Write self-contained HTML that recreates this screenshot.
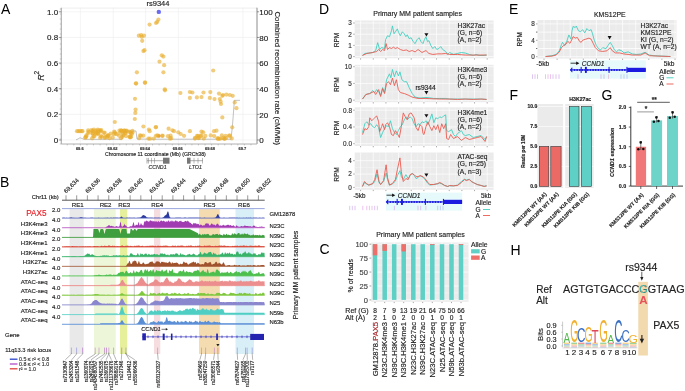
<!DOCTYPE html>
<html><head><meta charset="utf-8"><style>
html,body{margin:0;padding:0;background:#fff;width:685px;height:391px;overflow:hidden}
svg{display:block;filter:blur(0.3px)}
svg text{font-family:"Liberation Sans",sans-serif}
</style></head><body>
<svg width="685" height="391" viewBox="0 0 685 391" font-family="Liberation Sans">
<rect width="685" height="391" fill="#fff"/>
<text x="1.0" y="13.7" font-size="14" text-anchor="start" fill="#000" >A</text>
<line x1="80.40" y1="7.70" x2="80.40" y2="144.00" stroke="#ececec" stroke-width="0.6" />
<line x1="113.20" y1="7.70" x2="113.20" y2="144.00" stroke="#ececec" stroke-width="0.6" />
<line x1="145.60" y1="7.70" x2="145.60" y2="144.00" stroke="#ececec" stroke-width="0.6" />
<line x1="178.40" y1="7.70" x2="178.40" y2="144.00" stroke="#ececec" stroke-width="0.6" />
<line x1="210.60" y1="7.70" x2="210.60" y2="144.00" stroke="#ececec" stroke-width="0.6" />
<line x1="243.00" y1="7.70" x2="243.00" y2="144.00" stroke="#ececec" stroke-width="0.6" />
<line x1="61.30" y1="140.00" x2="257.00" y2="140.00" stroke="#ececec" stroke-width="0.6" />
<line x1="61.30" y1="114.36" x2="257.00" y2="114.36" stroke="#ececec" stroke-width="0.6" />
<line x1="61.30" y1="88.72" x2="257.00" y2="88.72" stroke="#ececec" stroke-width="0.6" />
<line x1="61.30" y1="63.08" x2="257.00" y2="63.08" stroke="#ececec" stroke-width="0.6" />
<line x1="61.30" y1="37.44" x2="257.00" y2="37.44" stroke="#ececec" stroke-width="0.6" />
<line x1="61.30" y1="11.80" x2="257.00" y2="11.80" stroke="#ececec" stroke-width="0.6" />
<line x1="61.30" y1="8.10" x2="257.00" y2="8.10" stroke="#e6e6e6" stroke-width="0.7" />
<line x1="61.30" y1="7.70" x2="61.30" y2="144.00" stroke="#b0b0b0" stroke-width="1.2" />
<line x1="257.00" y1="7.70" x2="257.00" y2="144.00" stroke="#808080" stroke-width="0.9" />
<line x1="61.30" y1="144.00" x2="257.00" y2="144.00" stroke="#b0b0b0" stroke-width="1.0" />
<line x1="59.80" y1="144.00" x2="61.30" y2="144.00" stroke="#999" stroke-width="0.5" />
<line x1="59.80" y1="139.00" x2="61.30" y2="139.00" stroke="#999" stroke-width="0.5" />
<line x1="59.80" y1="134.00" x2="61.30" y2="134.00" stroke="#999" stroke-width="0.5" />
<line x1="59.80" y1="129.00" x2="61.30" y2="129.00" stroke="#999" stroke-width="0.5" />
<line x1="59.80" y1="124.00" x2="61.30" y2="124.00" stroke="#999" stroke-width="0.5" />
<line x1="59.80" y1="119.00" x2="61.30" y2="119.00" stroke="#999" stroke-width="0.5" />
<line x1="59.80" y1="114.00" x2="61.30" y2="114.00" stroke="#999" stroke-width="0.5" />
<line x1="59.80" y1="109.00" x2="61.30" y2="109.00" stroke="#999" stroke-width="0.5" />
<line x1="59.80" y1="104.00" x2="61.30" y2="104.00" stroke="#999" stroke-width="0.5" />
<line x1="59.80" y1="99.00" x2="61.30" y2="99.00" stroke="#999" stroke-width="0.5" />
<line x1="59.80" y1="94.00" x2="61.30" y2="94.00" stroke="#999" stroke-width="0.5" />
<line x1="59.80" y1="89.00" x2="61.30" y2="89.00" stroke="#999" stroke-width="0.5" />
<line x1="59.80" y1="84.00" x2="61.30" y2="84.00" stroke="#999" stroke-width="0.5" />
<line x1="59.80" y1="79.00" x2="61.30" y2="79.00" stroke="#999" stroke-width="0.5" />
<line x1="59.80" y1="74.00" x2="61.30" y2="74.00" stroke="#999" stroke-width="0.5" />
<line x1="59.80" y1="69.00" x2="61.30" y2="69.00" stroke="#999" stroke-width="0.5" />
<line x1="59.80" y1="64.00" x2="61.30" y2="64.00" stroke="#999" stroke-width="0.5" />
<line x1="59.80" y1="59.00" x2="61.30" y2="59.00" stroke="#999" stroke-width="0.5" />
<line x1="59.80" y1="54.00" x2="61.30" y2="54.00" stroke="#999" stroke-width="0.5" />
<line x1="59.80" y1="49.00" x2="61.30" y2="49.00" stroke="#999" stroke-width="0.5" />
<line x1="59.80" y1="44.00" x2="61.30" y2="44.00" stroke="#999" stroke-width="0.5" />
<line x1="59.80" y1="39.00" x2="61.30" y2="39.00" stroke="#999" stroke-width="0.5" />
<line x1="59.80" y1="34.00" x2="61.30" y2="34.00" stroke="#999" stroke-width="0.5" />
<line x1="59.80" y1="29.00" x2="61.30" y2="29.00" stroke="#999" stroke-width="0.5" />
<line x1="59.80" y1="24.00" x2="61.30" y2="24.00" stroke="#999" stroke-width="0.5" />
<line x1="59.80" y1="19.00" x2="61.30" y2="19.00" stroke="#999" stroke-width="0.5" />
<line x1="59.80" y1="14.00" x2="61.30" y2="14.00" stroke="#999" stroke-width="0.5" />
<line x1="59.80" y1="9.00" x2="61.30" y2="9.00" stroke="#999" stroke-width="0.5" />
<line x1="257.00" y1="140.00" x2="259.00" y2="140.00" stroke="#555" stroke-width="0.6" />
<line x1="58.80" y1="140.00" x2="61.30" y2="140.00" stroke="#555" stroke-width="0.6" />
<line x1="257.00" y1="114.36" x2="259.00" y2="114.36" stroke="#555" stroke-width="0.6" />
<line x1="58.80" y1="114.36" x2="61.30" y2="114.36" stroke="#555" stroke-width="0.6" />
<line x1="257.00" y1="88.72" x2="259.00" y2="88.72" stroke="#555" stroke-width="0.6" />
<line x1="58.80" y1="88.72" x2="61.30" y2="88.72" stroke="#555" stroke-width="0.6" />
<line x1="257.00" y1="63.08" x2="259.00" y2="63.08" stroke="#555" stroke-width="0.6" />
<line x1="58.80" y1="63.08" x2="61.30" y2="63.08" stroke="#555" stroke-width="0.6" />
<line x1="257.00" y1="37.44" x2="259.00" y2="37.44" stroke="#555" stroke-width="0.6" />
<line x1="58.80" y1="37.44" x2="61.30" y2="37.44" stroke="#555" stroke-width="0.6" />
<line x1="257.00" y1="11.80" x2="259.00" y2="11.80" stroke="#555" stroke-width="0.6" />
<line x1="58.80" y1="11.80" x2="61.30" y2="11.80" stroke="#555" stroke-width="0.6" />
<line x1="67.28" y1="144.00" x2="67.28" y2="145.50" stroke="#888" stroke-width="0.4" />
<line x1="73.84" y1="144.00" x2="73.84" y2="145.50" stroke="#888" stroke-width="0.4" />
<line x1="80.40" y1="144.00" x2="80.40" y2="145.50" stroke="#888" stroke-width="0.4" />
<line x1="86.96" y1="144.00" x2="86.96" y2="145.50" stroke="#888" stroke-width="0.4" />
<line x1="93.52" y1="144.00" x2="93.52" y2="145.50" stroke="#888" stroke-width="0.4" />
<line x1="100.08" y1="144.00" x2="100.08" y2="145.50" stroke="#888" stroke-width="0.4" />
<line x1="106.64" y1="144.00" x2="106.64" y2="145.50" stroke="#888" stroke-width="0.4" />
<line x1="113.20" y1="144.00" x2="113.20" y2="145.50" stroke="#888" stroke-width="0.4" />
<line x1="119.76" y1="144.00" x2="119.76" y2="145.50" stroke="#888" stroke-width="0.4" />
<line x1="126.32" y1="144.00" x2="126.32" y2="145.50" stroke="#888" stroke-width="0.4" />
<line x1="132.88" y1="144.00" x2="132.88" y2="145.50" stroke="#888" stroke-width="0.4" />
<line x1="139.44" y1="144.00" x2="139.44" y2="145.50" stroke="#888" stroke-width="0.4" />
<line x1="146.00" y1="144.00" x2="146.00" y2="145.50" stroke="#888" stroke-width="0.4" />
<line x1="152.56" y1="144.00" x2="152.56" y2="145.50" stroke="#888" stroke-width="0.4" />
<line x1="159.12" y1="144.00" x2="159.12" y2="145.50" stroke="#888" stroke-width="0.4" />
<line x1="165.68" y1="144.00" x2="165.68" y2="145.50" stroke="#888" stroke-width="0.4" />
<line x1="172.24" y1="144.00" x2="172.24" y2="145.50" stroke="#888" stroke-width="0.4" />
<line x1="178.80" y1="144.00" x2="178.80" y2="145.50" stroke="#888" stroke-width="0.4" />
<line x1="185.36" y1="144.00" x2="185.36" y2="145.50" stroke="#888" stroke-width="0.4" />
<line x1="191.92" y1="144.00" x2="191.92" y2="145.50" stroke="#888" stroke-width="0.4" />
<line x1="198.48" y1="144.00" x2="198.48" y2="145.50" stroke="#888" stroke-width="0.4" />
<line x1="205.04" y1="144.00" x2="205.04" y2="145.50" stroke="#888" stroke-width="0.4" />
<line x1="211.60" y1="144.00" x2="211.60" y2="145.50" stroke="#888" stroke-width="0.4" />
<line x1="218.16" y1="144.00" x2="218.16" y2="145.50" stroke="#888" stroke-width="0.4" />
<line x1="224.72" y1="144.00" x2="224.72" y2="145.50" stroke="#888" stroke-width="0.4" />
<line x1="231.28" y1="144.00" x2="231.28" y2="145.50" stroke="#888" stroke-width="0.4" />
<line x1="237.84" y1="144.00" x2="237.84" y2="145.50" stroke="#888" stroke-width="0.4" />
<line x1="244.40" y1="144.00" x2="244.40" y2="145.50" stroke="#888" stroke-width="0.4" />
<line x1="250.96" y1="144.00" x2="250.96" y2="145.50" stroke="#888" stroke-width="0.4" />
<text x="58.2" y="142.9" font-size="8.0" text-anchor="end" fill="#222" stroke="#222" stroke-width="0.15" >0</text>
<text x="58.2" y="117.3" font-size="8.0" text-anchor="end" fill="#222" stroke="#222" stroke-width="0.15" >0.2</text>
<text x="58.2" y="91.6" font-size="8.0" text-anchor="end" fill="#222" stroke="#222" stroke-width="0.15" >0.4</text>
<text x="58.2" y="66.0" font-size="8.0" text-anchor="end" fill="#222" stroke="#222" stroke-width="0.15" >0.6</text>
<text x="58.2" y="40.3" font-size="8.0" text-anchor="end" fill="#222" stroke="#222" stroke-width="0.15" >0.8</text>
<text x="58.2" y="14.7" font-size="8.0" text-anchor="end" fill="#222" stroke="#222" stroke-width="0.15" >1.0</text>
<text x="259.3" y="143.2" font-size="8.0" text-anchor="start" fill="#222" stroke="#222" stroke-width="0.15" >0</text>
<text x="259.3" y="117.6" font-size="8.0" text-anchor="start" fill="#222" stroke="#222" stroke-width="0.15" >20</text>
<text x="259.3" y="91.9" font-size="8.0" text-anchor="start" fill="#222" stroke="#222" stroke-width="0.15" >40</text>
<text x="259.3" y="66.3" font-size="8.0" text-anchor="start" fill="#222" stroke="#222" stroke-width="0.15" >60</text>
<text x="259.3" y="40.6" font-size="8.0" text-anchor="start" fill="#222" stroke="#222" stroke-width="0.15" >80</text>
<text x="259.3" y="15.0" font-size="8.0" text-anchor="start" fill="#222" stroke="#222" stroke-width="0.15" >100</text>
<text transform="translate(43.6,80.8) rotate(-90)" font-size="8.8" text-anchor="start" fill="#222" stroke="#222" stroke-width="0.15" ><tspan font-style="italic">R</tspan><tspan dy="-4.3" font-size="6.5">2</tspan></text>
<text transform="translate(275.3,78.3) rotate(90)" font-size="7.85" text-anchor="middle" fill="#222" stroke="#222" stroke-width="0.15" >Combined recombination rate (cM/Mb)</text>
<text x="79.8" y="150.2" font-size="4.0" text-anchor="middle" fill="#333" stroke="#333" stroke-width="0.15" font-weight="bold">69.6</text>
<text x="112.6" y="150.2" font-size="4.0" text-anchor="middle" fill="#333" stroke="#333" stroke-width="0.15" font-weight="bold">69.62</text>
<text x="145.0" y="150.2" font-size="4.0" text-anchor="middle" fill="#333" stroke="#333" stroke-width="0.15" font-weight="bold">69.64</text>
<text x="177.8" y="150.2" font-size="4.0" text-anchor="middle" fill="#333" stroke="#333" stroke-width="0.15" font-weight="bold">69.66</text>
<text x="210.0" y="150.2" font-size="4.0" text-anchor="middle" fill="#333" stroke="#333" stroke-width="0.15" font-weight="bold">69.68</text>
<text x="242.4" y="150.2" font-size="4.0" text-anchor="middle" fill="#333" stroke="#333" stroke-width="0.15" font-weight="bold">69.7</text>
<text x="155.4" y="155.6" font-size="5.2" text-anchor="middle" fill="#222" stroke="#222" stroke-width="0.15" >Chromosome 11 coordinate (Mb) (GRCh38)</text>
<polyline points="76.00,139.80 78.00,139.00 80.00,137.70 82.00,138.50 84.00,139.30 100.00,139.30 122.00,139.20 123.50,131.00 136.00,131.00 137.00,139.00 150.00,139.20 231.00,139.20 232.50,125.00 234.40,100.30 240.00,100.30" stroke="#999" stroke-width="0.6" fill="none" stroke-linejoin="round" />
<circle cx="159.00" cy="135.80" r="1.6" fill="#ea5a3a" fill-opacity="0.75"/>
<circle cx="136.00" cy="83.30" r="2.1" fill="#e9ac2c" fill-opacity="0.62"/>
<circle cx="145.00" cy="82.80" r="2.1" fill="#e9ac2c" fill-opacity="0.62"/>
<circle cx="135.00" cy="98.80" r="2.1" fill="#e9ac2c" fill-opacity="0.62"/>
<circle cx="135.60" cy="109.60" r="2.1" fill="#e9ac2c" fill-opacity="0.62"/>
<circle cx="135.30" cy="112.90" r="2.1" fill="#e9ac2c" fill-opacity="0.62"/>
<circle cx="134.80" cy="119.00" r="2.1" fill="#e9ac2c" fill-opacity="0.62"/>
<circle cx="114.80" cy="122.00" r="2.1" fill="#e9ac2c" fill-opacity="0.62"/>
<circle cx="143.40" cy="126.50" r="2.1" fill="#e9ac2c" fill-opacity="0.62"/>
<circle cx="156.00" cy="127.00" r="2.1" fill="#e9ac2c" fill-opacity="0.62"/>
<circle cx="148.90" cy="129.50" r="2.1" fill="#e9ac2c" fill-opacity="0.62"/>
<circle cx="149.70" cy="131.20" r="2.1" fill="#e9ac2c" fill-opacity="0.62"/>
<circle cx="158.40" cy="19.60" r="2.1" fill="#e9ac2c" fill-opacity="0.62"/>
<circle cx="157.20" cy="21.90" r="2.1" fill="#e9ac2c" fill-opacity="0.62"/>
<circle cx="156.00" cy="23.00" r="2.1" fill="#e9ac2c" fill-opacity="0.62"/>
<circle cx="149.60" cy="24.60" r="2.1" fill="#e9ac2c" fill-opacity="0.62"/>
<circle cx="138.80" cy="35.70" r="2.1" fill="#e9ac2c" fill-opacity="0.62"/>
<circle cx="141.10" cy="35.00" r="2.1" fill="#e9ac2c" fill-opacity="0.62"/>
<circle cx="144.00" cy="35.70" r="2.1" fill="#e9ac2c" fill-opacity="0.62"/>
<circle cx="141.80" cy="36.80" r="2.1" fill="#e9ac2c" fill-opacity="0.62"/>
<circle cx="142.20" cy="40.80" r="2.1" fill="#e9ac2c" fill-opacity="0.62"/>
<circle cx="143.40" cy="51.10" r="2.1" fill="#e9ac2c" fill-opacity="0.62"/>
<circle cx="144.50" cy="50.20" r="2.1" fill="#e9ac2c" fill-opacity="0.62"/>
<circle cx="161.80" cy="55.30" r="2.1" fill="#e9ac2c" fill-opacity="0.62"/>
<circle cx="163.40" cy="56.60" r="2.1" fill="#e9ac2c" fill-opacity="0.62"/>
<circle cx="159.50" cy="61.70" r="2.1" fill="#e9ac2c" fill-opacity="0.62"/>
<circle cx="164.10" cy="65.20" r="2.1" fill="#e9ac2c" fill-opacity="0.62"/>
<circle cx="136.90" cy="72.30" r="2.1" fill="#e9ac2c" fill-opacity="0.62"/>
<circle cx="163.40" cy="72.30" r="2.1" fill="#e9ac2c" fill-opacity="0.62"/>
<circle cx="213.20" cy="70.50" r="2.1" fill="#e9ac2c" fill-opacity="0.62"/>
<circle cx="136.00" cy="83.60" r="2.1" fill="#e9ac2c" fill-opacity="0.62"/>
<circle cx="145.00" cy="82.40" r="2.1" fill="#e9ac2c" fill-opacity="0.62"/>
<circle cx="164.80" cy="89.30" r="2.1" fill="#e9ac2c" fill-opacity="0.62"/>
<circle cx="165.00" cy="90.30" r="2.1" fill="#e9ac2c" fill-opacity="0.62"/>
<circle cx="180.40" cy="93.00" r="2.1" fill="#e9ac2c" fill-opacity="0.62"/>
<circle cx="189.90" cy="92.00" r="2.1" fill="#e9ac2c" fill-opacity="0.62"/>
<circle cx="192.40" cy="92.50" r="2.1" fill="#e9ac2c" fill-opacity="0.62"/>
<circle cx="203.50" cy="92.50" r="2.1" fill="#e9ac2c" fill-opacity="0.62"/>
<circle cx="210.30" cy="92.10" r="2.1" fill="#e9ac2c" fill-opacity="0.62"/>
<circle cx="219.00" cy="93.60" r="2.1" fill="#e9ac2c" fill-opacity="0.62"/>
<circle cx="222.30" cy="95.80" r="2.1" fill="#e9ac2c" fill-opacity="0.62"/>
<circle cx="223.00" cy="95.00" r="2.1" fill="#e9ac2c" fill-opacity="0.62"/>
<circle cx="226.40" cy="94.60" r="2.1" fill="#e9ac2c" fill-opacity="0.62"/>
<circle cx="229.80" cy="95.00" r="2.1" fill="#e9ac2c" fill-opacity="0.62"/>
<circle cx="232.70" cy="95.80" r="2.1" fill="#e9ac2c" fill-opacity="0.62"/>
<circle cx="189.90" cy="97.90" r="2.1" fill="#e9ac2c" fill-opacity="0.62"/>
<circle cx="196.90" cy="97.40" r="2.1" fill="#e9ac2c" fill-opacity="0.62"/>
<circle cx="201.50" cy="97.10" r="2.1" fill="#e9ac2c" fill-opacity="0.62"/>
<circle cx="209.80" cy="97.90" r="2.1" fill="#e9ac2c" fill-opacity="0.62"/>
<circle cx="214.50" cy="99.10" r="2.1" fill="#e9ac2c" fill-opacity="0.62"/>
<circle cx="219.80" cy="99.10" r="2.1" fill="#e9ac2c" fill-opacity="0.62"/>
<circle cx="220.60" cy="101.60" r="2.1" fill="#e9ac2c" fill-opacity="0.62"/>
<circle cx="221.00" cy="104.00" r="2.1" fill="#e9ac2c" fill-opacity="0.62"/>
<circle cx="234.70" cy="102.40" r="2.1" fill="#e9ac2c" fill-opacity="0.62"/>
<circle cx="236.40" cy="108.20" r="2.1" fill="#e9ac2c" fill-opacity="0.62"/>
<circle cx="222.30" cy="117.40" r="2.1" fill="#e9ac2c" fill-opacity="0.62"/>
<circle cx="232.20" cy="127.30" r="2.1" fill="#e9ac2c" fill-opacity="0.62"/>
<circle cx="155.80" cy="127.30" r="2.1" fill="#e9ac2c" fill-opacity="0.62"/>
<circle cx="168.60" cy="128.70" r="2.1" fill="#e9ac2c" fill-opacity="0.62"/>
<circle cx="172.40" cy="130.30" r="2.1" fill="#e9ac2c" fill-opacity="0.62"/>
<circle cx="174.00" cy="131.20" r="2.1" fill="#e9ac2c" fill-opacity="0.62"/>
<circle cx="178.30" cy="132.30" r="2.1" fill="#e9ac2c" fill-opacity="0.62"/>
<circle cx="189.90" cy="131.20" r="2.1" fill="#e9ac2c" fill-opacity="0.62"/>
<circle cx="201.50" cy="131.50" r="2.1" fill="#e9ac2c" fill-opacity="0.62"/>
<circle cx="203.20" cy="132.30" r="2.1" fill="#e9ac2c" fill-opacity="0.62"/>
<circle cx="214.00" cy="131.20" r="2.1" fill="#e9ac2c" fill-opacity="0.62"/>
<circle cx="216.50" cy="130.70" r="2.1" fill="#e9ac2c" fill-opacity="0.62"/>
<circle cx="180.70" cy="134.00" r="2.1" fill="#e9ac2c" fill-opacity="0.62"/>
<circle cx="77.00" cy="131.20" r="2.1" fill="#e9ac2c" fill-opacity="0.62"/>
<circle cx="78.50" cy="131.20" r="2.1" fill="#e9ac2c" fill-opacity="0.62"/>
<circle cx="80.00" cy="131.20" r="2.1" fill="#e9ac2c" fill-opacity="0.62"/>
<circle cx="81.50" cy="131.20" r="2.1" fill="#e9ac2c" fill-opacity="0.62"/>
<circle cx="82.50" cy="131.20" r="2.1" fill="#e9ac2c" fill-opacity="0.62"/>
<circle cx="98.00" cy="133.54" r="2.1" fill="#e9ac2c" fill-opacity="0.62"/>
<circle cx="100.41" cy="130.51" r="2.1" fill="#e9ac2c" fill-opacity="0.62"/>
<circle cx="92.80" cy="133.43" r="2.1" fill="#e9ac2c" fill-opacity="0.62"/>
<circle cx="88.08" cy="133.20" r="2.1" fill="#e9ac2c" fill-opacity="0.62"/>
<circle cx="100.75" cy="131.61" r="2.1" fill="#e9ac2c" fill-opacity="0.62"/>
<circle cx="92.85" cy="130.75" r="2.1" fill="#e9ac2c" fill-opacity="0.62"/>
<circle cx="92.08" cy="131.50" r="2.1" fill="#e9ac2c" fill-opacity="0.62"/>
<circle cx="96.07" cy="131.99" r="2.1" fill="#e9ac2c" fill-opacity="0.62"/>
<circle cx="103.93" cy="133.07" r="2.1" fill="#e9ac2c" fill-opacity="0.62"/>
<circle cx="97.95" cy="133.95" r="2.1" fill="#e9ac2c" fill-opacity="0.62"/>
<circle cx="91.44" cy="130.22" r="2.1" fill="#e9ac2c" fill-opacity="0.62"/>
<circle cx="97.80" cy="129.70" r="2.1" fill="#e9ac2c" fill-opacity="0.62"/>
<circle cx="88.57" cy="131.82" r="2.1" fill="#e9ac2c" fill-opacity="0.62"/>
<circle cx="95.46" cy="133.63" r="2.1" fill="#e9ac2c" fill-opacity="0.62"/>
<circle cx="98.07" cy="131.81" r="2.1" fill="#e9ac2c" fill-opacity="0.62"/>
<circle cx="95.95" cy="130.61" r="2.1" fill="#e9ac2c" fill-opacity="0.62"/>
<circle cx="88.19" cy="130.37" r="2.1" fill="#e9ac2c" fill-opacity="0.62"/>
<circle cx="99.07" cy="130.40" r="2.1" fill="#e9ac2c" fill-opacity="0.62"/>
<circle cx="93.91" cy="129.52" r="2.1" fill="#e9ac2c" fill-opacity="0.62"/>
<circle cx="101.28" cy="130.20" r="2.1" fill="#e9ac2c" fill-opacity="0.62"/>
<circle cx="92.28" cy="133.46" r="2.1" fill="#e9ac2c" fill-opacity="0.62"/>
<circle cx="96.16" cy="133.31" r="2.1" fill="#e9ac2c" fill-opacity="0.62"/>
<circle cx="125.79" cy="133.29" r="2.1" fill="#e9ac2c" fill-opacity="0.62"/>
<circle cx="114.83" cy="132.34" r="2.1" fill="#e9ac2c" fill-opacity="0.62"/>
<circle cx="123.16" cy="133.90" r="2.1" fill="#e9ac2c" fill-opacity="0.62"/>
<circle cx="120.23" cy="132.61" r="2.1" fill="#e9ac2c" fill-opacity="0.62"/>
<circle cx="114.19" cy="131.62" r="2.1" fill="#e9ac2c" fill-opacity="0.62"/>
<circle cx="119.46" cy="130.51" r="2.1" fill="#e9ac2c" fill-opacity="0.62"/>
<circle cx="129.33" cy="131.58" r="2.1" fill="#e9ac2c" fill-opacity="0.62"/>
<circle cx="132.57" cy="132.57" r="2.1" fill="#e9ac2c" fill-opacity="0.62"/>
<circle cx="125.10" cy="132.80" r="2.1" fill="#e9ac2c" fill-opacity="0.62"/>
<circle cx="126.53" cy="130.51" r="2.1" fill="#e9ac2c" fill-opacity="0.62"/>
<circle cx="121.81" cy="130.93" r="2.1" fill="#e9ac2c" fill-opacity="0.62"/>
<circle cx="121.05" cy="130.25" r="2.1" fill="#e9ac2c" fill-opacity="0.62"/>
<circle cx="132.36" cy="130.81" r="2.1" fill="#e9ac2c" fill-opacity="0.62"/>
<circle cx="126.44" cy="131.21" r="2.1" fill="#e9ac2c" fill-opacity="0.62"/>
<circle cx="130.48" cy="132.91" r="2.1" fill="#e9ac2c" fill-opacity="0.62"/>
<circle cx="115.63" cy="133.77" r="2.1" fill="#e9ac2c" fill-opacity="0.62"/>
<circle cx="131.90" cy="134.05" r="2.1" fill="#e9ac2c" fill-opacity="0.62"/>
<circle cx="124.39" cy="130.48" r="2.1" fill="#e9ac2c" fill-opacity="0.62"/>
<circle cx="116.85" cy="134.16" r="2.1" fill="#e9ac2c" fill-opacity="0.62"/>
<circle cx="124.05" cy="130.65" r="2.1" fill="#e9ac2c" fill-opacity="0.62"/>
<circle cx="130.68" cy="132.82" r="2.1" fill="#e9ac2c" fill-opacity="0.62"/>
<circle cx="124.39" cy="131.57" r="2.1" fill="#e9ac2c" fill-opacity="0.62"/>
<circle cx="121.22" cy="130.93" r="2.1" fill="#e9ac2c" fill-opacity="0.62"/>
<circle cx="113.76" cy="133.92" r="2.1" fill="#e9ac2c" fill-opacity="0.62"/>
<circle cx="106.98" cy="136.97" r="2.1" fill="#e9ac2c" fill-opacity="0.62"/>
<circle cx="100.14" cy="137.70" r="2.1" fill="#e9ac2c" fill-opacity="0.62"/>
<circle cx="86.18" cy="136.34" r="2.1" fill="#e9ac2c" fill-opacity="0.62"/>
<circle cx="86.43" cy="135.44" r="2.1" fill="#e9ac2c" fill-opacity="0.62"/>
<circle cx="130.46" cy="137.37" r="2.1" fill="#e9ac2c" fill-opacity="0.62"/>
<circle cx="105.13" cy="136.89" r="2.1" fill="#e9ac2c" fill-opacity="0.62"/>
<circle cx="126.02" cy="136.24" r="2.1" fill="#e9ac2c" fill-opacity="0.62"/>
<circle cx="112.74" cy="137.46" r="2.1" fill="#e9ac2c" fill-opacity="0.62"/>
<circle cx="101.70" cy="136.87" r="2.1" fill="#e9ac2c" fill-opacity="0.62"/>
<circle cx="120.97" cy="138.27" r="2.1" fill="#e9ac2c" fill-opacity="0.62"/>
<circle cx="92.10" cy="138.36" r="2.1" fill="#e9ac2c" fill-opacity="0.62"/>
<circle cx="85.24" cy="137.71" r="2.1" fill="#e9ac2c" fill-opacity="0.62"/>
<circle cx="123.09" cy="135.49" r="2.1" fill="#e9ac2c" fill-opacity="0.62"/>
<circle cx="104.69" cy="137.93" r="2.1" fill="#e9ac2c" fill-opacity="0.62"/>
<circle cx="85.67" cy="137.26" r="2.1" fill="#e9ac2c" fill-opacity="0.62"/>
<circle cx="122.27" cy="136.85" r="2.1" fill="#e9ac2c" fill-opacity="0.62"/>
<circle cx="119.11" cy="135.82" r="2.1" fill="#e9ac2c" fill-opacity="0.62"/>
<circle cx="94.33" cy="136.31" r="2.1" fill="#e9ac2c" fill-opacity="0.62"/>
<circle cx="93.43" cy="136.25" r="2.1" fill="#e9ac2c" fill-opacity="0.62"/>
<circle cx="129.56" cy="137.06" r="2.1" fill="#e9ac2c" fill-opacity="0.62"/>
<circle cx="100.98" cy="135.98" r="2.1" fill="#e9ac2c" fill-opacity="0.62"/>
<circle cx="129.75" cy="136.60" r="2.1" fill="#e9ac2c" fill-opacity="0.62"/>
<circle cx="131.08" cy="136.86" r="2.1" fill="#e9ac2c" fill-opacity="0.62"/>
<circle cx="109.49" cy="138.23" r="2.1" fill="#e9ac2c" fill-opacity="0.62"/>
<circle cx="110.68" cy="133.48" r="2.1" fill="#e9ac2c" fill-opacity="0.62"/>
<circle cx="107.84" cy="135.27" r="2.1" fill="#e9ac2c" fill-opacity="0.62"/>
<circle cx="107.70" cy="135.54" r="2.1" fill="#e9ac2c" fill-opacity="0.62"/>
<circle cx="104.62" cy="132.58" r="2.1" fill="#e9ac2c" fill-opacity="0.62"/>
<circle cx="108.68" cy="135.71" r="2.1" fill="#e9ac2c" fill-opacity="0.62"/>
<circle cx="162.35" cy="136.03" r="2.1" fill="#e9ac2c" fill-opacity="0.62"/>
<circle cx="205.32" cy="135.95" r="2.1" fill="#e9ac2c" fill-opacity="0.62"/>
<circle cx="200.59" cy="136.17" r="2.1" fill="#e9ac2c" fill-opacity="0.62"/>
<circle cx="170.60" cy="135.66" r="2.1" fill="#e9ac2c" fill-opacity="0.62"/>
<circle cx="157.49" cy="135.35" r="2.1" fill="#e9ac2c" fill-opacity="0.62"/>
<circle cx="158.50" cy="136.12" r="2.1" fill="#e9ac2c" fill-opacity="0.62"/>
<circle cx="221.86" cy="135.40" r="2.1" fill="#e9ac2c" fill-opacity="0.62"/>
<circle cx="197.98" cy="135.73" r="2.1" fill="#e9ac2c" fill-opacity="0.62"/>
<circle cx="197.06" cy="135.89" r="2.1" fill="#e9ac2c" fill-opacity="0.62"/>
<circle cx="167.97" cy="136.17" r="2.1" fill="#e9ac2c" fill-opacity="0.62"/>
<circle cx="184.05" cy="135.87" r="2.1" fill="#e9ac2c" fill-opacity="0.62"/>
<circle cx="201.16" cy="135.47" r="2.1" fill="#e9ac2c" fill-opacity="0.62"/>
<circle cx="143.25" cy="135.67" r="2.1" fill="#e9ac2c" fill-opacity="0.62"/>
<circle cx="214.17" cy="136.03" r="2.1" fill="#e9ac2c" fill-opacity="0.62"/>
<circle cx="210.73" cy="135.40" r="2.1" fill="#e9ac2c" fill-opacity="0.62"/>
<circle cx="229.25" cy="136.02" r="2.1" fill="#e9ac2c" fill-opacity="0.62"/>
<circle cx="225.65" cy="135.77" r="2.1" fill="#e9ac2c" fill-opacity="0.62"/>
<circle cx="229.48" cy="135.34" r="2.1" fill="#e9ac2c" fill-opacity="0.62"/>
<circle cx="140.06" cy="135.32" r="2.1" fill="#e9ac2c" fill-opacity="0.62"/>
<circle cx="162.53" cy="135.52" r="2.1" fill="#e9ac2c" fill-opacity="0.62"/>
<circle cx="155.94" cy="135.81" r="2.1" fill="#e9ac2c" fill-opacity="0.62"/>
<circle cx="140.94" cy="135.83" r="2.1" fill="#e9ac2c" fill-opacity="0.62"/>
<circle cx="153.77" cy="138.61" r="2.1" fill="#e9ac2c" fill-opacity="0.62"/>
<circle cx="139.13" cy="138.17" r="2.1" fill="#e9ac2c" fill-opacity="0.62"/>
<circle cx="231.77" cy="138.45" r="2.1" fill="#e9ac2c" fill-opacity="0.62"/>
<circle cx="218.97" cy="138.59" r="2.1" fill="#e9ac2c" fill-opacity="0.62"/>
<circle cx="198.69" cy="138.03" r="2.1" fill="#e9ac2c" fill-opacity="0.62"/>
<circle cx="195.01" cy="137.85" r="2.1" fill="#e9ac2c" fill-opacity="0.62"/>
<circle cx="217.97" cy="138.95" r="2.1" fill="#e9ac2c" fill-opacity="0.62"/>
<circle cx="223.25" cy="137.86" r="2.1" fill="#e9ac2c" fill-opacity="0.62"/>
<circle cx="171.20" cy="138.18" r="2.1" fill="#e9ac2c" fill-opacity="0.62"/>
<circle cx="148.38" cy="138.55" r="2.1" fill="#e9ac2c" fill-opacity="0.62"/>
<circle cx="217.54" cy="138.18" r="2.1" fill="#e9ac2c" fill-opacity="0.62"/>
<circle cx="224.14" cy="138.76" r="2.1" fill="#e9ac2c" fill-opacity="0.62"/>
<circle cx="150.04" cy="138.72" r="2.1" fill="#e9ac2c" fill-opacity="0.62"/>
<circle cx="226.14" cy="138.04" r="2.1" fill="#e9ac2c" fill-opacity="0.62"/>
<circle cx="194.94" cy="138.57" r="2.1" fill="#e9ac2c" fill-opacity="0.62"/>
<circle cx="198.54" cy="137.92" r="2.1" fill="#e9ac2c" fill-opacity="0.62"/>
<circle cx="203.78" cy="138.56" r="2.1" fill="#e9ac2c" fill-opacity="0.62"/>
<circle cx="220.21" cy="138.76" r="2.1" fill="#e9ac2c" fill-opacity="0.62"/>
<circle cx="170.04" cy="138.67" r="2.1" fill="#e9ac2c" fill-opacity="0.62"/>
<circle cx="224.59" cy="138.87" r="2.1" fill="#e9ac2c" fill-opacity="0.62"/>
<circle cx="158.80" cy="11.90" r="2.2" fill="#6b6bf0" />
<text x="158.0" y="5.6" font-size="7.5" text-anchor="middle" fill="#222" stroke="#222" stroke-width="0.15" >rs9344</text>
<line x1="147.00" y1="160.70" x2="163.00" y2="160.70" stroke="#777" stroke-width="0.6" />
<line x1="148.50" y1="157.90" x2="148.50" y2="163.50" stroke="#777" stroke-width="0.5" />
<line x1="151.50" y1="157.90" x2="151.50" y2="163.50" stroke="#777" stroke-width="0.5" />
<line x1="154.50" y1="157.90" x2="154.50" y2="163.50" stroke="#777" stroke-width="0.5" />
<rect x="163.00" y="157.70" width="6.50" height="6.00" fill="#777" />
<line x1="147.00" y1="157.90" x2="147.00" y2="163.50" stroke="#777" stroke-width="0.6" />
<line x1="189.00" y1="160.70" x2="203.00" y2="160.70" stroke="#777" stroke-width="0.6" />
<rect x="187.00" y="157.70" width="3.50" height="6.00" fill="#777" />
<line x1="194.00" y1="157.90" x2="194.00" y2="163.50" stroke="#777" stroke-width="0.5" />
<line x1="198.00" y1="157.90" x2="198.00" y2="163.50" stroke="#777" stroke-width="0.5" />
<line x1="202.50" y1="157.90" x2="202.50" y2="163.50" stroke="#777" stroke-width="0.5" />
<text x="157.5" y="169.3" font-size="5.3" text-anchor="middle" fill="#333" stroke="#333" stroke-width="0.15" font-style="italic">CCND1</text>
<text x="195.5" y="169.3" font-size="5.3" text-anchor="middle" fill="#333" stroke="#333" stroke-width="0.15" font-style="italic">LTO1</text>
<text x="0.0" y="186.7" font-size="14" text-anchor="start" fill="#000" >B</text>
<text x="58.7" y="199.2" font-size="5.8" text-anchor="end" fill="#222" stroke="#222" stroke-width="0.15" >Chr11 (kb)</text>
<line x1="62.00" y1="200.20" x2="264.70" y2="200.20" stroke="#555" stroke-width="1.0" />
<line x1="66.00" y1="195.30" x2="66.00" y2="200.20" stroke="#555" stroke-width="0.6" />
<line x1="76.69" y1="195.30" x2="76.69" y2="200.20" stroke="#555" stroke-width="0.6" />
<line x1="87.38" y1="195.30" x2="87.38" y2="200.20" stroke="#555" stroke-width="0.6" />
<line x1="98.07" y1="195.30" x2="98.07" y2="200.20" stroke="#555" stroke-width="0.6" />
<line x1="108.76" y1="195.30" x2="108.76" y2="200.20" stroke="#555" stroke-width="0.6" />
<line x1="119.45" y1="195.30" x2="119.45" y2="200.20" stroke="#555" stroke-width="0.6" />
<line x1="130.14" y1="195.30" x2="130.14" y2="200.20" stroke="#555" stroke-width="0.6" />
<line x1="140.83" y1="195.30" x2="140.83" y2="200.20" stroke="#555" stroke-width="0.6" />
<line x1="151.52" y1="195.30" x2="151.52" y2="200.20" stroke="#555" stroke-width="0.6" />
<line x1="162.21" y1="195.30" x2="162.21" y2="200.20" stroke="#555" stroke-width="0.6" />
<line x1="172.90" y1="195.30" x2="172.90" y2="200.20" stroke="#555" stroke-width="0.6" />
<line x1="183.59" y1="195.30" x2="183.59" y2="200.20" stroke="#555" stroke-width="0.6" />
<line x1="194.28" y1="195.30" x2="194.28" y2="200.20" stroke="#555" stroke-width="0.6" />
<line x1="204.97" y1="195.30" x2="204.97" y2="200.20" stroke="#555" stroke-width="0.6" />
<line x1="215.66" y1="195.30" x2="215.66" y2="200.20" stroke="#555" stroke-width="0.6" />
<line x1="226.35" y1="195.30" x2="226.35" y2="200.20" stroke="#555" stroke-width="0.6" />
<line x1="237.04" y1="195.30" x2="237.04" y2="200.20" stroke="#555" stroke-width="0.6" />
<line x1="247.73" y1="195.30" x2="247.73" y2="200.20" stroke="#555" stroke-width="0.6" />
<line x1="258.42" y1="195.30" x2="258.42" y2="200.20" stroke="#555" stroke-width="0.6" />
<text transform="translate(66.3,193.6) rotate(-45)" font-size="6.0" text-anchor="start" fill="#222" stroke="#222" stroke-width="0.15" >69,634</text>
<text transform="translate(87.7,193.6) rotate(-45)" font-size="6.0" text-anchor="start" fill="#222" stroke="#222" stroke-width="0.15" >69,636</text>
<text transform="translate(109.1,193.6) rotate(-45)" font-size="6.0" text-anchor="start" fill="#222" stroke="#222" stroke-width="0.15" >69,638</text>
<text transform="translate(130.4,193.6) rotate(-45)" font-size="6.0" text-anchor="start" fill="#222" stroke="#222" stroke-width="0.15" >69,640</text>
<text transform="translate(151.8,193.6) rotate(-45)" font-size="6.0" text-anchor="start" fill="#222" stroke="#222" stroke-width="0.15" >69,642</text>
<text transform="translate(173.2,193.6) rotate(-45)" font-size="6.0" text-anchor="start" fill="#222" stroke="#222" stroke-width="0.15" >69,644</text>
<text transform="translate(194.6,193.6) rotate(-45)" font-size="6.0" text-anchor="start" fill="#222" stroke="#222" stroke-width="0.15" >69,646</text>
<text transform="translate(216.0,193.6) rotate(-45)" font-size="6.0" text-anchor="start" fill="#222" stroke="#222" stroke-width="0.15" >69,648</text>
<text transform="translate(237.3,193.6) rotate(-45)" font-size="6.0" text-anchor="start" fill="#222" stroke="#222" stroke-width="0.15" >69,650</text>
<text transform="translate(258.7,193.6) rotate(-45)" font-size="6.0" text-anchor="start" fill="#222" stroke="#222" stroke-width="0.15" >69,652</text>
<rect x="69.60" y="209.20" width="14.10" height="144.80" fill="#e9e9e9" />
<rect x="94.00" y="209.20" width="21.70" height="144.80" fill="#eef6d9" />
<rect x="120.00" y="209.20" width="7.20" height="144.80" fill="#e6ef9c" />
<rect x="154.00" y="209.20" width="6.30" height="144.80" fill="#f6dde0" />
<rect x="199.00" y="209.20" width="20.80" height="144.80" fill="#f4dcb0" />
<rect x="235.50" y="209.20" width="18.50" height="144.80" fill="#d9eff8" />
<text x="77.7" y="206.9" font-size="6.1" text-anchor="middle" fill="#222" stroke="#222" stroke-width="0.15" >RE1</text>
<text x="105.6" y="206.9" font-size="6.1" text-anchor="middle" fill="#222" stroke="#222" stroke-width="0.15" >RE2</text>
<text x="124.3" y="206.9" font-size="6.1" text-anchor="middle" fill="#222" stroke="#222" stroke-width="0.15" >RE3</text>
<text x="157.2" y="206.9" font-size="6.1" text-anchor="middle" fill="#222" stroke="#222" stroke-width="0.15" >RE4</text>
<text x="209.4" y="206.9" font-size="6.1" text-anchor="middle" fill="#222" stroke="#222" stroke-width="0.15" >RE5</text>
<text x="244.0" y="206.9" font-size="6.1" text-anchor="middle" fill="#222" stroke="#222" stroke-width="0.15" >RE6</text>
<line x1="62.00" y1="208.60" x2="264.70" y2="208.60" stroke="#6f7fd0" stroke-width="0.7" />
<polygon points="62.00,218.10 62.00,217.99 62.50,217.95 63.00,217.83 63.50,217.72 64.00,217.67 64.50,217.86 65.00,218.00 65.50,217.94 66.00,217.91 66.50,217.83 67.00,217.97 67.50,218.01 68.00,218.05 68.50,217.95 69.00,217.95 69.50,217.76 70.00,217.81 70.50,217.61 71.00,217.51 71.50,217.52 72.00,217.59 72.50,217.91 73.00,217.84 73.50,217.88 74.00,217.78 74.50,217.88 75.00,217.97 75.50,218.07 76.00,218.09 76.50,218.01 77.00,217.96 77.50,217.94 78.00,217.92 78.50,217.92 79.00,217.84 79.50,217.73 80.00,217.43 80.50,217.19 81.00,217.16 81.50,217.29 82.00,217.43 82.50,217.51 83.00,217.70 83.50,217.82 84.00,217.94 84.50,217.72 85.00,217.78 85.50,217.81 86.00,218.06 86.50,217.98 87.00,217.96 87.50,217.95 88.00,217.94 88.50,217.93 89.00,217.95 89.50,217.91 90.00,217.89 90.50,217.85 91.00,217.82 91.50,217.72 92.00,217.66 92.50,217.75 93.00,217.84 93.50,217.93 94.00,218.00 94.50,218.04 95.00,218.03 95.50,218.05 96.00,217.92 96.50,217.89 97.00,217.89 97.50,217.98 98.00,217.97 98.50,217.82 99.00,217.83 99.50,217.88 100.00,218.01 100.50,217.95 101.00,217.95 101.50,217.90 102.00,217.97 102.50,217.95 103.00,218.02 103.50,218.04 104.00,217.91 104.50,217.91 105.00,217.83 105.50,217.90 106.00,217.85 106.50,217.88 107.00,217.81 107.50,217.86 108.00,217.86 108.50,217.99 109.00,218.02 109.50,217.98 110.00,217.95 110.50,217.75 111.00,217.83 111.50,217.85 112.00,217.95 112.50,217.94 113.00,217.84 113.50,217.83 114.00,217.74 114.50,217.77 115.00,217.77 115.50,217.75 116.00,217.81 116.50,217.87 117.00,217.82 117.50,217.83 118.00,217.83 118.50,217.88 119.00,217.89 119.50,217.76 120.00,217.63 120.50,217.17 121.00,216.75 121.50,216.57 122.00,216.87 122.50,217.40 123.00,217.80 123.50,217.97 124.00,218.01 124.50,218.04 125.00,218.05 125.50,218.07 126.00,218.02 126.50,217.85 127.00,217.80 127.50,217.85 128.00,217.87 128.50,217.89 129.00,217.70 129.50,217.73 130.00,217.68 130.50,217.80 131.00,217.93 131.50,217.84 132.00,217.88 132.50,217.82 133.00,217.93 133.50,217.74 134.00,217.79 134.50,217.77 135.00,217.88 135.50,217.90 136.00,217.96 136.50,217.96 137.00,217.95 137.50,217.85 138.00,217.84 138.50,217.72 139.00,217.68 139.50,217.65 140.00,217.55 140.50,217.41 141.00,217.09 141.50,216.69 142.00,216.10 142.50,215.55 143.00,215.15 143.50,215.07 144.00,215.22 144.50,215.42 145.00,215.65 145.50,216.05 146.00,216.59 146.50,217.13 147.00,217.48 147.50,217.62 148.00,217.78 148.50,217.77 149.00,217.83 149.50,217.79 150.00,217.87 150.50,217.78 151.00,217.73 151.50,217.72 152.00,217.77 152.50,217.87 153.00,217.90 153.50,217.92 154.00,217.70 154.50,217.72 155.00,217.67 155.50,217.86 156.00,217.86 156.50,217.85 157.00,217.88 157.50,217.80 158.00,217.84 158.50,217.77 159.00,217.83 159.50,217.85 160.00,217.91 160.50,217.90 161.00,218.00 161.50,217.99 162.00,217.92 162.50,217.82 163.00,217.60 163.50,217.21 164.00,216.72 164.50,216.11 165.00,215.54 165.50,215.23 166.00,215.06 166.50,214.60 167.00,213.31 167.50,211.84 168.00,211.23 168.50,212.31 169.00,214.40 169.50,216.38 170.00,217.43 170.50,217.81 171.00,217.93 171.50,217.96 172.00,218.02 172.50,217.93 173.00,217.98 173.50,217.98 174.00,217.99 174.50,217.91 175.00,217.91 175.50,217.83 176.00,217.86 176.50,217.75 177.00,217.75 177.50,217.81 178.00,217.80 178.50,217.83 179.00,217.73 179.50,217.76 180.00,217.80 180.50,217.87 181.00,217.87 181.50,217.91 182.00,217.89 182.50,217.89 183.00,217.92 183.50,217.88 184.00,217.84 184.50,217.70 185.00,217.61 185.50,217.70 186.00,217.86 186.50,218.04 187.00,218.06 187.50,218.08 188.00,217.89 188.50,217.80 189.00,217.65 189.50,217.74 190.00,217.71 190.50,217.79 191.00,217.81 191.50,217.85 192.00,217.78 192.50,217.83 193.00,217.79 193.50,217.64 194.00,217.63 194.50,217.66 195.00,217.84 195.50,217.78 196.00,217.86 196.50,217.81 197.00,217.82 197.50,217.71 198.00,217.78 198.50,217.84 199.00,217.89 199.50,217.78 200.00,217.78 200.50,217.87 201.00,218.05 201.50,218.08 202.00,217.97 202.50,217.97 203.00,217.98 203.50,217.96 204.00,217.78 204.50,217.77 205.00,217.82 205.50,218.00 206.00,217.96 206.50,217.96 207.00,217.96 207.50,217.92 208.00,217.93 208.50,217.92 209.00,218.00 209.50,218.05 210.00,217.98 210.50,217.91 211.00,217.91 211.50,217.93 212.00,218.00 212.50,218.02 213.00,217.94 213.50,217.96 214.00,217.82 214.50,217.88 215.00,217.80 215.50,217.52 216.00,217.06 216.50,216.15 217.00,215.16 217.50,214.20 218.00,214.08 218.50,214.79 219.00,215.99 219.50,216.98 220.00,217.65 220.50,217.81 221.00,217.92 221.50,217.94 222.00,218.05 222.50,218.03 223.00,217.99 223.50,217.83 224.00,217.83 224.50,217.86 225.00,218.00 225.50,218.01 226.00,217.97 226.50,217.97 227.00,217.94 227.50,217.97 228.00,217.97 228.50,217.88 229.00,217.87 229.50,217.78 230.00,217.83 230.50,217.86 231.00,217.82 231.50,217.83 232.00,217.84 232.50,217.74 233.00,217.79 233.50,217.66 234.00,217.78 234.50,217.76 235.00,217.78 235.50,217.87 236.00,217.91 236.50,217.86 237.00,217.74 237.50,217.76 238.00,217.91 238.50,217.94 239.00,217.88 239.50,217.86 240.00,217.95 240.50,218.01 241.00,217.95 241.50,217.91 242.00,217.92 242.50,217.94 243.00,217.96 243.50,217.86 244.00,217.89 244.50,217.92 245.00,217.99 245.50,217.93 246.00,217.80 246.50,217.78 247.00,217.87 247.50,218.01 248.00,217.89 248.50,217.86 249.00,217.83 249.50,217.92 250.00,217.73 250.50,217.75 251.00,217.75 251.50,217.94 252.00,217.91 252.50,218.00 253.00,217.96 253.50,217.75 254.00,217.74 254.50,217.76 255.00,217.97 255.50,217.81 256.00,217.75 256.50,217.79 257.00,217.93 257.50,217.96 258.00,217.94 258.50,217.96 259.00,217.95 259.50,217.81 260.00,217.80 260.50,217.88 261.00,218.06 261.50,217.94 262.00,217.94 262.50,217.82 263.00,217.85 263.50,217.84 264.00,217.96 264.50,218.06 264.70,218.10" fill="#2b3a9c" />
<line x1="62.00" y1="218.10" x2="264.70" y2="218.10" stroke="#5060c0" stroke-width="0.8" />
<polygon points="62.00,227.75 62.00,227.63 62.50,227.63 63.00,227.59 63.50,227.53 64.00,227.56 64.50,227.54 65.00,227.55 65.50,227.59 66.00,227.55 66.50,227.54 67.00,227.53 67.50,227.51 68.00,227.52 68.50,227.56 69.00,227.60 69.50,227.62 70.00,227.60 70.50,227.57 71.00,227.52 71.50,227.48 72.00,227.47 72.50,227.49 73.00,227.53 73.50,227.54 74.00,227.49 74.50,227.46 75.00,227.47 75.50,227.50 76.00,227.56 76.50,227.58 77.00,227.59 77.50,227.57 78.00,227.58 78.50,227.52 79.00,227.50 79.50,227.53 80.00,227.57 80.50,227.56 81.00,227.60 81.50,227.56 82.00,227.58 82.50,227.63 83.00,227.63 83.50,227.61 84.00,227.56 84.50,227.54 85.00,227.54 85.50,227.58 86.00,227.52 86.50,227.49 87.00,227.53 87.50,227.62 88.00,227.60 88.50,227.60 89.00,227.59 89.50,227.60 90.00,227.61 90.50,227.57 91.00,227.58 91.50,227.56 92.00,227.52 92.50,227.56 93.00,227.62 93.50,227.62 94.00,227.54 94.50,227.50 95.00,227.52 95.50,227.60 96.00,227.59 96.50,227.52 97.00,227.55 97.50,227.57 98.00,227.57 98.50,227.61 99.00,227.61 99.50,227.57 100.00,227.53 100.50,227.53 101.00,227.57 101.50,227.63 102.00,227.62 102.50,227.62 103.00,227.63 103.50,227.63 104.00,227.63 104.50,227.63 105.00,227.61 105.50,227.51 106.00,226.71 106.50,226.71 107.00,226.60 107.50,226.27 108.00,225.74 108.50,225.34 109.00,225.17 109.50,225.29 110.00,225.67 110.50,226.18 111.00,226.07 111.50,225.84 112.00,225.89 112.50,226.21 113.00,226.32 113.50,226.33 114.00,226.67 114.50,226.71 115.00,226.71 115.50,226.64 116.00,226.02 116.50,226.00 117.00,226.60 117.50,226.42 118.00,226.47 118.50,226.63 119.00,226.63 119.50,225.95 120.00,223.30 120.50,221.45 121.00,223.30 121.50,226.17 122.00,226.45 122.50,226.63 123.00,226.28 123.50,225.71 124.00,225.20 124.50,223.55 125.00,225.14 125.50,225.54 126.00,225.62 126.50,226.09 127.00,226.90 127.50,227.13 128.00,227.12 128.50,227.27 129.00,227.13 129.50,226.75 130.00,226.31 130.50,226.20 131.00,226.26 131.50,226.31 132.00,226.27 132.50,225.33 133.00,223.51 133.50,221.75 134.00,223.51 134.50,225.99 135.00,225.72 135.50,225.47 136.00,224.86 136.50,224.63 137.00,224.88 137.50,225.28 138.00,224.11 138.50,221.83 139.00,222.93 139.50,225.58 140.00,225.34 140.50,224.18 141.00,222.75 141.50,224.22 142.00,224.64 142.50,225.12 143.00,225.81 143.50,225.28 144.00,222.43 144.50,221.58 145.00,221.01 145.50,222.00 146.00,220.42 146.50,220.68 147.00,220.85 147.50,221.27 148.00,221.22 148.50,221.62 149.00,222.19 149.50,220.63 150.00,220.63 150.50,220.28 151.00,220.40 151.50,221.13 152.00,220.46 152.50,221.04 153.00,222.11 153.50,221.02 154.00,221.03 154.50,221.48 155.00,221.60 155.50,221.25 156.00,221.65 156.50,221.53 157.00,220.81 157.50,222.24 158.00,221.72 158.50,220.78 159.00,221.56 159.50,222.28 160.00,221.61 160.50,220.92 161.00,220.52 161.50,220.55 162.00,220.89 162.50,221.46 163.00,220.67 163.50,220.84 164.00,220.98 164.50,221.07 165.00,222.16 165.50,221.88 166.00,221.12 166.50,221.68 167.00,221.27 167.50,221.96 168.00,220.80 168.50,220.18 169.00,221.30 169.50,222.02 170.00,221.12 170.50,220.79 171.00,222.31 171.50,220.56 172.00,220.86 172.50,220.68 173.00,221.98 173.50,221.30 174.00,221.28 174.50,221.65 175.00,221.12 175.50,220.55 176.00,220.25 176.50,221.27 177.00,221.29 177.50,220.99 178.00,222.00 178.50,221.87 179.00,221.54 179.50,221.03 180.00,221.16 180.50,220.93 181.00,220.49 181.50,221.34 182.00,222.24 182.50,221.72 183.00,221.93 183.50,221.90 184.00,221.87 184.50,221.70 185.00,220.71 185.50,220.96 186.00,221.06 186.50,221.82 187.00,221.01 187.50,220.61 188.00,221.82 188.50,221.12 189.00,222.04 189.50,222.43 190.00,222.68 190.50,222.64 191.00,223.16 191.50,224.08 192.00,224.08 192.50,224.63 193.00,224.34 193.50,223.03 194.00,222.85 194.50,223.74 195.00,222.96 195.50,223.47 196.00,223.25 196.50,223.86 197.00,224.48 197.50,223.87 198.00,223.67 198.50,223.95 199.00,224.61 199.50,225.44 200.00,225.29 200.50,224.52 201.00,224.45 201.50,225.01 202.00,225.32 202.50,225.83 203.00,225.68 203.50,225.31 204.00,225.33 204.50,225.41 205.00,224.47 205.50,223.63 206.00,223.13 206.50,223.13 207.00,223.63 207.50,223.44 208.00,223.33 208.50,223.80 209.00,224.67 209.50,225.58 210.00,225.49 210.50,225.10 211.00,224.05 211.50,223.40 212.00,223.46 212.50,224.19 213.00,224.59 213.50,224.57 214.00,224.89 214.50,224.45 215.00,224.89 215.50,225.83 216.00,225.18 216.50,224.34 217.00,223.74 217.50,223.58 218.00,223.90 218.50,224.60 219.00,225.47 219.50,225.83 220.00,225.62 220.50,225.25 221.00,225.75 221.50,225.74 222.00,225.49 222.50,225.44 223.00,224.84 223.50,224.84 224.00,225.43 224.50,225.43 225.00,225.62 225.50,225.64 226.00,225.19 226.50,225.31 227.00,225.21 227.50,224.76 228.00,224.63 228.50,224.87 229.00,225.30 229.50,225.52 230.00,225.26 230.50,225.10 231.00,225.27 231.50,225.69 232.00,226.20 232.50,225.86 233.00,225.45 233.50,225.37 234.00,225.66 234.50,226.19 235.00,226.70 235.50,226.71 236.00,225.96 236.50,225.20 237.00,225.50 237.50,226.33 238.00,226.39 238.50,226.59 239.00,226.71 239.50,226.71 240.00,226.62 240.50,226.50 241.00,226.33 241.50,226.07 242.00,226.09 242.50,226.39 243.00,226.46 243.50,226.32 244.00,225.96 244.50,225.59 245.00,225.47 245.50,225.66 246.00,226.08 246.50,225.92 247.00,226.04 247.50,225.93 248.00,226.12 248.50,226.37 249.00,226.16 249.50,226.13 250.00,226.30 250.50,226.18 251.00,226.30 251.50,226.66 252.00,226.68 252.50,226.43 253.00,225.94 253.50,225.61 254.00,225.57 254.50,225.84 255.00,226.32 255.50,226.72 256.00,226.60 256.50,226.74 257.00,227.04 257.50,226.95 258.00,226.88 258.50,226.93 259.00,227.08 259.50,226.84 260.00,226.63 260.50,226.64 261.00,226.82 261.50,226.54 262.00,226.48 262.50,226.67 263.00,227.01 263.50,226.88 264.00,226.86 264.50,227.07 264.70,227.75" fill="#a03bb2" />
<line x1="62.00" y1="227.75" x2="264.70" y2="227.75" stroke="#c060c8" stroke-width="0.8" />
<polygon points="62.00,237.40 62.00,237.20 62.50,237.20 63.00,237.20 63.50,237.20 64.00,237.20 64.50,237.20 65.00,237.20 65.50,237.20 66.00,237.20 66.50,237.20 67.00,237.20 67.50,237.20 68.00,237.20 68.50,237.20 69.00,237.20 69.50,237.20 70.00,237.20 70.50,237.20 71.00,237.20 71.50,237.20 72.00,237.20 72.50,237.20 73.00,237.20 73.50,237.20 74.00,237.20 74.50,237.20 75.00,237.20 75.50,237.20 76.00,237.20 76.50,237.20 77.00,237.20 77.50,237.20 78.00,237.20 78.50,237.20 79.00,237.20 79.50,237.20 80.00,237.20 80.50,237.20 81.00,237.20 81.50,237.20 82.00,237.20 82.50,237.20 83.00,237.20 83.50,237.20 84.00,237.20 84.50,237.20 85.00,237.20 85.50,237.20 86.00,237.20 86.50,237.20 87.00,237.20 87.50,237.20 88.00,237.20 88.50,237.20 89.00,237.20 89.50,237.20 90.00,237.20 90.50,237.20 91.00,237.20 91.50,237.20 92.00,237.20 92.50,237.20 93.00,237.20 93.50,229.10 94.00,229.10 94.50,229.10 95.00,229.10 95.50,229.10 96.00,229.10 96.50,229.10 97.00,229.10 97.50,229.10 98.00,229.13 98.50,229.64 99.00,231.79 99.50,233.00 100.00,230.74 100.50,229.30 101.00,229.11 101.50,229.10 102.00,229.10 102.50,229.10 103.00,229.16 103.50,229.78 104.00,232.13 104.50,234.10 105.00,232.13 105.50,229.78 106.00,229.16 106.50,229.10 107.00,229.10 107.50,229.10 108.00,229.10 108.50,229.10 109.00,229.10 109.50,229.10 110.00,229.10 110.50,229.10 111.00,229.10 111.50,229.10 112.00,229.10 112.50,229.10 113.00,229.10 113.50,229.10 114.00,229.10 114.50,229.10 115.00,229.10 115.50,229.10 116.00,229.10 116.50,229.10 117.00,229.10 117.50,229.10 118.00,229.10 118.50,229.10 119.00,229.12 119.50,229.52 120.00,231.80 120.50,234.10 121.00,231.80 121.50,229.52 122.00,229.12 122.50,229.10 123.00,229.10 123.50,229.10 124.00,229.10 124.50,229.10 125.00,229.10 125.50,229.10 126.00,229.10 126.50,229.10 127.00,233.60 127.50,233.60 128.00,233.60 128.50,233.60 129.00,233.60 129.50,233.60 130.00,233.60 130.50,229.10 131.00,229.10 131.50,229.10 132.00,229.19 132.50,230.02 133.00,231.10 133.50,230.02 134.00,229.19 134.50,229.10 135.00,229.10 135.50,229.19 136.00,230.02 136.50,231.10 137.00,230.02 137.50,229.19 138.00,229.10 138.50,229.10 139.00,229.10 139.50,229.10 140.00,229.10 140.50,229.10 141.00,229.10 141.50,229.10 142.00,229.10 142.50,229.10 143.00,229.10 143.50,229.10 144.00,229.10 144.50,229.10 145.00,229.10 145.50,229.10 146.00,229.10 146.50,229.10 147.00,229.10 147.50,229.10 148.00,229.10 148.50,229.10 149.00,229.10 149.50,229.10 150.00,229.10 150.50,229.10 151.00,229.10 151.50,229.10 152.00,229.10 152.50,229.10 153.00,229.10 153.50,229.10 154.00,229.10 154.50,229.10 155.00,229.10 155.50,229.10 156.00,229.10 156.50,229.10 157.00,229.10 157.50,229.10 158.00,229.10 158.50,229.10 159.00,229.10 159.50,229.10 160.00,229.10 160.50,229.10 161.00,229.10 161.50,229.10 162.00,229.10 162.50,229.10 163.00,229.10 163.50,229.10 164.00,229.10 164.50,229.10 165.00,229.10 165.50,229.10 166.00,229.10 166.50,229.10 167.00,229.10 167.50,229.10 168.00,229.10 168.50,229.10 169.00,229.10 169.50,229.10 170.00,229.10 170.50,229.10 171.00,229.10 171.50,229.10 172.00,229.10 172.50,229.10 173.00,229.10 173.50,229.10 174.00,229.10 174.50,229.10 175.00,229.10 175.50,229.10 176.00,229.10 176.50,229.10 177.00,229.10 177.50,229.10 178.00,229.10 178.50,229.10 179.00,229.10 179.50,229.10 180.00,229.10 180.50,229.10 181.00,229.10 181.50,229.10 182.00,229.10 182.50,229.10 183.00,229.10 183.50,229.10 184.00,229.10 184.50,229.10 185.00,229.10 185.50,229.10 186.00,229.10 186.50,229.10 187.00,229.10 187.50,229.10 188.00,229.10 188.50,229.10 189.00,229.10 189.50,229.10 190.00,229.25 190.50,229.51 191.00,229.76 191.50,230.02 192.00,230.28 192.50,230.53 193.00,230.79 193.50,231.04 194.00,231.30 194.50,231.55 195.00,231.81 195.50,232.07 196.00,232.32 196.50,232.58 197.00,232.83 197.50,233.09 198.00,233.34 198.50,234.75 199.00,234.49 199.50,233.72 200.00,233.84 200.50,234.68 201.00,234.82 201.50,235.40 202.00,234.45 202.50,233.83 203.00,235.12 203.50,234.38 204.00,234.37 204.50,233.73 205.00,234.66 205.50,234.49 206.00,234.00 206.50,234.37 207.00,234.40 207.50,233.74 208.00,233.93 208.50,233.94 209.00,234.71 209.50,235.40 210.00,235.40 210.50,235.40 211.00,235.40 211.50,235.40 212.00,235.12 212.50,234.60 213.00,233.97 213.50,233.91 214.00,234.83 214.50,234.99 215.00,234.09 215.50,234.38 216.00,233.96 216.50,234.04 217.00,234.16 217.50,233.79 218.00,234.24 218.50,235.22 219.00,234.84 219.50,234.13 220.00,233.91 220.50,234.73 221.00,234.93 221.50,235.10 222.00,234.89 222.50,235.40 223.00,235.40 223.50,234.04 224.00,233.82 224.50,234.69 225.00,234.73 225.50,235.31 226.00,234.42 226.50,233.76 227.00,234.02 227.50,235.01 228.00,235.21 228.50,234.50 229.00,234.64 229.50,234.98 230.00,235.19 230.50,235.22 231.00,235.18 231.50,235.07 232.00,233.38 232.50,233.29 233.00,234.39 233.50,234.46 234.00,233.39 234.50,233.02 235.00,234.59 235.50,233.86 236.00,233.90 236.50,234.68 237.00,234.38 237.50,233.40 238.00,233.37 238.50,233.09 239.00,232.99 239.50,233.25 240.00,235.20 240.50,233.95 241.00,234.56 241.50,234.34 242.00,233.51 242.50,233.70 243.00,234.77 243.50,234.26 244.00,233.33 244.50,233.31 245.00,234.21 245.50,233.41 246.00,234.30 246.50,234.04 247.00,234.14 247.50,233.30 248.00,234.09 248.50,234.71 249.00,234.75 249.50,234.78 250.00,235.19 250.50,235.40 251.00,235.27 251.50,235.01 252.00,235.40 252.50,235.01 253.00,234.61 253.50,234.54 254.00,234.75 254.50,235.40 255.00,235.34 255.50,234.98 256.00,234.68 256.50,235.35 257.00,235.34 257.50,234.89 258.00,235.01 258.50,235.40 259.00,235.40 259.50,234.74 260.00,234.80 260.50,235.40 261.00,235.40 261.50,235.40 262.00,235.40 262.50,234.83 263.00,234.99 263.50,235.05 264.00,235.40 264.50,235.37 264.70,237.40" fill="#3f9f3f" />
<line x1="62.00" y1="237.40" x2="264.70" y2="237.40" stroke="#40a040" stroke-width="0.8" />
<polygon points="62.00,247.05 62.00,246.41 62.50,246.49 63.00,246.51 63.50,246.54 64.00,246.54 64.50,246.49 65.00,246.09 65.50,246.40 66.00,246.17 66.50,246.13 67.00,246.36 67.50,246.37 68.00,246.15 68.50,246.35 69.00,246.27 69.50,246.20 70.00,246.26 70.50,246.54 71.00,246.50 71.50,246.19 72.00,246.04 72.50,246.12 73.00,246.09 73.50,246.37 74.00,246.25 74.50,246.27 75.00,246.18 75.50,246.18 76.00,246.27 76.50,246.37 77.00,246.29 77.50,246.20 78.00,246.54 78.50,246.54 79.00,246.47 79.50,246.36 80.00,246.15 80.50,246.18 81.00,246.42 81.50,246.33 82.00,246.29 82.50,246.34 83.00,246.26 83.50,246.35 84.00,246.35 84.50,246.39 85.00,246.19 85.50,246.32 86.00,246.36 86.50,246.51 87.00,246.25 87.50,246.17 88.00,246.29 88.50,246.27 89.00,246.14 89.50,246.20 90.00,246.32 90.50,246.14 91.00,246.20 91.50,246.45 92.00,246.38 92.50,246.39 93.00,246.34 93.50,246.32 94.00,246.05 94.50,246.08 95.00,246.08 95.50,246.36 96.00,246.12 96.50,246.28 97.00,246.00 97.50,246.00 98.00,246.27 98.50,246.27 99.00,246.23 99.50,246.41 100.00,246.33 100.50,246.29 101.00,246.08 101.50,245.75 102.00,245.66 102.50,246.13 103.00,246.14 103.50,246.12 104.00,246.07 104.50,245.68 105.00,245.61 105.50,245.91 106.00,246.02 106.50,246.12 107.00,246.10 107.50,246.16 108.00,245.68 108.50,245.54 109.00,245.60 109.50,245.54 110.00,245.70 110.50,246.02 111.00,245.88 111.50,245.94 112.00,246.02 112.50,245.85 113.00,245.48 113.50,246.16 114.00,245.69 114.50,245.74 115.00,246.32 115.50,246.13 116.00,245.80 116.50,246.17 117.00,246.30 117.50,246.08 118.00,246.11 118.50,246.33 119.00,246.33 119.50,246.33 120.00,245.88 120.50,245.97 121.00,246.10 121.50,245.67 122.00,245.36 122.50,245.55 123.00,246.06 123.50,246.01 124.00,246.06 124.50,246.16 125.00,245.92 125.50,245.95 126.00,245.55 126.50,245.64 127.00,246.14 127.50,245.52 128.00,245.43 128.50,245.99 129.00,246.20 129.50,246.21 130.00,245.81 130.50,245.71 131.00,246.14 131.50,246.09 132.00,246.09 132.50,246.20 133.00,246.14 133.50,246.28 134.00,246.23 134.50,245.67 135.00,245.68 135.50,246.16 136.00,245.78 136.50,245.78 137.00,245.74 137.50,245.70 138.00,245.73 138.50,245.54 139.00,245.39 139.50,245.71 140.00,245.91 140.50,246.21 141.00,246.11 141.50,246.01 142.00,245.74 142.50,245.81 143.00,246.10 143.50,246.16 144.00,246.33 144.50,246.30 145.00,246.33 145.50,246.32 146.00,245.63 146.50,245.99 147.00,246.15 147.50,246.03 148.00,245.51 148.50,246.18 149.00,246.08 149.50,245.78 150.00,245.71 150.50,246.06 151.00,245.36 151.50,246.04 152.00,245.83 152.50,245.71 153.00,245.62 153.50,245.79 154.00,246.25 154.50,246.10 155.00,245.65 155.50,245.68 156.00,246.15 156.50,246.33 157.00,245.99 157.50,245.64 158.00,245.86 158.50,245.78 159.00,245.68 159.50,246.00 160.00,246.02 160.50,245.70 161.00,245.63 161.50,246.09 162.00,246.19 162.50,245.71 163.00,245.91 163.50,245.70 164.00,245.55 164.50,245.97 165.00,245.42 165.50,245.79 166.00,245.46 166.50,245.73 167.00,245.72 167.50,245.77 168.00,245.96 168.50,246.21 169.00,246.33 169.50,246.33 170.00,246.33 170.50,246.20 171.00,246.24 171.50,246.09 172.00,246.14 172.50,245.54 173.00,245.49 173.50,245.93 174.00,245.72 174.50,245.94 175.00,245.79 175.50,245.58 176.00,246.20 176.50,246.33 177.00,246.23 177.50,245.76 178.00,245.43 178.50,245.72 179.00,246.01 179.50,246.01 180.00,245.61 180.50,245.80 181.00,245.78 181.50,245.43 182.00,245.50 182.50,245.63 183.00,245.61 183.50,246.13 184.00,246.12 184.50,246.14 185.00,246.25 185.50,246.33 186.00,246.18 186.50,245.68 187.00,245.86 187.50,246.16 188.00,245.76 188.50,245.70 189.00,245.53 189.50,245.91 190.00,245.65 190.50,245.54 191.00,245.43 191.50,245.59 192.00,246.06 192.50,246.33 193.00,246.08 193.50,246.08 194.00,246.22 194.50,246.28 195.00,246.33 195.50,245.71 196.00,245.76 196.50,246.27 197.00,246.13 197.50,245.81 198.00,245.62 198.50,246.07 199.00,245.85 199.50,245.42 200.00,245.47 200.50,245.95 201.00,246.33 201.50,246.07 202.00,246.03 202.50,246.29 203.00,246.16 203.50,246.21 204.00,245.81 204.50,245.51 205.00,245.63 205.50,246.07 206.00,245.83 206.50,245.69 207.00,245.98 207.50,245.66 208.00,245.46 208.50,245.65 209.00,245.86 209.50,245.48 210.00,245.47 210.50,245.82 211.00,246.09 211.50,246.29 212.00,246.04 212.50,245.94 213.00,246.10 213.50,246.33 214.00,246.33 214.50,246.19 215.00,245.80 215.50,245.68 216.00,245.95 216.50,245.88 217.00,245.78 217.50,246.01 218.00,245.98 218.50,245.82 219.00,245.82 219.50,245.60 220.00,245.51 220.50,245.82 221.00,245.82 221.50,245.50 222.00,245.64 222.50,246.12 223.00,245.60 223.50,245.63 224.00,245.79 224.50,245.50 225.00,245.62 225.50,246.03 226.00,246.08 226.50,246.33 227.00,246.04 227.50,246.10 228.00,245.84 228.50,246.02 229.00,246.15 229.50,246.33 230.00,246.19 230.50,246.16 231.00,246.32 231.50,246.33 232.00,246.22 232.50,245.81 233.00,245.93 233.50,246.26 234.00,245.98 234.50,245.84 235.00,245.90 235.50,245.73 236.00,245.75 236.50,246.08 237.00,245.59 237.50,245.64 238.00,245.69 238.50,246.15 239.00,245.92 239.50,245.95 240.00,245.60 240.50,245.66 241.00,246.08 241.50,245.86 242.00,245.86 242.50,246.09 243.00,245.55 243.50,245.47 244.00,245.53 244.50,245.72 245.00,245.61 245.50,246.17 246.00,245.85 246.50,245.63 247.00,245.68 247.50,246.06 248.00,246.28 248.50,246.33 249.00,245.72 249.50,246.04 250.00,245.50 250.50,245.59 251.00,246.14 251.50,245.86 252.00,245.59 252.50,245.99 253.00,245.96 253.50,246.09 254.00,245.76 254.50,245.88 255.00,245.56 255.50,245.76 256.00,245.87 256.50,245.69 257.00,246.27 257.50,246.10 258.00,245.55 258.50,245.46 259.00,245.61 259.50,245.45 260.00,245.78 260.50,246.19 261.00,246.06 261.50,246.12 262.00,246.22 262.50,246.22 263.00,245.90 263.50,246.13 264.00,246.03 264.50,246.33 264.70,247.05" fill="#d6402e" />
<line x1="62.00" y1="247.05" x2="264.70" y2="247.05" stroke="#e06050" stroke-width="0.8" />
<polygon points="62.00,256.70 62.00,256.06 62.50,256.13 63.00,256.36 63.50,256.40 64.00,256.38 64.50,256.23 65.00,256.18 65.50,256.26 66.00,256.14 66.50,256.09 67.00,256.18 67.50,256.13 68.00,256.10 68.50,256.24 69.00,256.21 69.50,256.25 70.00,256.35 70.50,256.38 71.00,256.36 71.50,256.20 72.00,256.08 72.50,256.08 73.00,256.18 73.50,256.19 74.00,256.11 74.50,256.04 75.00,256.07 75.50,256.18 76.00,256.18 76.50,256.34 77.00,256.40 77.50,256.40 78.00,256.37 78.50,256.39 79.00,256.27 79.50,256.18 80.00,256.08 80.50,255.99 81.00,256.01 81.50,256.13 82.00,256.02 82.50,256.02 83.00,256.22 83.50,256.12 84.00,255.65 84.50,255.65 85.00,255.62 85.50,255.12 86.00,254.54 86.50,254.50 87.00,253.86 87.50,253.51 88.00,253.58 88.50,254.04 89.00,253.83 89.50,253.76 90.00,254.64 90.50,255.20 91.00,255.09 91.50,254.55 92.00,254.24 92.50,254.30 93.00,254.70 93.50,254.98 94.00,255.22 94.50,255.61 95.00,255.73 95.50,255.82 96.00,256.07 96.50,256.00 97.00,256.08 97.50,256.09 98.00,256.14 98.50,256.16 99.00,256.13 99.50,256.01 100.00,255.92 100.50,255.78 101.00,255.81 101.50,255.98 102.00,255.82 102.50,255.49 103.00,255.33 103.50,255.44 104.00,255.42 104.50,255.27 105.00,255.37 105.50,255.68 106.00,255.45 106.50,255.33 107.00,255.51 107.50,255.65 108.00,255.23 108.50,255.49 109.00,255.91 109.50,255.91 110.00,256.05 110.50,255.98 111.00,255.92 111.50,255.84 112.00,255.89 112.50,255.85 113.00,255.43 113.50,255.15 114.00,255.15 114.50,255.44 115.00,255.62 115.50,255.58 116.00,255.24 116.50,255.15 117.00,255.37 117.50,255.61 118.00,255.65 118.50,255.52 119.00,255.32 119.50,255.30 120.00,255.38 120.50,255.33 121.00,255.48 121.50,255.64 122.00,255.47 122.50,255.53 123.00,255.57 123.50,255.11 124.00,255.36 124.50,255.64 125.00,255.57 125.50,255.73 126.00,255.83 126.50,255.51 127.00,255.30 127.50,255.27 128.00,255.44 128.50,255.75 129.00,255.70 129.50,255.44 130.00,254.33 130.50,253.36 131.00,253.19 131.50,253.48 132.00,253.44 132.50,254.23 133.00,254.67 133.50,254.90 134.00,255.36 134.50,255.01 135.00,255.10 135.50,255.43 136.00,255.18 136.50,255.15 137.00,254.70 137.50,253.26 138.00,253.14 138.50,254.49 139.00,255.56 139.50,255.42 140.00,255.05 140.50,253.54 141.00,253.16 141.50,254.38 142.00,254.02 142.50,253.78 143.00,254.45 143.50,255.10 144.00,255.12 144.50,254.07 145.00,253.84 145.50,253.63 146.00,253.26 146.50,253.64 147.00,254.54 147.50,255.36 148.00,254.70 148.50,254.03 149.00,253.83 149.50,254.20 150.00,254.94 150.50,254.75 151.00,254.76 151.50,254.40 152.00,254.35 152.50,254.64 153.00,254.49 153.50,254.16 154.00,254.21 154.50,253.87 155.00,254.04 155.50,254.72 156.00,254.31 156.50,254.33 157.00,254.46 157.50,254.25 158.00,254.48 158.50,255.03 159.00,255.27 159.50,255.08 160.00,254.05 160.50,253.29 161.00,253.46 161.50,253.66 162.00,253.33 162.50,253.47 163.00,254.03 163.50,254.15 164.00,253.97 164.50,253.56 165.00,253.75 165.50,254.43 166.00,254.98 166.50,254.79 167.00,254.90 167.50,254.72 168.00,254.29 168.50,255.02 169.00,255.49 169.50,255.37 170.00,254.69 170.50,254.14 171.00,253.94 171.50,254.19 172.00,254.77 172.50,254.55 173.00,253.95 173.50,254.08 174.00,254.83 174.50,254.53 175.00,254.18 175.50,253.48 176.00,253.13 176.50,253.26 177.00,253.83 177.50,253.68 178.00,253.78 178.50,255.19 179.00,255.17 179.50,255.26 180.00,254.25 180.50,253.08 181.00,253.53 181.50,255.05 182.00,254.35 182.50,254.23 183.00,254.77 183.50,254.53 184.00,254.64 184.50,254.96 185.00,254.90 185.50,255.44 186.00,255.47 186.50,255.29 187.00,255.12 187.50,254.59 188.00,254.37 188.50,254.41 189.00,253.96 189.50,253.87 190.00,254.17 190.50,254.66 191.00,254.75 191.50,255.06 192.00,254.62 192.50,254.57 193.00,253.75 193.50,253.43 194.00,254.01 194.50,254.37 195.00,254.57 195.50,255.13 196.00,255.27 196.50,255.37 197.00,255.56 197.50,255.28 198.00,254.65 198.50,254.13 199.00,253.90 199.50,254.06 200.00,252.58 200.50,251.70 201.00,252.52 201.50,254.30 202.00,254.69 202.50,254.41 203.00,253.72 203.50,253.84 204.00,252.94 204.50,252.51 205.00,252.85 205.50,253.49 206.00,253.24 206.50,253.69 207.00,254.06 207.50,253.33 208.00,253.15 208.50,252.29 209.00,251.95 209.50,252.28 210.00,252.21 210.50,251.77 211.00,252.10 211.50,253.04 212.00,254.22 212.50,254.70 213.00,253.23 213.50,252.47 214.00,253.08 214.50,254.29 215.00,253.12 215.50,253.65 216.00,254.79 216.50,254.49 217.00,254.80 217.50,255.20 218.00,254.82 218.50,254.46 219.00,254.42 219.50,254.73 220.00,254.43 220.50,254.08 221.00,254.48 221.50,253.65 222.00,252.65 222.50,252.43 223.00,253.15 223.50,254.36 224.00,254.84 224.50,253.76 225.00,252.36 225.50,252.48 226.00,253.76 226.50,254.02 227.00,253.06 227.50,252.75 228.00,253.73 228.50,253.80 229.00,252.78 229.50,252.42 230.00,252.91 230.50,253.99 231.00,254.37 231.50,253.75 232.00,253.50 232.50,253.74 233.00,254.36 233.50,254.72 234.00,254.39 234.50,254.01 235.00,254.13 235.50,254.69 236.00,253.38 236.50,251.47 237.00,251.90 237.50,251.13 238.00,251.38 238.50,252.52 239.00,253.90 239.50,254.15 240.00,253.71 240.50,253.59 241.00,253.99 241.50,254.71 242.00,254.48 242.50,253.54 243.00,252.84 243.50,252.66 244.00,253.07 244.50,252.26 245.00,251.28 245.50,251.49 246.00,252.76 246.50,253.84 247.00,253.33 247.50,253.23 248.00,253.60 248.50,252.25 249.00,251.94 249.50,252.90 250.00,253.75 250.50,253.29 251.00,253.40 251.50,254.03 252.00,254.46 252.50,254.48 253.00,253.55 253.50,253.25 254.00,253.85 254.50,253.52 255.00,253.12 255.50,253.71 256.00,254.84 256.50,254.91 257.00,255.24 257.50,255.23 258.00,254.66 258.50,254.14 259.00,253.97 259.50,254.24 260.00,254.82 260.50,254.31 261.00,253.24 261.50,252.46 262.00,252.29 262.50,252.82 263.00,253.43 263.50,252.64 264.00,252.59 264.50,253.28 264.70,256.70" fill="#3ab36a" />
<line x1="62.00" y1="256.70" x2="264.70" y2="256.70" stroke="#40b870" stroke-width="0.8" />
<polygon points="62.00,266.35 62.00,266.30 62.50,266.29 63.00,266.28 63.50,266.27 64.00,266.28 64.50,266.29 65.00,266.30 65.50,266.29 66.00,266.27 66.50,266.27 67.00,266.29 67.50,266.29 68.00,266.29 68.50,266.30 69.00,266.30 69.50,266.29 70.00,266.26 70.50,266.27 71.00,266.29 71.50,266.29 72.00,266.29 72.50,266.29 73.00,266.27 73.50,266.26 74.00,266.26 74.50,266.28 75.00,266.29 75.50,266.30 76.00,266.30 76.50,266.30 77.00,266.31 77.50,266.30 78.00,266.28 78.50,266.27 79.00,266.27 79.50,266.28 80.00,266.29 80.50,266.29 81.00,266.29 81.50,266.28 82.00,266.28 82.50,266.28 83.00,266.29 83.50,266.30 84.00,266.31 84.50,266.31 85.00,266.31 85.50,266.31 86.00,266.31 86.50,266.31 87.00,266.31 87.50,266.31 88.00,266.30 88.50,266.29 89.00,266.29 89.50,266.30 90.00,266.28 90.50,266.27 91.00,266.28 91.50,266.27 92.00,266.27 92.50,266.28 93.00,266.29 93.50,266.28 94.00,266.30 94.50,266.31 95.00,266.31 95.50,266.31 96.00,266.30 96.50,266.31 97.00,266.30 97.50,266.27 98.00,266.26 98.50,266.27 99.00,266.29 99.50,266.31 100.00,266.29 100.50,266.29 101.00,266.31 101.50,266.30 102.00,266.30 102.50,266.30 103.00,266.30 103.50,266.30 104.00,266.29 104.50,266.27 105.00,266.26 105.50,266.27 106.00,266.27 106.50,266.26 107.00,266.28 107.50,266.31 108.00,266.30 108.50,266.29 109.00,266.29 109.50,266.30 110.00,266.30 110.50,266.28 111.00,266.28 111.50,266.29 112.00,266.28 112.50,266.29 113.00,266.31 113.50,266.31 114.00,266.31 114.50,266.31 115.00,266.31 115.50,266.29 116.00,266.28 116.50,266.28 117.00,266.29 117.50,266.31 118.00,266.31 118.50,266.30 119.00,266.29 119.50,266.29 120.00,266.28 120.50,266.28 121.00,266.29 121.50,266.30 122.00,266.29 122.50,266.29 123.00,266.30 123.50,266.30 124.00,266.31 124.50,266.28 125.00,266.26 125.50,266.22 126.00,265.94 126.50,265.34 127.00,264.44 127.50,263.55 128.00,263.16 128.50,263.30 129.00,261.46 129.50,260.74 130.00,261.74 130.50,263.61 131.00,263.98 131.50,263.74 132.00,263.39 132.50,261.91 133.00,260.89 133.50,261.25 134.00,261.50 134.50,260.59 135.00,260.39 135.50,260.95 136.00,261.00 136.50,261.92 137.00,263.69 137.50,263.85 138.00,263.19 138.50,261.57 139.00,261.12 139.50,262.21 140.00,263.97 140.50,263.75 141.00,263.82 141.50,264.25 142.00,263.99 142.50,263.19 143.00,262.55 143.50,262.50 144.00,263.07 144.50,264.00 145.00,264.25 145.50,264.25 146.00,264.25 146.50,264.08 147.00,263.84 147.50,263.78 148.00,264.02 148.50,263.45 149.00,262.99 149.50,262.58 150.00,261.94 150.50,261.76 151.00,262.08 151.50,261.74 152.00,261.22 152.50,261.53 153.00,262.52 153.50,263.01 154.00,263.52 154.50,263.28 155.00,263.45 155.50,262.51 156.00,261.42 156.50,261.23 157.00,262.04 157.50,261.20 158.00,260.95 158.50,261.56 159.00,261.93 159.50,261.77 160.00,262.84 160.50,263.51 161.00,262.50 161.50,261.81 162.00,261.69 162.50,262.05 163.00,261.70 163.50,261.97 164.00,262.74 164.50,262.31 165.00,262.06 165.50,262.72 166.00,262.60 166.50,262.21 167.00,263.16 167.50,262.65 168.00,262.93 168.50,262.58 169.00,261.78 169.50,261.47 170.00,261.76 170.50,262.54 171.00,263.57 171.50,263.76 172.00,262.22 172.50,262.21 173.00,263.41 173.50,262.89 174.00,263.11 174.50,263.08 175.00,262.71 175.50,262.78 176.00,263.24 176.50,262.36 177.00,262.68 177.50,262.91 178.00,263.21 178.50,263.99 179.00,264.60 179.50,264.60 180.00,264.03 180.50,263.59 181.00,264.05 181.50,264.31 182.00,264.04 182.50,264.01 183.00,262.65 183.50,261.66 184.00,261.58 184.50,262.45 185.00,262.59 185.50,262.93 186.00,262.65 186.50,262.52 187.00,263.00 187.50,263.86 188.00,264.60 188.50,264.60 189.00,264.35 189.50,263.85 190.00,263.22 190.50,263.09 191.00,263.52 191.50,262.59 192.00,262.22 192.50,262.56 193.00,261.72 193.50,261.59 194.00,262.23 194.50,262.82 195.00,262.00 195.50,262.03 196.00,262.88 196.50,264.10 197.00,263.76 197.50,262.87 198.00,262.63 198.50,263.19 199.00,263.33 199.50,263.88 200.00,264.38 200.50,264.23 201.00,264.52 201.50,264.31 202.00,264.01 202.50,263.98 203.00,264.23 203.50,264.29 204.00,264.18 204.50,262.86 205.00,261.95 205.50,262.01 206.00,262.22 206.50,262.26 207.00,262.98 207.50,263.23 208.00,263.34 208.50,263.05 209.00,262.01 209.50,262.28 210.00,262.76 210.50,261.68 211.00,262.58 211.50,264.45 212.00,264.60 212.50,264.55 213.00,263.95 213.50,263.82 214.00,264.23 214.50,263.52 215.00,262.88 215.50,262.07 216.00,261.69 216.50,261.85 217.00,262.50 217.50,263.43 218.00,264.08 218.50,263.36 219.00,262.58 219.50,262.97 220.00,263.50 220.50,263.51 221.00,263.92 221.50,264.57 222.00,264.60 222.50,263.67 223.00,262.62 223.50,262.29 224.00,262.89 224.50,264.04 225.00,265.15 225.50,265.63 226.00,265.59 226.50,265.64 227.00,265.49 227.50,265.29 228.00,265.36 228.50,265.36 229.00,265.11 229.50,265.06 230.00,265.22 230.50,265.53 231.00,265.69 231.50,265.51 232.00,265.40 232.50,265.40 233.00,265.50 233.50,265.41 234.00,265.03 234.50,264.87 235.00,265.04 235.50,265.43 236.00,265.07 236.50,265.13 237.00,265.58 237.50,265.59 238.00,265.49 238.50,265.19 239.00,264.99 239.50,265.03 240.00,265.30 240.50,265.65 241.00,265.72 241.50,265.83 242.00,265.56 242.50,265.47 243.00,265.48 243.50,265.39 244.00,265.44 244.50,265.61 245.00,265.58 245.50,265.75 246.00,265.69 246.50,265.52 247.00,265.42 247.50,265.04 248.00,265.14 248.50,265.16 249.00,265.16 249.50,265.38 250.00,265.19 250.50,265.14 251.00,265.26 251.50,265.50 252.00,265.76 252.50,265.58 253.00,265.21 253.50,264.95 254.00,264.93 254.50,265.16 255.00,265.22 255.50,265.40 256.00,265.72 256.50,265.74 257.00,265.77 257.50,265.33 258.00,265.05 258.50,265.17 259.00,265.58 259.50,265.59 260.00,265.31 260.50,265.25 261.00,265.27 261.50,265.00 262.00,264.89 262.50,264.97 263.00,264.98 263.50,264.96 264.00,265.16 264.50,265.51 264.70,266.35" fill="#a0522d" />
<line x1="62.00" y1="266.35" x2="264.70" y2="266.35" stroke="#a0522d" stroke-width="0.8" />
<polygon points="62.00,276.00 62.00,275.62 62.50,275.63 63.00,275.77 63.50,275.79 64.00,275.79 64.50,275.77 65.00,275.82 65.50,275.77 66.00,275.66 66.50,275.64 67.00,275.72 67.50,275.76 68.00,275.75 68.50,275.68 69.00,275.62 69.50,275.61 70.00,275.64 70.50,275.71 71.00,275.79 71.50,275.74 72.00,275.65 72.50,275.66 73.00,275.64 73.50,275.62 74.00,275.74 74.50,275.74 75.00,275.70 75.50,275.74 76.00,275.84 76.50,275.82 77.00,275.83 77.50,275.69 78.00,275.62 78.50,275.67 79.00,275.67 79.50,275.63 80.00,275.70 80.50,275.79 81.00,275.82 81.50,275.72 82.00,275.61 82.50,275.64 83.00,275.65 83.50,275.66 84.00,275.64 84.50,275.61 85.00,275.64 85.50,275.71 86.00,275.79 86.50,275.81 87.00,275.83 87.50,275.84 88.00,275.84 88.50,275.84 89.00,275.84 89.50,275.84 90.00,275.77 90.50,275.72 91.00,275.74 91.50,275.83 92.00,275.84 92.50,275.84 93.00,275.84 93.50,275.79 94.00,275.28 94.50,275.28 95.00,275.28 95.50,275.13 96.00,274.97 96.50,275.00 97.00,275.20 97.50,275.19 98.00,275.05 98.50,274.71 99.00,274.47 99.50,274.65 100.00,275.11 100.50,275.10 101.00,275.05 101.50,275.18 102.00,275.13 102.50,275.13 103.00,275.26 103.50,275.28 104.00,275.28 104.50,275.16 105.00,274.94 105.50,275.02 106.00,274.74 106.50,274.43 107.00,274.49 107.50,274.88 108.00,274.94 108.50,274.79 109.00,274.44 109.50,274.54 110.00,274.50 110.50,274.42 111.00,274.52 111.50,274.76 112.00,275.08 112.50,275.18 113.00,274.93 113.50,274.54 114.00,274.50 114.50,274.83 115.00,274.92 115.50,274.74 116.00,274.69 116.50,274.73 117.00,274.42 117.50,274.16 118.00,273.48 118.50,272.94 119.00,272.67 119.50,272.77 120.00,272.39 120.50,271.90 121.00,271.85 121.50,272.26 122.00,271.83 122.50,271.75 123.00,272.00 123.50,271.75 124.00,272.94 124.50,273.45 125.00,272.40 125.50,271.45 126.00,270.86 126.50,270.81 127.00,271.31 127.50,272.06 128.00,272.97 128.50,273.20 129.00,273.20 129.50,273.20 130.00,272.83 130.50,272.01 131.00,272.42 131.50,273.20 132.00,273.20 132.50,273.20 133.00,272.22 133.50,270.27 134.00,270.42 134.50,272.40 135.00,272.69 135.50,272.83 136.00,271.76 136.50,271.25 137.00,271.55 137.50,271.89 138.00,272.11 138.50,272.77 139.00,272.05 139.50,272.10 140.00,270.93 140.50,270.23 141.00,270.25 141.50,269.81 142.00,269.96 142.50,271.88 143.00,273.20 143.50,273.04 144.00,271.94 144.50,270.30 145.00,269.28 145.50,269.34 146.00,270.46 146.50,270.92 147.00,269.52 147.50,269.21 148.00,270.98 148.50,271.98 149.00,271.26 149.50,271.25 150.00,270.71 150.50,270.00 151.00,270.07 151.50,270.89 152.00,271.99 152.50,270.25 153.00,269.19 153.50,269.35 154.00,270.63 154.50,272.43 155.00,272.75 155.50,271.44 156.00,270.40 156.50,269.97 157.00,270.30 157.50,271.11 158.00,271.38 158.50,270.77 159.00,270.72 159.50,271.24 160.00,271.15 160.50,271.16 161.00,271.54 161.50,270.25 162.00,269.60 162.50,269.85 163.00,270.89 163.50,271.52 164.00,271.91 164.50,270.92 165.00,270.49 165.50,270.77 166.00,270.47 166.50,269.19 167.00,270.20 167.50,272.60 168.00,273.20 168.50,273.20 169.00,271.00 169.50,269.85 170.00,271.09 170.50,271.30 171.00,270.94 171.50,271.15 172.00,269.42 172.50,269.09 173.00,270.38 173.50,272.46 174.00,273.20 174.50,272.54 175.00,272.52 175.50,273.20 176.00,273.20 176.50,273.20 177.00,273.20 177.50,273.20 178.00,273.20 178.50,271.92 179.00,271.08 179.50,271.54 180.00,271.03 180.50,270.63 181.00,270.88 181.50,271.68 182.00,271.19 182.50,271.59 183.00,270.58 183.50,269.23 184.00,269.97 184.50,272.17 185.00,272.20 185.50,272.55 186.00,271.25 186.50,270.90 187.00,271.80 187.50,271.81 188.00,271.85 188.50,272.55 189.00,271.97 189.50,271.71 190.00,272.34 190.50,271.89 191.00,272.39 191.50,272.59 192.00,272.51 192.50,273.02 193.00,272.48 193.50,271.53 194.00,271.52 194.50,271.01 195.00,270.45 195.50,270.63 196.00,271.28 196.50,270.73 197.00,270.32 197.50,269.32 198.00,270.78 198.50,270.17 199.00,270.09 199.50,271.25 200.00,272.75 200.50,272.13 201.00,271.96 201.50,271.51 202.00,270.84 202.50,270.71 203.00,269.90 203.50,269.92 204.00,271.92 204.50,271.71 205.00,271.44 205.50,271.80 206.00,272.66 206.50,272.88 207.00,270.57 207.50,269.11 208.00,269.61 208.50,271.68 209.00,273.20 209.50,273.20 210.00,272.65 210.50,272.22 211.00,272.80 211.50,272.37 212.00,271.85 212.50,271.86 213.00,272.24 213.50,271.48 214.00,271.46 214.50,272.21 215.00,273.20 215.50,271.73 216.00,269.88 216.50,269.25 217.00,270.28 217.50,269.31 218.00,269.77 218.50,271.01 219.00,270.79 219.50,271.39 220.00,272.54 220.50,273.20 221.00,273.20 221.50,272.45 222.00,271.74 222.50,272.53 223.00,273.20 223.50,272.59 224.00,272.60 224.50,272.85 225.00,272.37 225.50,272.65 226.00,272.40 226.50,272.47 227.00,271.70 227.50,271.55 228.00,272.07 228.50,273.05 229.00,273.20 229.50,272.88 230.00,272.16 230.50,271.80 231.00,271.94 231.50,272.51 232.00,273.20 232.50,273.20 233.00,273.20 233.50,273.20 234.00,273.04 234.50,272.28 235.00,271.90 235.50,272.03 236.00,270.98 236.50,270.63 237.00,272.22 237.50,272.30 238.00,272.22 238.50,271.92 239.00,271.68 239.50,272.06 240.00,272.89 240.50,273.20 241.00,272.72 241.50,271.73 242.00,271.68 242.50,271.66 243.00,270.54 243.50,270.89 244.00,272.29 244.50,270.88 245.00,270.42 245.50,271.19 246.00,272.40 246.50,271.57 247.00,272.13 247.50,272.91 248.00,272.86 248.50,271.58 249.00,271.08 249.50,270.94 250.00,270.22 250.50,270.17 251.00,270.79 251.50,271.88 252.00,273.11 252.50,273.20 253.00,273.61 253.50,274.16 254.00,274.20 254.50,273.82 255.00,274.07 255.50,273.70 256.00,273.19 256.50,273.13 257.00,273.54 257.50,273.32 258.00,273.33 258.50,271.98 259.00,271.75 259.50,272.86 260.00,274.15 260.50,273.91 261.00,274.02 261.50,273.50 262.00,273.41 262.50,273.47 263.00,273.09 263.50,273.15 264.00,273.61 264.50,274.20 264.70,276.00" fill="#4cbf4c" />
<line x1="62.00" y1="276.00" x2="264.70" y2="276.00" stroke="#60c860" stroke-width="0.8" />
<polygon points="62.00,285.65 62.00,285.23 62.50,285.25 63.00,285.28 63.50,285.24 64.00,285.27 64.50,285.23 65.00,285.27 65.50,285.26 66.00,285.27 66.50,285.26 67.00,285.24 67.50,285.26 68.00,285.28 68.50,285.24 69.00,285.23 69.50,285.28 70.00,285.25 70.50,285.28 71.00,285.28 71.50,285.26 72.00,285.26 72.50,285.23 73.00,285.28 73.50,285.24 74.00,285.24 74.50,285.26 75.00,285.25 75.50,285.27 76.00,285.27 76.50,285.28 77.00,285.22 77.50,285.28 78.00,285.27 78.50,285.24 79.00,285.25 79.50,285.25 80.00,285.26 80.50,285.27 81.00,285.23 81.50,285.27 82.00,285.26 82.50,285.23 83.00,285.26 83.50,285.22 84.00,285.27 84.50,285.25 85.00,285.25 85.50,285.25 86.00,285.23 86.50,285.28 87.00,285.25 87.50,285.23 88.00,285.28 88.50,285.25 89.00,285.25 89.50,285.26 90.00,285.25 90.50,285.24 91.00,285.24 91.50,285.22 92.00,285.24 92.50,285.22 93.00,285.24 93.50,285.26 94.00,285.27 94.50,285.28 95.00,285.26 95.50,285.27 96.00,285.24 96.50,285.24 97.00,285.24 97.50,285.26 98.00,285.25 98.50,285.27 99.00,285.22 99.50,285.28 100.00,285.26 100.50,285.25 101.00,285.27 101.50,285.23 102.00,285.25 102.50,285.26 103.00,285.28 103.50,285.26 104.00,285.24 104.50,285.26 105.00,285.28 105.50,285.24 106.00,285.26 106.50,285.23 107.00,285.24 107.50,285.24 108.00,285.23 108.50,285.23 109.00,285.26 109.50,285.25 110.00,285.27 110.50,284.79 111.00,284.79 111.50,284.81 112.00,284.79 112.50,284.79 113.00,284.73 113.50,284.79 114.00,284.82 114.50,284.76 115.00,284.79 115.50,284.72 116.00,284.79 116.50,284.74 117.00,284.78 117.50,284.70 118.00,284.56 118.50,284.50 119.00,284.17 119.50,283.73 120.00,283.22 120.50,282.47 121.00,281.06 121.50,280.65 122.00,279.87 122.50,280.07 123.00,280.10 123.50,281.35 124.00,282.03 124.50,282.86 125.00,283.50 125.50,284.22 126.00,284.45 126.50,284.60 127.00,284.67 127.50,284.78 128.00,284.74 128.50,284.72 129.00,284.72 129.50,284.79 130.00,284.76 130.50,284.78 131.00,284.76 131.50,284.77 132.00,284.68 132.50,284.81 133.00,284.65 133.50,284.76 134.00,284.72 134.50,284.63 135.00,284.50 135.50,284.21 136.00,283.94 136.50,283.55 137.00,283.27 137.50,282.88 138.00,281.88 138.50,280.88 139.00,280.66 139.50,279.16 140.00,279.26 140.50,277.79 141.00,277.65 141.50,277.05 142.00,277.05 142.50,278.44 143.00,278.44 143.50,279.43 144.00,280.04 144.50,281.17 145.00,281.73 145.50,282.43 146.00,283.22 146.50,283.52 147.00,283.80 147.50,284.30 148.00,284.31 148.50,284.53 149.00,284.41 149.50,283.61 150.00,283.23 150.50,282.88 151.00,282.84 151.50,282.48 152.00,282.22 152.50,282.15 153.00,281.65 153.50,281.65 154.00,280.56 154.50,280.32 155.00,279.77 155.50,279.18 156.00,279.46 156.50,279.78 157.00,279.83 157.50,280.31 158.00,280.98 158.50,281.53 159.00,281.90 159.50,282.06 160.00,282.64 160.50,282.39 161.00,282.25 161.50,281.94 162.00,282.02 162.50,282.13 163.00,282.49 163.50,281.91 164.00,281.12 164.50,280.77 165.00,279.32 165.50,278.88 166.00,278.01 166.50,277.97 167.00,277.05 167.50,278.18 168.00,278.63 168.50,280.25 169.00,280.59 169.50,281.71 170.00,281.82 170.50,281.26 171.00,281.77 171.50,282.23 172.00,282.53 172.50,282.73 173.00,282.78 173.50,283.01 174.00,282.96 174.50,281.81 175.00,281.30 175.50,281.85 176.00,281.47 176.50,280.99 177.00,280.63 177.50,279.83 178.00,279.01 178.50,278.34 179.00,278.26 179.50,278.50 180.00,279.20 180.50,278.93 181.00,280.15 181.50,280.70 182.00,280.99 182.50,281.97 183.00,281.69 183.50,281.83 184.00,282.09 184.50,282.41 185.00,282.52 185.50,282.58 186.00,282.12 186.50,282.03 187.00,281.33 187.50,281.32 188.00,280.69 188.50,280.37 189.00,279.43 189.50,279.50 190.00,279.34 190.50,279.97 191.00,279.91 191.50,280.22 192.00,281.45 192.50,281.75 193.00,281.84 193.50,282.19 194.00,282.20 194.50,282.22 195.00,281.20 195.50,281.59 196.00,281.37 196.50,281.29 197.00,281.51 197.50,281.40 198.00,281.44 198.50,281.64 199.00,281.65 199.50,281.16 200.00,281.69 200.50,281.02 201.00,281.08 201.50,280.44 202.00,280.14 202.50,280.78 203.00,281.04 203.50,281.47 204.00,281.57 204.50,281.21 205.00,281.06 205.50,281.07 206.00,281.17 206.50,281.52 207.00,281.11 207.50,281.13 208.00,281.47 208.50,281.61 209.00,280.92 209.50,280.75 210.00,281.03 210.50,281.59 211.00,281.40 211.50,281.45 212.00,281.08 212.50,281.59 213.00,281.24 213.50,281.47 214.00,281.25 214.50,281.13 215.00,280.60 215.50,280.75 216.00,280.91 216.50,281.50 217.00,281.61 217.50,281.52 218.00,281.61 218.50,281.15 219.00,281.66 219.50,281.56 220.00,281.15 220.50,281.17 221.00,281.02 221.50,281.06 222.00,280.79 222.50,280.48 223.00,281.50 223.50,281.16 224.00,281.68 224.50,281.06 225.00,280.79 225.50,281.22 226.00,281.13 226.50,281.28 227.00,281.06 227.50,281.33 228.00,281.65 228.50,281.40 229.00,280.24 229.50,280.43 230.00,280.70 230.50,280.51 231.00,281.20 231.50,281.51 232.00,281.06 232.50,281.05 233.00,281.66 233.50,281.36 234.00,281.53 234.50,281.20 235.00,281.02 235.50,281.16 236.00,281.67 236.50,281.61 237.00,281.25 237.50,281.42 238.00,280.93 238.50,281.14 239.00,281.51 239.50,281.22 240.00,280.77 240.50,280.72 241.00,280.25 241.50,280.89 242.00,281.48 242.50,281.50 243.00,281.63 243.50,281.08 244.00,281.56 244.50,281.40 245.00,281.06 245.50,281.45 246.00,281.48 246.50,281.05 247.00,281.29 247.50,281.30 248.00,281.54 248.50,281.25 249.00,281.23 249.50,281.18 250.00,281.07 250.50,280.66 251.00,280.47 251.50,281.22 252.00,281.03 252.50,281.48 253.00,281.48 253.50,281.60 254.00,281.48 254.50,281.47 255.00,281.57 255.50,281.51 256.00,281.49 256.50,281.10 257.00,281.39 257.50,281.13 258.00,281.15 258.50,280.62 259.00,279.94 259.50,281.08 260.00,281.46 260.50,281.18 261.00,281.49 261.50,281.56 262.00,281.28 262.50,281.27 263.00,281.56 263.50,281.32 264.00,281.38 264.50,281.11 264.70,285.65" fill="#ec8e8e" />
<line x1="62.00" y1="285.65" x2="264.70" y2="285.65" stroke="#ee9090" stroke-width="0.8" />
<polygon points="62.00,295.30 62.00,294.82 62.50,294.76 63.00,294.80 63.50,294.87 64.00,294.86 64.50,294.76 65.00,294.80 65.50,294.77 66.00,294.88 66.50,294.83 67.00,294.83 67.50,294.79 68.00,294.78 68.50,294.88 69.00,294.82 69.50,294.89 70.00,294.85 70.50,294.94 71.00,294.78 71.50,294.78 72.00,294.76 72.50,294.91 73.00,294.85 73.50,294.78 74.00,294.76 74.50,294.79 75.00,294.89 75.50,294.90 76.00,294.91 76.50,294.87 77.00,294.88 77.50,294.83 78.00,294.77 78.50,294.73 79.00,294.83 79.50,294.81 80.00,294.78 80.50,294.78 81.00,294.80 81.50,294.79 82.00,294.73 82.50,294.70 83.00,294.77 83.50,294.80 84.00,294.92 84.50,294.91 85.00,294.92 85.50,294.80 86.00,294.72 86.50,294.73 87.00,294.78 87.50,294.73 88.00,294.70 88.50,294.69 89.00,294.70 89.50,294.66 90.00,294.73 90.50,294.85 91.00,294.87 91.50,294.84 92.00,294.67 92.50,294.60 93.00,294.53 93.50,294.49 94.00,294.39 94.50,294.24 95.00,294.05 95.50,293.93 96.00,293.90 96.50,294.10 97.00,294.15 97.50,294.12 98.00,294.16 98.50,294.30 99.00,294.54 99.50,294.67 100.00,294.72 100.50,294.72 101.00,294.78 101.50,294.68 102.00,294.73 102.50,294.69 103.00,294.75 103.50,294.80 104.00,294.76 104.50,294.83 105.00,294.81 105.50,294.91 106.00,294.96 106.50,294.93 107.00,294.80 107.50,294.77 108.00,294.70 108.50,294.73 109.00,294.75 109.50,294.80 110.00,294.89 110.50,294.84 111.00,294.89 111.50,294.89 112.00,294.97 112.50,294.92 113.00,294.77 113.50,294.75 114.00,294.73 114.50,294.78 115.00,294.81 115.50,294.85 116.00,294.91 116.50,294.83 117.00,294.67 117.50,294.70 118.00,294.63 118.50,294.74 119.00,294.59 119.50,294.63 120.00,294.36 120.50,294.04 121.00,293.59 121.50,293.30 122.00,293.20 122.50,293.36 123.00,293.76 123.50,294.07 124.00,294.40 124.50,294.50 125.00,294.59 125.50,294.66 126.00,294.65 126.50,294.79 127.00,294.73 127.50,294.69 128.00,294.66 128.50,294.70 129.00,294.70 129.50,294.75 130.00,294.78 130.50,294.81 131.00,294.71 131.50,294.69 132.00,294.83 132.50,294.76 133.00,294.72 133.50,294.66 134.00,294.79 134.50,294.86 135.00,294.91 135.50,294.89 136.00,294.89 136.50,294.77 137.00,294.80 137.50,294.71 138.00,294.71 138.50,294.34 139.00,294.01 139.50,293.51 140.00,293.09 140.50,292.38 141.00,291.76 141.50,291.11 142.00,290.97 142.50,291.14 143.00,291.75 143.50,292.39 144.00,293.07 144.50,293.59 145.00,294.08 145.50,294.40 146.00,294.60 146.50,294.57 147.00,294.62 147.50,294.77 148.00,294.94 148.50,294.93 149.00,294.91 149.50,294.48 150.00,293.52 150.50,292.69 151.00,292.71 151.50,293.56 152.00,293.73 152.50,293.51 153.00,293.18 153.50,293.12 154.00,293.35 154.50,293.36 155.00,293.26 155.50,293.48 156.00,293.92 156.50,294.39 157.00,294.18 157.50,293.61 158.00,293.30 158.50,293.54 159.00,292.94 159.50,292.82 160.00,293.27 160.50,294.00 161.00,293.54 161.50,293.52 162.00,292.86 162.50,292.70 163.00,292.77 163.50,293.36 164.00,293.66 164.50,293.17 165.00,293.26 165.50,293.50 166.00,293.39 166.50,292.97 167.00,292.85 167.50,293.08 168.00,293.57 168.50,294.13 169.00,294.23 169.50,294.25 170.00,294.13 170.50,293.87 171.00,293.82 171.50,293.20 172.00,292.95 172.50,293.22 173.00,293.79 173.50,293.69 174.00,293.00 174.50,292.64 175.00,292.80 175.50,293.23 176.00,293.21 176.50,293.50 177.00,293.90 177.50,293.92 178.00,294.12 178.50,293.58 179.00,292.89 179.50,293.12 180.00,293.90 180.50,293.81 181.00,294.07 181.50,294.44 182.00,294.25 182.50,294.34 183.00,293.83 183.50,293.91 184.00,293.84 184.50,293.36 185.00,293.34 185.50,293.79 186.00,294.15 186.50,293.73 187.00,293.83 187.50,293.30 188.00,292.77 188.50,292.91 189.00,293.61 189.50,294.28 190.00,294.49 190.50,294.08 191.00,294.03 191.50,294.49 192.00,293.95 192.50,293.85 193.00,294.10 193.50,294.06 194.00,294.25 194.50,294.18 195.00,294.60 195.50,294.23 196.00,294.12 196.50,294.20 197.00,293.83 197.50,293.22 198.00,292.81 198.50,292.77 199.00,293.13 199.50,293.60 200.00,293.48 200.50,293.00 201.00,292.95 201.50,293.21 202.00,292.89 202.50,293.25 203.00,293.14 203.50,293.01 204.00,293.26 204.50,293.01 205.00,293.18 205.50,293.66 206.00,294.25 206.50,294.32 207.00,293.83 207.50,293.44 208.00,293.30 208.50,293.49 209.00,293.91 209.50,294.36 210.00,294.38 210.50,293.98 211.00,293.82 211.50,294.05 212.00,293.82 212.50,293.88 213.00,294.20 213.50,294.33 214.00,294.40 214.50,294.45 215.00,294.60 215.50,294.20 216.00,293.61 216.50,293.05 217.00,292.70 217.50,292.69 218.00,293.03 218.50,292.72 219.00,292.97 219.50,292.83 220.00,293.25 220.50,294.06 221.00,293.90 221.50,294.00 222.00,294.31 222.50,293.51 223.00,292.77 223.50,292.71 224.00,293.37 224.50,293.04 225.00,292.95 225.50,293.46 226.00,294.22 226.50,294.17 227.00,294.24 227.50,294.52 228.00,294.42 228.50,294.53 229.00,294.10 229.50,293.71 230.00,293.07 230.50,292.64 231.00,292.62 231.50,293.01 232.00,293.10 232.50,293.31 233.00,293.07 233.50,293.03 234.00,293.39 234.50,293.55 235.00,293.48 235.50,294.02 236.00,294.05 236.50,293.93 237.00,293.96 237.50,293.80 238.00,293.56 238.50,293.64 239.00,293.34 239.50,292.81 240.00,292.74 240.50,293.18 241.00,293.57 241.50,292.69 242.00,293.07 242.50,294.22 243.00,293.75 243.50,293.17 244.00,292.82 244.50,292.86 245.00,293.27 245.50,293.08 246.00,293.08 246.50,293.47 247.00,293.98 247.50,293.56 248.00,293.23 248.50,293.86 249.00,293.91 249.50,293.04 250.00,293.02 250.50,293.88 251.00,294.43 251.50,294.48 252.00,294.21 252.50,294.14 253.00,294.32 253.50,294.34 254.00,294.40 254.50,294.47 255.00,293.83 255.50,293.03 256.00,292.84 256.50,293.42 257.00,294.29 257.50,294.45 258.00,294.34 258.50,294.06 259.00,293.66 259.50,293.44 260.00,293.49 260.50,293.22 261.00,293.40 261.50,293.91 262.00,293.38 262.50,292.83 263.00,292.55 263.50,292.66 264.00,293.10 264.50,293.62 264.70,295.30" fill="#80c83c" />
<line x1="62.00" y1="295.30" x2="264.70" y2="295.30" stroke="#80c840" stroke-width="0.8" />
<polygon points="62.00,304.95 62.00,304.75 62.50,304.65 63.00,304.65 63.50,304.64 64.00,304.63 64.50,304.64 65.00,304.65 65.50,304.66 66.00,304.66 66.50,304.65 67.00,304.65 67.50,304.64 68.00,304.65 68.50,304.64 69.00,304.65 69.50,304.64 70.00,304.64 70.50,304.64 71.00,304.65 71.50,304.66 72.00,304.66 72.50,304.65 73.00,304.64 73.50,304.64 74.00,304.64 74.50,304.65 75.00,304.65 75.50,304.65 76.00,304.64 76.50,304.64 77.00,304.65 77.50,304.65 78.00,304.65 78.50,304.64 79.00,304.65 79.50,304.65 80.00,304.65 80.50,304.64 81.00,304.65 81.50,304.65 82.00,304.65 82.50,304.65 83.00,304.65 83.50,304.65 84.00,304.65 84.50,304.65 85.00,304.65 85.50,304.65 86.00,304.65 86.50,304.65 87.00,304.63 87.50,304.62 88.00,304.60 88.50,304.57 89.00,304.51 89.50,304.44 90.00,304.32 90.50,304.11 91.00,303.84 91.50,303.56 92.00,302.83 92.50,302.07 93.00,301.31 93.50,300.96 94.00,300.66 94.50,300.32 95.00,300.10 95.50,300.01 96.00,299.97 96.50,300.09 97.00,300.37 97.50,300.77 98.00,301.24 98.50,301.63 99.00,302.09 99.50,302.47 100.00,302.81 100.50,303.06 101.00,303.24 101.50,303.36 102.00,303.48 102.50,303.56 103.00,303.64 103.50,303.62 104.00,303.60 104.50,303.60 105.00,303.63 105.50,303.68 106.00,303.65 106.50,303.63 107.00,303.58 107.50,303.60 108.00,303.61 108.50,303.63 109.00,303.61 109.50,303.59 110.00,303.61 110.50,303.64 111.00,303.63 111.50,303.62 112.00,303.60 112.50,303.63 113.00,303.61 113.50,303.65 114.00,303.69 114.50,303.73 115.00,303.71 115.50,303.68 116.00,303.63 116.50,303.93 117.00,304.22 117.50,304.49 118.00,304.31 118.50,303.95 119.00,303.43 119.50,302.59 120.00,301.70 120.50,300.55 121.00,299.57 121.50,298.78 122.00,298.55 122.50,298.80 123.00,299.49 123.50,300.50 124.00,301.60 124.50,302.60 125.00,303.37 125.50,303.94 126.00,304.30 126.50,304.50 127.00,304.59 127.50,304.63 128.00,304.65 128.50,304.66 129.00,304.65 129.50,304.66 130.00,304.65 130.50,304.66 131.00,304.66 131.50,304.66 132.00,304.64 132.50,304.63 133.00,304.61 133.50,304.59 134.00,304.54 134.50,304.46 135.00,304.34 135.50,304.17 136.00,303.89 136.50,303.50 137.00,303.04 137.50,302.50 138.00,301.89 138.50,301.04 139.00,300.26 139.50,299.34 140.00,298.49 140.50,297.65 141.00,297.17 141.50,297.27 142.00,297.46 142.50,297.94 143.00,298.32 143.50,299.10 144.00,299.91 144.50,300.70 145.00,301.38 145.50,302.10 146.00,302.78 146.50,303.38 147.00,303.75 147.50,304.06 148.00,304.24 148.50,304.38 149.00,304.49 149.50,304.56 150.00,303.92 150.50,303.30 151.00,302.63 151.50,302.59 152.00,302.39 152.50,302.15 153.00,301.81 153.50,301.62 154.00,301.28 154.50,300.97 155.00,300.60 155.50,300.54 156.00,300.58 156.50,300.69 157.00,300.69 157.50,300.67 158.00,300.79 158.50,300.91 159.00,301.16 159.50,301.15 160.00,301.26 160.50,301.13 161.00,301.12 161.50,301.06 162.00,301.00 162.50,300.94 163.00,300.69 163.50,300.40 164.00,299.93 164.50,299.21 165.00,298.15 165.50,296.87 166.00,296.35 166.50,296.35 167.00,296.35 167.50,296.35 168.00,296.74 168.50,297.94 169.00,298.48 169.50,299.12 170.00,298.83 170.50,298.49 171.00,297.99 171.50,298.10 172.00,298.16 172.50,298.46 173.00,298.31 173.50,298.49 174.00,298.28 174.50,298.48 175.00,298.38 175.50,298.31 176.00,298.23 176.50,298.05 177.00,298.17 177.50,298.21 178.00,298.22 178.50,298.32 179.00,298.19 179.50,298.19 180.00,297.94 180.50,297.96 181.00,298.18 181.50,298.32 182.00,298.40 182.50,298.37 183.00,298.43 183.50,298.46 184.00,298.54 184.50,298.41 185.00,298.47 185.50,298.30 186.00,298.42 186.50,298.22 187.00,298.22 187.50,298.18 188.00,298.14 188.50,298.15 189.00,298.02 189.50,298.08 190.00,297.98 190.50,297.99 191.00,297.95 191.50,298.12 192.00,298.24 192.50,298.44 193.00,298.32 193.50,298.27 194.00,298.03 194.50,298.23 195.00,298.40 195.50,298.45 196.00,298.25 196.50,298.27 197.00,298.46 197.50,298.58 198.00,298.50 198.50,298.50 199.00,298.57 199.50,298.61 200.00,298.62 200.50,298.60 201.00,298.66 201.50,298.55 202.00,298.36 202.50,298.16 203.00,298.09 203.50,298.18 204.00,298.33 204.50,298.50 205.00,298.59 205.50,298.35 206.00,298.11 206.50,297.99 207.00,298.09 207.50,298.12 208.00,298.04 208.50,298.15 209.00,298.14 209.50,298.19 210.00,298.18 210.50,298.34 211.00,298.49 211.50,298.40 212.00,298.19 212.50,298.00 213.00,298.12 213.50,298.38 214.00,298.54 214.50,298.54 215.00,298.53 215.50,298.39 216.00,298.35 216.50,298.21 217.00,298.35 217.50,298.14 218.00,298.13 218.50,298.18 219.00,299.56 219.50,300.89 220.00,302.05 220.50,302.11 221.00,302.09 221.50,302.11 222.00,302.10 222.50,302.15 223.00,302.06 223.50,302.07 224.00,302.06 224.50,302.13 225.00,302.14 225.50,302.15 226.00,302.15 226.50,302.09 227.00,302.05 227.50,302.05 228.00,302.04 228.50,302.01 229.00,302.02 229.50,302.08 230.00,302.10 230.50,302.08 231.00,302.00 231.50,302.08 232.00,302.07 232.50,302.13 233.00,302.10 233.50,302.06 234.00,302.08 234.50,302.00 235.00,302.00 235.50,301.90 236.00,301.99 236.50,302.09 237.00,302.20 237.50,302.18 238.00,302.08 238.50,302.00 239.00,302.02 239.50,302.13 240.00,302.12 240.50,302.05 241.00,302.07 241.50,302.09 242.00,302.15 242.50,302.11 243.00,302.17 243.50,302.07 244.00,302.04 244.50,301.97 245.00,302.08 245.50,302.09 246.00,302.09 246.50,302.01 247.00,301.94 247.50,302.00 248.00,302.06 248.50,302.13 249.00,302.12 249.50,302.05 250.00,302.05 250.50,302.04 251.00,302.08 251.50,302.06 252.00,302.06 252.50,302.13 253.00,302.10 253.50,302.14 254.00,302.02 254.50,302.09 255.00,302.07 255.50,302.11 256.00,302.02 256.50,302.01 257.00,302.01 257.50,302.08 258.00,302.12 258.50,302.14 259.00,302.07 259.50,301.96 260.00,301.97 260.50,301.97 261.00,302.09 261.50,302.03 262.00,302.15 262.50,302.09 263.00,302.14 263.50,302.08 264.00,302.01 264.50,302.97 264.70,304.95" fill="#8a87cf" />
<line x1="62.00" y1="304.95" x2="264.70" y2="304.95" stroke="#9090d0" stroke-width="0.8" />
<polygon points="62.00,314.60 62.00,314.30 62.50,314.30 63.00,314.30 63.50,314.30 64.00,314.30 64.50,314.30 65.00,314.30 65.50,314.30 66.00,314.30 66.50,314.30 67.00,314.30 67.50,314.30 68.00,314.30 68.50,314.30 69.00,314.30 69.50,314.30 70.00,314.30 70.50,314.30 71.00,314.30 71.50,314.30 72.00,314.30 72.50,314.30 73.00,314.30 73.50,314.30 74.00,314.30 74.50,314.30 75.00,314.30 75.50,314.30 76.00,314.30 76.50,314.30 77.00,314.30 77.50,314.30 78.00,314.30 78.50,314.30 79.00,314.30 79.50,314.30 80.00,314.30 80.50,314.30 81.00,314.30 81.50,314.30 82.00,314.30 82.50,314.30 83.00,314.30 83.50,314.30 84.00,314.30 84.50,314.30 85.00,314.30 85.50,314.30 86.00,314.30 86.50,314.30 87.00,314.30 87.50,314.30 88.00,314.30 88.50,314.30 89.00,314.30 89.50,314.30 90.00,314.30 90.50,314.30 91.00,314.30 91.50,314.30 92.00,314.30 92.50,314.30 93.00,314.30 93.50,314.30 94.00,314.30 94.50,314.30 95.00,314.30 95.50,313.60 96.00,313.60 96.50,313.60 97.00,313.60 97.50,313.60 98.00,313.60 98.50,313.60 99.00,313.60 99.50,313.60 100.00,313.60 100.50,313.60 101.00,313.60 101.50,313.60 102.00,313.60 102.50,313.60 103.00,313.60 103.50,313.60 104.00,313.60 104.50,313.60 105.00,313.60 105.50,313.60 106.00,313.60 106.50,313.60 107.00,313.60 107.50,313.60 108.00,313.60 108.50,313.60 109.00,313.60 109.50,313.60 110.00,313.60 110.50,313.60 111.00,313.60 111.50,313.60 112.00,313.60 112.50,313.60 113.00,313.60 113.50,313.60 114.00,313.60 114.50,313.60 115.00,313.60 115.50,313.60 116.00,313.60 116.50,313.60 117.00,313.60 117.50,313.58 118.00,314.23 118.50,314.09 119.00,313.76 119.50,313.07 120.00,311.91 120.50,310.29 121.00,308.50 121.50,307.06 122.00,306.50 122.50,307.06 123.00,308.50 123.50,310.29 124.00,311.91 124.50,313.07 125.00,313.76 125.50,314.09 126.00,314.23 126.50,314.28 127.00,314.30 127.50,314.30 128.00,314.30 128.50,314.30 129.00,314.30 129.50,314.30 130.00,314.30 130.50,314.30 131.00,314.30 131.50,314.30 132.00,314.30 132.50,314.30 133.00,314.30 133.50,314.29 134.00,314.28 134.50,314.27 135.00,314.23 135.50,314.17 136.00,314.06 136.50,313.88 137.00,313.60 137.50,313.21 138.00,312.67 138.50,312.00 139.00,311.22 139.50,310.37 140.00,309.54 140.50,308.83 141.00,308.33 141.50,308.11 142.00,308.20 142.50,308.60 143.00,309.24 143.50,310.03 144.00,310.88 144.50,311.70 145.00,312.42 145.50,313.01 146.00,313.46 146.50,313.78 147.00,314.00 147.50,314.13 148.00,313.71 148.50,313.10 149.00,312.35 149.50,311.57 150.00,310.97 150.50,310.70 151.00,310.87 151.50,310.35 152.00,310.42 152.50,311.37 153.00,311.40 153.50,311.83 154.00,310.98 154.50,310.36 155.00,310.16 155.50,310.45 156.00,311.13 156.50,311.47 157.00,310.50 157.50,309.98 158.00,310.12 158.50,310.86 159.00,310.66 159.50,310.37 160.00,310.40 160.50,310.74 161.00,311.32 161.50,311.78 162.00,310.98 162.50,310.86 163.00,311.21 163.50,310.74 164.00,311.06 164.50,310.48 165.00,310.29 165.50,310.56 166.00,311.20 166.50,311.30 167.00,310.73 167.50,310.15 168.00,310.28 168.50,311.07 169.00,310.92 169.50,310.63 170.00,310.86 170.50,311.52 171.00,310.61 171.50,310.67 172.00,310.77 172.50,310.43 173.00,310.43 173.50,310.79 174.00,311.16 174.50,311.31 175.00,311.72 175.50,311.32 176.00,311.67 176.50,311.76 177.00,312.02 177.50,311.52 178.00,311.06 178.50,310.93 179.00,310.69 179.50,310.16 180.00,310.19 180.50,310.44 181.00,310.47 181.50,311.07 182.00,311.24 182.50,310.96 183.00,310.55 183.50,310.43 184.00,310.04 184.50,310.45 185.00,309.63 185.50,308.74 186.00,309.37 186.50,308.86 187.00,308.85 187.50,308.59 188.00,309.59 188.50,309.54 189.00,309.43 189.50,308.78 190.00,308.72 190.50,308.50 191.00,308.65 191.50,309.57 192.00,308.57 192.50,307.95 193.00,307.85 193.50,308.29 194.00,309.16 194.50,309.02 195.00,308.49 195.50,309.25 196.00,310.83 196.50,310.75 197.00,308.92 197.50,308.67 198.00,310.21 198.50,309.73 199.00,309.54 199.50,309.82 200.00,310.51 200.50,309.84 201.00,309.39 201.50,309.28 202.00,309.27 202.50,308.34 203.00,308.04 203.50,308.46 204.00,309.47 204.50,309.53 205.00,309.69 205.50,309.55 206.00,309.80 206.50,308.50 207.00,308.86 207.50,309.99 208.00,310.25 208.50,309.85 209.00,310.62 209.50,310.42 210.00,309.48 210.50,308.96 211.00,309.02 211.50,309.13 212.00,309.15 212.50,309.74 213.00,310.74 213.50,310.33 214.00,310.06 214.50,310.70 215.00,310.33 215.50,309.89 216.00,310.20 216.50,309.34 217.00,308.70 217.50,308.50 218.00,308.77 218.50,309.29 219.00,309.45 219.50,309.77 220.00,309.61 220.50,309.27 221.00,309.35 221.50,309.00 222.00,309.08 222.50,309.56 223.00,309.11 223.50,309.85 224.00,311.49 224.50,312.80 225.00,312.80 225.50,312.80 226.00,312.80 226.50,312.80 227.00,312.80 227.50,312.80 228.00,312.80 228.50,312.80 229.00,312.80 229.50,312.80 230.00,312.80 230.50,312.80 231.00,312.80 231.50,312.80 232.00,312.80 232.50,312.80 233.00,312.80 233.50,312.80 234.00,312.80 234.50,312.80 235.00,312.80 235.50,312.80 236.00,312.80 236.50,312.80 237.00,312.80 237.50,312.80 238.00,312.80 238.50,312.80 239.00,312.80 239.50,312.80 240.00,312.80 240.50,312.80 241.00,312.80 241.50,312.80 242.00,312.80 242.50,312.80 243.00,312.80 243.50,312.80 244.00,312.80 244.50,312.80 245.00,312.80 245.50,312.80 246.00,312.80 246.50,312.80 247.00,312.80 247.50,312.80 248.00,312.80 248.50,312.80 249.00,312.80 249.50,312.80 250.00,312.80 250.50,312.80 251.00,312.80 251.50,312.80 252.00,312.80 252.50,312.80 253.00,312.80 253.50,312.80 254.00,312.80 254.50,312.80 255.00,312.80 255.50,312.80 256.00,312.80 256.50,312.80 257.00,312.80 257.50,312.80 258.00,312.80 258.50,312.80 259.00,312.80 259.50,312.80 260.00,312.80 260.50,312.80 261.00,312.80 261.50,312.80 262.00,312.80 262.50,312.80 263.00,312.80 263.50,312.80 264.00,312.80 264.50,312.80 264.70,314.60" fill="#4fcfc4" />
<line x1="62.00" y1="314.60" x2="264.70" y2="314.60" stroke="#60d0c8" stroke-width="0.8" />
<polygon points="62.00,324.25 62.00,324.05 62.50,324.05 63.00,324.05 63.50,324.05 64.00,324.05 64.50,324.05 65.00,324.05 65.50,324.05 66.00,324.05 66.50,324.05 67.00,324.05 67.50,324.05 68.00,324.05 68.50,324.05 69.00,324.05 69.50,324.05 70.00,324.05 70.50,324.05 71.00,324.05 71.50,324.05 72.00,324.05 72.50,324.05 73.00,324.05 73.50,324.05 74.00,324.05 74.50,324.05 75.00,324.05 75.50,324.05 76.00,324.05 76.50,324.05 77.00,324.05 77.50,324.05 78.00,324.05 78.50,324.05 79.00,324.05 79.50,324.05 80.00,324.05 80.50,324.05 81.00,324.05 81.50,324.05 82.00,324.05 82.50,324.05 83.00,324.05 83.50,324.05 84.00,324.05 84.50,324.05 85.00,324.05 85.50,324.05 86.00,324.05 86.50,324.05 87.00,324.05 87.50,324.05 88.00,324.05 88.50,324.05 89.00,324.05 89.50,324.05 90.00,324.05 90.50,324.05 91.00,324.05 91.50,324.05 92.00,324.05 92.50,324.05 93.00,324.05 93.50,324.05 94.00,324.05 94.50,324.05 95.00,324.05 95.50,324.05 96.00,324.05 96.50,324.05 97.00,324.05 97.50,324.05 98.00,324.05 98.50,324.05 99.00,324.05 99.50,324.05 100.00,324.05 100.50,323.15 101.00,323.15 101.50,323.15 102.00,323.15 102.50,323.15 103.00,323.15 103.50,323.15 104.00,323.15 104.50,323.15 105.00,323.15 105.50,323.15 106.00,323.15 106.50,323.15 107.00,323.15 107.50,323.15 108.00,323.15 108.50,323.15 109.00,323.15 109.50,323.15 110.00,323.15 110.50,323.15 111.00,323.15 111.50,323.15 112.00,323.15 112.50,323.15 113.00,323.15 113.50,323.15 114.00,323.15 114.50,323.15 115.00,323.15 115.50,323.15 116.00,323.15 116.50,323.15 117.00,323.15 117.50,323.15 118.00,323.14 118.50,323.10 119.00,322.98 119.50,322.72 120.00,323.10 120.50,322.31 121.00,321.36 121.50,320.57 122.00,320.25 122.50,320.57 123.00,321.36 123.50,322.31 124.00,323.10 124.50,323.62 125.00,323.88 125.50,324.00 126.00,324.04 126.50,324.05 127.00,324.05 127.50,324.05 128.00,324.05 128.50,324.05 129.00,324.05 129.50,324.05 130.00,324.05 130.50,324.05 131.00,324.05 131.50,324.05 132.00,324.05 132.50,324.05 133.00,324.05 133.50,324.05 134.00,324.04 134.50,324.04 135.00,324.02 135.50,323.98 136.00,323.91 136.50,323.78 137.00,323.55 137.50,323.19 138.00,322.66 138.50,321.94 139.00,321.04 139.50,320.02 140.00,318.97 140.50,318.03 141.00,317.36 141.50,317.06 142.00,317.19 142.50,317.72 143.00,318.57 143.50,319.59 144.00,320.64 144.50,321.60 145.00,322.40 145.50,323.00 146.00,323.43 146.50,323.70 147.00,323.87 147.50,323.96 148.00,324.01 148.50,324.03 149.00,323.97 149.50,323.59 150.00,322.99 150.50,322.36 151.00,321.95 151.50,321.99 152.00,322.47 152.50,322.00 153.00,320.96 153.50,321.05 154.00,321.95 154.50,321.62 155.00,321.97 155.50,322.35 156.00,322.66 156.50,322.71 157.00,322.52 157.50,322.13 158.00,321.43 158.50,321.06 159.00,321.25 159.50,321.91 160.00,321.85 160.50,321.45 161.00,321.47 161.50,321.64 162.00,321.12 162.50,321.69 163.00,322.77 163.50,322.71 164.00,322.21 164.50,321.52 165.00,321.84 165.50,320.64 166.00,318.57 166.50,317.19 167.00,317.36 167.50,318.97 168.00,321.04 168.50,321.02 169.00,320.85 169.50,320.82 170.00,320.70 170.50,321.08 171.00,321.79 171.50,321.49 172.00,321.61 172.50,322.08 173.00,321.57 173.50,321.44 174.00,321.17 174.50,320.97 175.00,321.31 175.50,322.02 176.00,322.54 176.50,322.45 177.00,321.41 177.50,320.73 178.00,320.85 178.50,321.68 179.00,321.97 179.50,322.22 180.00,322.67 180.50,321.77 181.00,321.20 181.50,321.55 182.00,321.53 182.50,321.85 183.00,321.64 183.50,321.88 184.00,322.41 184.50,321.56 185.00,320.92 185.50,320.76 186.00,321.16 186.50,321.37 187.00,321.85 187.50,322.15 188.00,322.49 188.50,322.55 189.00,321.49 189.50,321.06 190.00,321.61 190.50,321.73 191.00,321.42 191.50,321.53 192.00,322.01 192.50,322.57 193.00,322.33 193.50,322.30 194.00,322.07 194.50,321.82 195.00,321.14 195.50,320.78 196.00,320.87 196.50,321.38 197.00,321.56 197.50,321.53 198.00,321.96 198.50,322.64 199.00,321.94 199.50,321.14 200.00,320.82 200.50,321.15 201.00,321.95 201.50,321.96 202.00,321.83 202.50,321.99 203.00,321.89 203.50,321.91 204.00,322.47 204.50,321.62 205.00,320.86 205.50,320.87 206.00,321.64 206.50,322.06 207.00,322.07 207.50,321.37 208.00,320.89 208.50,320.77 209.00,321.07 209.50,321.68 210.00,322.41 210.50,322.27 211.00,322.37 211.50,322.72 212.00,322.48 212.50,322.30 213.00,322.44 213.50,321.97 214.00,321.32 214.50,321.44 215.00,322.24 215.50,321.97 216.00,322.00 216.50,322.19 217.00,322.28 217.50,322.05 218.00,322.15 218.50,322.44 219.00,322.55 219.50,322.09 220.00,322.31 220.50,322.99 221.00,323.25 221.50,323.25 222.00,323.25 222.50,323.25 223.00,323.25 223.50,323.25 224.00,323.25 224.50,323.25 225.00,323.25 225.50,323.25 226.00,323.25 226.50,323.25 227.00,323.25 227.50,323.25 228.00,323.25 228.50,323.25 229.00,323.25 229.50,323.25 230.00,323.25 230.50,323.25 231.00,323.25 231.50,323.25 232.00,323.25 232.50,323.25 233.00,323.25 233.50,323.25 234.00,323.25 234.50,323.25 235.00,323.25 235.50,323.25 236.00,323.25 236.50,323.25 237.00,323.25 237.50,323.25 238.00,323.25 238.50,323.25 239.00,323.25 239.50,323.25 240.00,323.25 240.50,323.25 241.00,323.25 241.50,323.25 242.00,323.25 242.50,323.25 243.00,323.25 243.50,323.25 244.00,323.25 244.50,323.25 245.00,323.25 245.50,323.25 246.00,323.25 246.50,323.25 247.00,323.25 247.50,323.25 248.00,323.25 248.50,323.25 249.00,323.25 249.50,323.25 250.00,323.25 250.50,323.25 251.00,323.25 251.50,323.25 252.00,323.25 252.50,323.25 253.00,323.25 253.50,323.25 254.00,323.25 254.50,323.25 255.00,323.25 255.50,323.25 256.00,323.25 256.50,323.25 257.00,323.25 257.50,323.25 258.00,323.25 258.50,323.25 259.00,323.25 259.50,323.25 260.00,323.25 260.50,323.25 261.00,323.25 261.50,323.25 262.00,323.25 262.50,323.25 263.00,323.25 263.50,323.25 264.00,323.25 264.50,323.25 264.70,324.25" fill="#5a8fd6" />
<line x1="62.00" y1="324.25" x2="264.70" y2="324.25" stroke="#6090d8" stroke-width="0.8" />
<text x="46.5" y="216.0" font-size="8.2" text-anchor="end" fill="#e8232a" stroke="#e8232a" stroke-width="0.15" >PAX5</text>
<text x="47.5" y="225.7" font-size="6.0" text-anchor="end" fill="#222" stroke="#222" stroke-width="0.15" >H3K4me3</text>
<text x="47.5" y="235.3" font-size="6.0" text-anchor="end" fill="#222" stroke="#222" stroke-width="0.15" >H3K4me3</text>
<text x="47.5" y="245.0" font-size="6.0" text-anchor="end" fill="#222" stroke="#222" stroke-width="0.15" >H3K4me1</text>
<text x="47.5" y="254.6" font-size="6.0" text-anchor="end" fill="#222" stroke="#222" stroke-width="0.15" >H3K4me1</text>
<text x="47.5" y="264.3" font-size="6.0" text-anchor="end" fill="#222" stroke="#222" stroke-width="0.15" >H3K27ac</text>
<text x="47.5" y="273.9" font-size="6.0" text-anchor="end" fill="#222" stroke="#222" stroke-width="0.15" >H3K27ac</text>
<text x="47.5" y="283.6" font-size="6.0" text-anchor="end" fill="#222" stroke="#222" stroke-width="0.15" >ATAC-seq</text>
<text x="47.5" y="293.2" font-size="6.0" text-anchor="end" fill="#222" stroke="#222" stroke-width="0.15" >ATAC-seq</text>
<text x="47.5" y="302.9" font-size="6.0" text-anchor="end" fill="#222" stroke="#222" stroke-width="0.15" >ATAC-seq</text>
<text x="47.5" y="312.6" font-size="6.0" text-anchor="end" fill="#222" stroke="#222" stroke-width="0.15" >ATAC-seq</text>
<text x="47.5" y="322.2" font-size="6.0" text-anchor="end" fill="#222" stroke="#222" stroke-width="0.15" >ATAC-seq</text>
<text x="60.3" y="212.4" font-size="6.0" text-anchor="end" fill="#222" stroke="#222" stroke-width="0.15" >2.0</text>
<text x="60.3" y="222.0" font-size="6.0" text-anchor="end" fill="#222" stroke="#222" stroke-width="0.15" >4.0</text>
<text x="60.3" y="231.7" font-size="6.0" text-anchor="end" fill="#222" stroke="#222" stroke-width="0.15" >4.0</text>
<text x="60.3" y="241.3" font-size="6.0" text-anchor="end" fill="#222" stroke="#222" stroke-width="0.15" >2.0</text>
<text x="60.3" y="251.0" font-size="6.0" text-anchor="end" fill="#222" stroke="#222" stroke-width="0.15" >2.0</text>
<text x="60.3" y="260.6" font-size="6.0" text-anchor="end" fill="#222" stroke="#222" stroke-width="0.15" >4.0</text>
<text x="60.3" y="270.3" font-size="6.0" text-anchor="end" fill="#222" stroke="#222" stroke-width="0.15" >4.0</text>
<text x="60.3" y="279.9" font-size="6.0" text-anchor="end" fill="#222" stroke="#222" stroke-width="0.15" >4.0</text>
<text x="60.3" y="289.6" font-size="6.0" text-anchor="end" fill="#222" stroke="#222" stroke-width="0.15" >4.0</text>
<text x="60.3" y="299.2" font-size="6.0" text-anchor="end" fill="#222" stroke="#222" stroke-width="0.15" >4.0</text>
<text x="60.3" y="308.9" font-size="6.0" text-anchor="end" fill="#222" stroke="#222" stroke-width="0.15" >4.0</text>
<text x="60.3" y="318.6" font-size="6.0" text-anchor="end" fill="#222" stroke="#222" stroke-width="0.15" >4.0</text>
<text x="269.5" y="215.7" font-size="5.9" text-anchor="start" fill="#222" stroke="#222" stroke-width="0.15" >GM12878</text>
<text x="269.5" y="227.8" font-size="5.9" text-anchor="start" fill="#222" stroke="#222" stroke-width="0.15" >N23C</text>
<text x="269.5" y="237.5" font-size="5.9" text-anchor="start" fill="#222" stroke="#222" stroke-width="0.15" >N39C</text>
<text x="269.5" y="247.1" font-size="5.9" text-anchor="start" fill="#222" stroke="#222" stroke-width="0.15" >N23C</text>
<text x="269.5" y="256.8" font-size="5.9" text-anchor="start" fill="#222" stroke="#222" stroke-width="0.15" >N39C</text>
<text x="269.5" y="266.4" font-size="5.9" text-anchor="start" fill="#222" stroke="#222" stroke-width="0.15" >N23C</text>
<text x="269.5" y="276.1" font-size="5.9" text-anchor="start" fill="#222" stroke="#222" stroke-width="0.15" >N39C</text>
<text x="269.5" y="285.8" font-size="5.9" text-anchor="start" fill="#222" stroke="#222" stroke-width="0.15" >N23C</text>
<text x="269.5" y="295.4" font-size="5.9" text-anchor="start" fill="#222" stroke="#222" stroke-width="0.15" >N39C</text>
<text x="269.5" y="305.1" font-size="5.9" text-anchor="start" fill="#222" stroke="#222" stroke-width="0.15" >N25</text>
<text x="269.5" y="314.7" font-size="5.9" text-anchor="start" fill="#222" stroke="#222" stroke-width="0.15" >N59b</text>
<text x="269.5" y="324.4" font-size="5.9" text-anchor="start" fill="#222" stroke="#222" stroke-width="0.15" >N63b</text>
<text transform="translate(297.8,275.0) rotate(-90)" font-size="7.0" text-anchor="middle" fill="#222" stroke="#222" stroke-width="0.15" >Primary MM patient samples</text>
<line x1="134.30" y1="276.50" x2="134.30" y2="324.00" stroke="#888" stroke-width="0.5" />
<line x1="147.30" y1="276.50" x2="147.30" y2="324.00" stroke="#888" stroke-width="0.5" />
<text x="5.0" y="336.5" font-size="6.0" text-anchor="start" fill="#222" stroke="#222" stroke-width="0.15" >Gene</text>
<line x1="142.00" y1="336.80" x2="264.00" y2="336.80" stroke="#5a5ad0" stroke-width="0.8" />
<rect x="142.30" y="333.30" width="3.60" height="7.00" fill="#2424b0" />
<rect x="162.70" y="333.60" width="2.00" height="6.40" fill="#2424b0" />
<rect x="170.90" y="333.60" width="1.60" height="6.40" fill="#2424b0" />
<rect x="216.20" y="333.60" width="1.70" height="6.40" fill="#2424b0" />
<rect x="250.20" y="333.90" width="13.80" height="6.10" fill="#2424b0" />
<line x1="148.00" y1="335.50" x2="148.00" y2="338.10" stroke="#2424b0" stroke-width="0.7" />
<line x1="153.00" y1="335.50" x2="153.00" y2="338.10" stroke="#2424b0" stroke-width="0.7" />
<line x1="158.00" y1="335.50" x2="158.00" y2="338.10" stroke="#2424b0" stroke-width="0.7" />
<line x1="167.00" y1="335.50" x2="167.00" y2="338.10" stroke="#2424b0" stroke-width="0.7" />
<line x1="176.00" y1="335.50" x2="176.00" y2="338.10" stroke="#2424b0" stroke-width="0.7" />
<line x1="181.00" y1="335.50" x2="181.00" y2="338.10" stroke="#2424b0" stroke-width="0.7" />
<line x1="186.00" y1="335.50" x2="186.00" y2="338.10" stroke="#2424b0" stroke-width="0.7" />
<line x1="191.00" y1="335.50" x2="191.00" y2="338.10" stroke="#2424b0" stroke-width="0.7" />
<line x1="196.00" y1="335.50" x2="196.00" y2="338.10" stroke="#2424b0" stroke-width="0.7" />
<line x1="201.00" y1="335.50" x2="201.00" y2="338.10" stroke="#2424b0" stroke-width="0.7" />
<line x1="206.00" y1="335.50" x2="206.00" y2="338.10" stroke="#2424b0" stroke-width="0.7" />
<line x1="211.00" y1="335.50" x2="211.00" y2="338.10" stroke="#2424b0" stroke-width="0.7" />
<line x1="222.00" y1="335.50" x2="222.00" y2="338.10" stroke="#2424b0" stroke-width="0.7" />
<line x1="227.00" y1="335.50" x2="227.00" y2="338.10" stroke="#2424b0" stroke-width="0.7" />
<line x1="232.00" y1="335.50" x2="232.00" y2="338.10" stroke="#2424b0" stroke-width="0.7" />
<line x1="237.00" y1="335.50" x2="237.00" y2="338.10" stroke="#2424b0" stroke-width="0.7" />
<line x1="242.00" y1="335.50" x2="242.00" y2="338.10" stroke="#2424b0" stroke-width="0.7" />
<line x1="247.00" y1="335.50" x2="247.00" y2="338.10" stroke="#2424b0" stroke-width="0.7" />
<text x="141.2" y="331.3" font-size="5.7" text-anchor="start" fill="#222" stroke="#222" stroke-width="0.15" font-style="italic">CCND1</text>
<line x1="161.50" y1="329.30" x2="166.50" y2="329.30" stroke="#222" stroke-width="0.6" />
<polygon points="168.00,329.30 165.80,328.10 165.80,330.50" fill="#222" />
<polygon points="216.30,344.00 219.50,344.00 217.90,346.50" fill="#222" />
<text x="5.2" y="352.2" font-size="5.75" text-anchor="start" fill="#222" stroke="#222" stroke-width="0.15" >11q13.3 risk locus</text>
<line x1="9.80" y1="359.20" x2="17.50" y2="359.20" stroke="#2b44c8" stroke-width="1.3" />
<text x="19.0" y="361.1" font-size="5.3" text-anchor="start" fill="#333" stroke="#333" stroke-width="0.15" >0.5 ≤ r² &lt; 0.8</text>
<line x1="9.80" y1="364.00" x2="17.50" y2="364.00" stroke="#b04cc8" stroke-width="1.3" />
<text x="19.0" y="365.9" font-size="5.3" text-anchor="start" fill="#333" stroke="#333" stroke-width="0.15" >0.8 ≤ r² &lt; 1.0</text>
<line x1="9.80" y1="368.80" x2="17.50" y2="368.80" stroke="#e04040" stroke-width="1.3" />
<text x="19.0" y="370.7" font-size="5.3" text-anchor="start" fill="#333" stroke="#333" stroke-width="0.15" >r² = 1.0</text>
<line x1="71.40" y1="347.60" x2="71.40" y2="352.70" stroke="#8888dd" stroke-width="0.6" />
<line x1="76.60" y1="347.60" x2="76.60" y2="352.70" stroke="#8888dd" stroke-width="0.6" />
<line x1="82.60" y1="347.60" x2="82.60" y2="352.70" stroke="#b060c8" stroke-width="0.6" />
<line x1="95.20" y1="347.60" x2="95.20" y2="352.70" stroke="#c080d0" stroke-width="0.6" />
<line x1="99.00" y1="347.60" x2="99.00" y2="352.70" stroke="#c080d0" stroke-width="0.6" />
<line x1="104.60" y1="347.60" x2="104.60" y2="352.70" stroke="#b060c8" stroke-width="0.6" />
<line x1="106.50" y1="347.60" x2="106.50" y2="352.70" stroke="#b060c8" stroke-width="0.6" />
<line x1="108.80" y1="347.60" x2="108.80" y2="352.70" stroke="#c080d0" stroke-width="0.6" />
<line x1="113.60" y1="347.60" x2="113.60" y2="352.70" stroke="#8888dd" stroke-width="0.6" />
<line x1="121.70" y1="347.60" x2="121.70" y2="352.70" stroke="#b060c8" stroke-width="0.6" />
<line x1="125.90" y1="347.60" x2="125.90" y2="352.70" stroke="#8888dd" stroke-width="0.6" />
<line x1="157.60" y1="347.60" x2="157.60" y2="352.70" stroke="#c080d0" stroke-width="0.6" />
<line x1="201.50" y1="347.60" x2="201.50" y2="352.70" stroke="#c080d0" stroke-width="0.6" />
<line x1="205.60" y1="347.60" x2="205.60" y2="352.70" stroke="#c080d0" stroke-width="0.6" />
<line x1="214.40" y1="347.60" x2="214.40" y2="352.70" stroke="#c080d0" stroke-width="0.6" />
<line x1="217.90" y1="347.60" x2="217.90" y2="352.70" stroke="#e06060" stroke-width="0.6" />
<line x1="237.30" y1="347.60" x2="237.30" y2="352.70" stroke="#8888dd" stroke-width="0.6" />
<line x1="245.50" y1="347.60" x2="245.50" y2="352.70" stroke="#8888dd" stroke-width="0.6" />
<line x1="247.10" y1="347.60" x2="247.10" y2="352.70" stroke="#8888dd" stroke-width="0.6" />
<line x1="252.20" y1="347.60" x2="252.20" y2="352.70" stroke="#8888dd" stroke-width="0.6" />
<polyline points="71.40,352.70 71.40,354.00 65.30,359.80" stroke="#444" stroke-width="0.4" fill="none" stroke-linejoin="round" />
<text transform="translate(67.0,360.6) rotate(-90)" font-size="4.6" text-anchor="end" fill="#222" stroke="#222" stroke-width="0.15" >rs7130847</text>
<polyline points="76.60,352.70 76.60,354.00 71.70,359.80" stroke="#444" stroke-width="0.4" fill="none" stroke-linejoin="round" />
<text transform="translate(73.4,360.6) rotate(-90)" font-size="4.6" text-anchor="end" fill="#222" stroke="#222" stroke-width="0.15" >rs2453264</text>
<polyline points="82.60,352.70 82.60,354.00 76.90,359.80" stroke="#444" stroke-width="0.4" fill="none" stroke-linejoin="round" />
<text transform="translate(78.6,360.6) rotate(-90)" font-size="4.6" text-anchor="end" fill="#222" stroke="#222" stroke-width="0.15" >rs1261548</text>
<polyline points="95.20,352.70 95.20,354.00 86.30,359.80" stroke="#444" stroke-width="0.4" fill="none" stroke-linejoin="round" />
<text transform="translate(88.0,360.6) rotate(-90)" font-size="4.6" text-anchor="end" fill="#222" stroke="#222" stroke-width="0.15" >rs1360074</text>
<polyline points="99.00,352.70 99.00,354.00 91.00,359.80" stroke="#444" stroke-width="0.4" fill="none" stroke-linejoin="round" />
<text transform="translate(92.7,360.6) rotate(-90)" font-size="4.6" text-anchor="end" fill="#222" stroke="#222" stroke-width="0.15" >rs2402075</text>
<polyline points="104.60,352.70 104.60,354.00 95.60,359.80" stroke="#444" stroke-width="0.4" fill="none" stroke-linejoin="round" />
<text transform="translate(97.3,360.6) rotate(-90)" font-size="4.6" text-anchor="end" fill="#222" stroke="#222" stroke-width="0.15" >rs1434580767</text>
<polyline points="106.50,352.70 106.50,354.00 100.90,359.80" stroke="#444" stroke-width="0.4" fill="none" stroke-linejoin="round" />
<text transform="translate(102.6,360.6) rotate(-90)" font-size="4.6" text-anchor="end" fill="#222" stroke="#222" stroke-width="0.15" >rs7482535</text>
<polyline points="108.80,352.70 108.80,354.00 106.10,359.80" stroke="#444" stroke-width="0.4" fill="none" stroke-linejoin="round" />
<text transform="translate(107.8,360.6) rotate(-90)" font-size="4.6" text-anchor="end" fill="#222" stroke="#222" stroke-width="0.15" >rs1360075</text>
<polyline points="108.80,352.70 108.80,354.00 111.40,359.80" stroke="#444" stroke-width="0.4" fill="none" stroke-linejoin="round" />
<text transform="translate(113.1,360.6) rotate(-90)" font-size="4.6" text-anchor="end" fill="#222" stroke="#222" stroke-width="0.15" >rs1211738676</text>
<polyline points="113.60,352.70 113.60,354.00 116.10,359.80" stroke="#444" stroke-width="0.4" fill="none" stroke-linejoin="round" />
<text transform="translate(117.8,360.6) rotate(-90)" font-size="4.6" text-anchor="end" fill="#222" stroke="#222" stroke-width="0.15" >rs78889174</text>
<polyline points="121.70,352.70 121.70,354.00 121.30,359.80" stroke="#444" stroke-width="0.4" fill="none" stroke-linejoin="round" />
<text transform="translate(123.0,360.6) rotate(-90)" font-size="4.6" text-anchor="end" fill="#222" stroke="#222" stroke-width="0.15" >rs227346</text>
<polyline points="125.90,352.70 125.90,354.00 129.50,359.80" stroke="#444" stroke-width="0.4" fill="none" stroke-linejoin="round" />
<text transform="translate(131.2,360.6) rotate(-90)" font-size="4.6" text-anchor="end" fill="#222" stroke="#222" stroke-width="0.15" >rs194412</text>
<polyline points="125.90,352.70 125.90,354.00 134.80,359.80" stroke="#444" stroke-width="0.4" fill="none" stroke-linejoin="round" />
<text transform="translate(136.5,360.6) rotate(-90)" font-size="4.6" text-anchor="end" fill="#222" stroke="#222" stroke-width="0.15" >rs55966436</text>
<polyline points="157.60,352.70 157.60,354.00 158.20,359.80" stroke="#444" stroke-width="0.4" fill="none" stroke-linejoin="round" />
<text transform="translate(159.9,360.6) rotate(-90)" font-size="4.6" text-anchor="end" fill="#222" stroke="#222" stroke-width="0.15" >rs603120327</text>
<polyline points="201.50,352.70 201.50,354.00 199.80,359.80" stroke="#444" stroke-width="0.4" fill="none" stroke-linejoin="round" />
<text transform="translate(201.5,360.6) rotate(-90)" font-size="4.6" text-anchor="end" fill="#222" stroke="#222" stroke-width="0.15" >rs595469</text>
<polyline points="205.60,352.70 205.60,354.00 205.00,359.80" stroke="#444" stroke-width="0.4" fill="none" stroke-linejoin="round" />
<text transform="translate(206.7,360.6) rotate(-90)" font-size="4.6" text-anchor="end" fill="#222" stroke="#222" stroke-width="0.15" >rs38247259</text>
<polyline points="214.40,352.70 214.40,354.00 213.50,359.80" stroke="#444" stroke-width="0.4" fill="none" stroke-linejoin="round" />
<text transform="translate(215.2,360.6) rotate(-90)" font-size="4.6" text-anchor="end" fill="#222" stroke="#222" stroke-width="0.15" >rs23065571</text>
<polyline points="217.90,352.70 217.90,354.00 218.10,359.80" stroke="#444" stroke-width="0.4" fill="none" stroke-linejoin="round" />
<text transform="translate(219.8,360.6) rotate(-90)" font-size="4.6" text-anchor="end" fill="#222" stroke="#222" stroke-width="0.15" >rs9344</text>
<polyline points="237.30,352.70 237.30,354.00 237.60,359.80" stroke="#444" stroke-width="0.4" fill="none" stroke-linejoin="round" />
<text transform="translate(239.3,360.6) rotate(-90)" font-size="4.6" text-anchor="end" fill="#222" stroke="#222" stroke-width="0.15" >rs67874627</text>
<polyline points="245.50,352.70 245.50,354.00 242.90,359.80" stroke="#444" stroke-width="0.4" fill="none" stroke-linejoin="round" />
<text transform="translate(244.6,360.6) rotate(-90)" font-size="4.6" text-anchor="end" fill="#222" stroke="#222" stroke-width="0.15" >rs6781165</text>
<polyline points="247.10,352.70 247.10,354.00 247.40,359.80" stroke="#444" stroke-width="0.4" fill="none" stroke-linejoin="round" />
<text transform="translate(249.1,360.6) rotate(-90)" font-size="4.6" text-anchor="end" fill="#222" stroke="#222" stroke-width="0.15" >rs117395700</text>
<polyline points="252.20,352.70 252.20,354.00 252.70,359.80" stroke="#444" stroke-width="0.4" fill="none" stroke-linejoin="round" />
<text transform="translate(254.4,360.6) rotate(-90)" font-size="4.6" text-anchor="end" fill="#222" stroke="#222" stroke-width="0.15" >rs7177</text>
<text x="319.4" y="254.4" font-size="14" text-anchor="start" fill="#000" >C</text>
<text x="420.5" y="237.1" font-size="7.0" text-anchor="middle" fill="#222" stroke="#222" stroke-width="0.15" >Primary MM patient samples</text>
<rect x="371.30" y="242.50" width="97.20" height="59.30" fill="#ebebeb" />
<line x1="371.30" y1="299.90" x2="468.50" y2="299.90" stroke="#fff" stroke-width="0.7" />
<line x1="371.30" y1="285.97" x2="468.50" y2="285.97" stroke="#fff" stroke-width="0.7" />
<line x1="371.30" y1="272.05" x2="468.50" y2="272.05" stroke="#fff" stroke-width="0.7" />
<line x1="371.30" y1="258.12" x2="468.50" y2="258.12" stroke="#fff" stroke-width="0.7" />
<line x1="371.30" y1="244.20" x2="468.50" y2="244.20" stroke="#fff" stroke-width="0.7" />
<line x1="371.30" y1="292.94" x2="468.50" y2="292.94" stroke="#fff" stroke-width="0.35" />
<line x1="371.30" y1="279.01" x2="468.50" y2="279.01" stroke="#fff" stroke-width="0.35" />
<line x1="371.30" y1="265.09" x2="468.50" y2="265.09" stroke="#fff" stroke-width="0.35" />
<line x1="371.30" y1="251.16" x2="468.50" y2="251.16" stroke="#fff" stroke-width="0.35" />
<line x1="375.00" y1="242.50" x2="375.00" y2="301.80" stroke="#fff" stroke-width="0.7" />
<line x1="384.70" y1="242.50" x2="384.70" y2="301.80" stroke="#fff" stroke-width="0.7" />
<line x1="394.20" y1="242.50" x2="394.20" y2="301.80" stroke="#fff" stroke-width="0.7" />
<line x1="403.70" y1="242.50" x2="403.70" y2="301.80" stroke="#fff" stroke-width="0.7" />
<line x1="413.30" y1="242.50" x2="413.30" y2="301.80" stroke="#fff" stroke-width="0.7" />
<line x1="422.70" y1="242.50" x2="422.70" y2="301.80" stroke="#fff" stroke-width="0.7" />
<line x1="432.30" y1="242.50" x2="432.30" y2="301.80" stroke="#fff" stroke-width="0.7" />
<line x1="442.00" y1="242.50" x2="442.00" y2="301.80" stroke="#fff" stroke-width="0.7" />
<line x1="451.50" y1="242.50" x2="451.50" y2="301.80" stroke="#fff" stroke-width="0.7" />
<line x1="461.00" y1="242.50" x2="461.00" y2="301.80" stroke="#fff" stroke-width="0.7" />
<rect x="372.75" y="244.20" width="4.50" height="55.70" fill="#5ed0c5" />
<rect x="372.75" y="244.20" width="4.50" height="11.14" fill="#ee6e6a" />
<line x1="375.00" y1="301.80" x2="375.00" y2="303.10" stroke="#555" stroke-width="0.5" />
<rect x="382.45" y="244.20" width="4.50" height="55.70" fill="#5ed0c5" />
<rect x="382.45" y="244.20" width="4.50" height="6.68" fill="#ee6e6a" />
<line x1="384.70" y1="301.80" x2="384.70" y2="303.10" stroke="#555" stroke-width="0.5" />
<rect x="391.95" y="244.20" width="4.50" height="55.70" fill="#5ed0c5" />
<line x1="394.20" y1="301.80" x2="394.20" y2="303.10" stroke="#555" stroke-width="0.5" />
<rect x="401.45" y="244.20" width="4.50" height="55.70" fill="#5ed0c5" />
<rect x="401.45" y="244.20" width="4.50" height="7.24" fill="#ee6e6a" />
<line x1="403.70" y1="301.80" x2="403.70" y2="303.10" stroke="#555" stroke-width="0.5" />
<rect x="411.05" y="244.20" width="4.50" height="55.70" fill="#5ed0c5" />
<line x1="413.30" y1="301.80" x2="413.30" y2="303.10" stroke="#555" stroke-width="0.5" />
<rect x="420.45" y="244.20" width="4.50" height="55.70" fill="#5ed0c5" />
<line x1="422.70" y1="301.80" x2="422.70" y2="303.10" stroke="#555" stroke-width="0.5" />
<rect x="430.05" y="244.20" width="4.50" height="55.70" fill="#5ed0c5" />
<rect x="430.05" y="244.20" width="4.50" height="0.84" fill="#ee6e6a" />
<line x1="432.30" y1="301.80" x2="432.30" y2="303.10" stroke="#555" stroke-width="0.5" />
<rect x="439.75" y="244.20" width="4.50" height="55.70" fill="#5ed0c5" />
<line x1="442.00" y1="301.80" x2="442.00" y2="303.10" stroke="#555" stroke-width="0.5" />
<rect x="449.25" y="244.20" width="4.50" height="55.70" fill="#5ed0c5" />
<line x1="451.50" y1="301.80" x2="451.50" y2="303.10" stroke="#555" stroke-width="0.5" />
<rect x="458.75" y="244.20" width="4.50" height="55.70" fill="#5ed0c5" />
<rect x="458.75" y="244.20" width="4.50" height="0.84" fill="#ee6e6a" />
<line x1="461.00" y1="301.80" x2="461.00" y2="303.10" stroke="#555" stroke-width="0.5" />
<text x="367.9" y="302.5" font-size="7.5" text-anchor="end" fill="#444" stroke="#444" stroke-width="0.15" >0</text>
<line x1="369.50" y1="299.90" x2="371.30" y2="299.90" stroke="#444" stroke-width="0.5" />
<text x="367.9" y="288.6" font-size="7.5" text-anchor="end" fill="#444" stroke="#444" stroke-width="0.15" >25</text>
<line x1="369.50" y1="285.97" x2="371.30" y2="285.97" stroke="#444" stroke-width="0.5" />
<text x="367.9" y="274.6" font-size="7.5" text-anchor="end" fill="#444" stroke="#444" stroke-width="0.15" >50</text>
<line x1="369.50" y1="272.05" x2="371.30" y2="272.05" stroke="#444" stroke-width="0.5" />
<text x="367.9" y="260.7" font-size="7.5" text-anchor="end" fill="#444" stroke="#444" stroke-width="0.15" >75</text>
<line x1="369.50" y1="258.12" x2="371.30" y2="258.12" stroke="#444" stroke-width="0.5" />
<text x="367.9" y="246.8" font-size="7.5" text-anchor="end" fill="#444" stroke="#444" stroke-width="0.15" >100</text>
<line x1="369.50" y1="244.20" x2="371.30" y2="244.20" stroke="#444" stroke-width="0.5" />
<text transform="translate(352.8,275.8) rotate(-90)" font-size="7.0" text-anchor="middle" fill="#222" stroke="#222" stroke-width="0.15" >% of reads</text>
<text x="345.3" y="313.0" font-size="7.1" text-anchor="start" fill="#222" stroke="#222" stroke-width="0.15" >Ref (G)</text>
<text x="345.3" y="319.9" font-size="7.1" text-anchor="start" fill="#222" stroke="#222" stroke-width="0.15" >Alt (A)</text>
<text x="375.0" y="313.0" font-size="6.6" text-anchor="middle" fill="#222" stroke="#222" stroke-width="0.15" >8</text>
<text x="375.0" y="319.9" font-size="6.6" text-anchor="middle" fill="#222" stroke="#222" stroke-width="0.15" >2</text>
<text x="384.7" y="313.0" font-size="6.6" text-anchor="middle" fill="#222" stroke="#222" stroke-width="0.15" >7</text>
<text x="384.7" y="319.9" font-size="6.6" text-anchor="middle" fill="#222" stroke="#222" stroke-width="0.15" >1</text>
<text x="394.2" y="313.0" font-size="6.6" text-anchor="middle" fill="#222" stroke="#222" stroke-width="0.15" >9</text>
<text x="394.2" y="319.9" font-size="6.6" text-anchor="middle" fill="#222" stroke="#222" stroke-width="0.15" >0</text>
<text x="403.7" y="313.0" font-size="6.6" text-anchor="middle" fill="#222" stroke="#222" stroke-width="0.15" >13</text>
<text x="403.7" y="319.9" font-size="6.6" text-anchor="middle" fill="#222" stroke="#222" stroke-width="0.15" >2</text>
<text x="413.3" y="313.0" font-size="6.6" text-anchor="middle" fill="#222" stroke="#222" stroke-width="0.15" >19</text>
<text x="413.3" y="319.9" font-size="6.6" text-anchor="middle" fill="#222" stroke="#222" stroke-width="0.15" >0</text>
<text x="422.7" y="313.0" font-size="6.6" text-anchor="middle" fill="#222" stroke="#222" stroke-width="0.15" >21</text>
<text x="422.7" y="319.9" font-size="6.6" text-anchor="middle" fill="#222" stroke="#222" stroke-width="0.15" >0</text>
<text x="432.3" y="313.0" font-size="6.6" text-anchor="middle" fill="#222" stroke="#222" stroke-width="0.15" >64</text>
<text x="432.3" y="319.9" font-size="6.6" text-anchor="middle" fill="#222" stroke="#222" stroke-width="0.15" >1</text>
<text x="442.0" y="313.0" font-size="6.6" text-anchor="middle" fill="#222" stroke="#222" stroke-width="0.15" >75</text>
<text x="442.0" y="319.9" font-size="6.6" text-anchor="middle" fill="#222" stroke="#222" stroke-width="0.15" >0</text>
<text x="451.5" y="313.0" font-size="6.6" text-anchor="middle" fill="#222" stroke="#222" stroke-width="0.15" >50</text>
<text x="451.5" y="319.9" font-size="6.6" text-anchor="middle" fill="#222" stroke="#222" stroke-width="0.15" >0</text>
<text x="461.0" y="313.0" font-size="6.6" text-anchor="middle" fill="#222" stroke="#222" stroke-width="0.15" >66</text>
<text x="461.0" y="319.9" font-size="6.6" text-anchor="middle" fill="#222" stroke="#222" stroke-width="0.15" >1</text>
<text transform="translate(377.6,322.0) rotate(-90)" font-size="7.6" text-anchor="end" fill="#222" stroke="#222" stroke-width="0.15" >GM12878.<tspan fill="#e8232a">PAX5</tspan></text>
<text transform="translate(387.3,322.0) rotate(-90)" font-size="7.6" text-anchor="end" fill="#222" stroke="#222" stroke-width="0.15" >N23C.H3K4me3</text>
<text transform="translate(396.8,322.0) rotate(-90)" font-size="7.6" text-anchor="end" fill="#222" stroke="#222" stroke-width="0.15" >N39C.H3K4me3</text>
<text transform="translate(406.3,322.0) rotate(-90)" font-size="7.6" text-anchor="end" fill="#222" stroke="#222" stroke-width="0.15" >N39C.H3K4me1</text>
<text transform="translate(415.9,322.0) rotate(-90)" font-size="7.6" text-anchor="end" fill="#222" stroke="#222" stroke-width="0.15" >N23C.H3K27ac</text>
<text transform="translate(425.3,322.0) rotate(-90)" font-size="7.6" text-anchor="end" fill="#222" stroke="#222" stroke-width="0.15" >N39C.H3K27ac</text>
<text transform="translate(434.9,322.0) rotate(-90)" font-size="7.6" text-anchor="end" fill="#222" stroke="#222" stroke-width="0.15" >N23C.ATAC-seq</text>
<text transform="translate(444.6,322.0) rotate(-90)" font-size="7.6" text-anchor="end" fill="#222" stroke="#222" stroke-width="0.15" >N25.ATAC-seq</text>
<text transform="translate(454.1,322.0) rotate(-90)" font-size="7.6" text-anchor="end" fill="#222" stroke="#222" stroke-width="0.15" >N59b.ATAC-seq</text>
<text transform="translate(463.6,322.0) rotate(-90)" font-size="7.6" text-anchor="end" fill="#222" stroke="#222" stroke-width="0.15" >N63b.ATAC-seq</text>
<text x="471.0" y="246.6" font-size="6.8" text-anchor="start" fill="#222" stroke="#222" stroke-width="0.15" >Allele</text>
<rect x="471.10" y="249.20" width="8.60" height="4.20" fill="#5ed0c5" />
<rect x="471.10" y="255.50" width="8.60" height="4.30" fill="#ee6e6a" />
<text x="481.0" y="253.8" font-size="6.6" text-anchor="start" fill="#222" stroke="#222" stroke-width="0.15" >G</text>
<text x="481.0" y="260.2" font-size="6.6" text-anchor="start" fill="#222" stroke="#222" stroke-width="0.15" >A</text>
<text x="319.1" y="13.5" font-size="14" text-anchor="start" fill="#000" >D</text>
<text x="417.6" y="16.0" font-size="7.0" text-anchor="middle" fill="#222" stroke="#222" stroke-width="0.15" >Primary MM patient samples</text>
<rect x="354.70" y="20.50" width="138.90" height="37.80" fill="#ebebeb" />
<line x1="366.93" y1="20.50" x2="366.93" y2="58.30" stroke="#f7f7f7" stroke-width="0.4" />
<line x1="379.59" y1="20.50" x2="379.59" y2="58.30" stroke="#f7f7f7" stroke-width="0.4" />
<line x1="392.25" y1="20.50" x2="392.25" y2="58.30" stroke="#f7f7f7" stroke-width="0.4" />
<line x1="404.91" y1="20.50" x2="404.91" y2="58.30" stroke="#f7f7f7" stroke-width="0.4" />
<line x1="417.57" y1="20.50" x2="417.57" y2="58.30" stroke="#f7f7f7" stroke-width="0.4" />
<line x1="430.23" y1="20.50" x2="430.23" y2="58.30" stroke="#f7f7f7" stroke-width="0.4" />
<line x1="442.89" y1="20.50" x2="442.89" y2="58.30" stroke="#f7f7f7" stroke-width="0.4" />
<line x1="455.55" y1="20.50" x2="455.55" y2="58.30" stroke="#f7f7f7" stroke-width="0.4" />
<line x1="468.21" y1="20.50" x2="468.21" y2="58.30" stroke="#f7f7f7" stroke-width="0.4" />
<line x1="480.87" y1="20.50" x2="480.87" y2="58.30" stroke="#f7f7f7" stroke-width="0.4" />
<line x1="354.70" y1="51.00" x2="493.60" y2="51.00" stroke="#f7f7f7" stroke-width="0.4" />
<line x1="354.70" y1="39.80" x2="493.60" y2="39.80" stroke="#f7f7f7" stroke-width="0.4" />
<line x1="354.70" y1="28.60" x2="493.60" y2="28.60" stroke="#f7f7f7" stroke-width="0.4" />
<line x1="360.60" y1="20.50" x2="360.60" y2="58.30" stroke="#ffffff" stroke-width="0.7" />
<line x1="360.60" y1="58.30" x2="360.60" y2="59.60" stroke="#555" stroke-width="0.5" />
<line x1="373.26" y1="20.50" x2="373.26" y2="58.30" stroke="#ffffff" stroke-width="0.7" />
<line x1="373.26" y1="58.30" x2="373.26" y2="59.60" stroke="#555" stroke-width="0.5" />
<line x1="385.92" y1="20.50" x2="385.92" y2="58.30" stroke="#ffffff" stroke-width="0.7" />
<line x1="385.92" y1="58.30" x2="385.92" y2="59.60" stroke="#555" stroke-width="0.5" />
<line x1="398.58" y1="20.50" x2="398.58" y2="58.30" stroke="#ffffff" stroke-width="0.7" />
<line x1="398.58" y1="58.30" x2="398.58" y2="59.60" stroke="#555" stroke-width="0.5" />
<line x1="411.24" y1="20.50" x2="411.24" y2="58.30" stroke="#ffffff" stroke-width="0.7" />
<line x1="411.24" y1="58.30" x2="411.24" y2="59.60" stroke="#555" stroke-width="0.5" />
<line x1="423.90" y1="20.50" x2="423.90" y2="58.30" stroke="#ffffff" stroke-width="0.7" />
<line x1="423.90" y1="58.30" x2="423.90" y2="59.60" stroke="#555" stroke-width="0.5" />
<line x1="436.56" y1="20.50" x2="436.56" y2="58.30" stroke="#ffffff" stroke-width="0.7" />
<line x1="436.56" y1="58.30" x2="436.56" y2="59.60" stroke="#555" stroke-width="0.5" />
<line x1="449.22" y1="20.50" x2="449.22" y2="58.30" stroke="#ffffff" stroke-width="0.7" />
<line x1="449.22" y1="58.30" x2="449.22" y2="59.60" stroke="#555" stroke-width="0.5" />
<line x1="461.88" y1="20.50" x2="461.88" y2="58.30" stroke="#ffffff" stroke-width="0.7" />
<line x1="461.88" y1="58.30" x2="461.88" y2="59.60" stroke="#555" stroke-width="0.5" />
<line x1="474.54" y1="20.50" x2="474.54" y2="58.30" stroke="#ffffff" stroke-width="0.7" />
<line x1="474.54" y1="58.30" x2="474.54" y2="59.60" stroke="#555" stroke-width="0.5" />
<line x1="487.20" y1="20.50" x2="487.20" y2="58.30" stroke="#ffffff" stroke-width="0.7" />
<line x1="487.20" y1="58.30" x2="487.20" y2="59.60" stroke="#555" stroke-width="0.5" />
<line x1="354.70" y1="56.60" x2="493.60" y2="56.60" stroke="#ffffff" stroke-width="0.7" />
<line x1="353.20" y1="56.60" x2="354.70" y2="56.60" stroke="#555" stroke-width="0.5" />
<text x="351.8" y="58.9" font-size="6.4" text-anchor="end" fill="#333" stroke="#333" stroke-width="0.15" >0</text>
<line x1="354.70" y1="45.40" x2="493.60" y2="45.40" stroke="#ffffff" stroke-width="0.7" />
<line x1="353.20" y1="45.40" x2="354.70" y2="45.40" stroke="#555" stroke-width="0.5" />
<text x="351.8" y="47.7" font-size="6.4" text-anchor="end" fill="#333" stroke="#333" stroke-width="0.15" >1</text>
<line x1="354.70" y1="34.20" x2="493.60" y2="34.20" stroke="#ffffff" stroke-width="0.7" />
<line x1="353.20" y1="34.20" x2="354.70" y2="34.20" stroke="#555" stroke-width="0.5" />
<text x="351.8" y="36.5" font-size="6.4" text-anchor="end" fill="#333" stroke="#333" stroke-width="0.15" >2</text>
<line x1="354.70" y1="23.00" x2="493.60" y2="23.00" stroke="#ffffff" stroke-width="0.7" />
<line x1="353.20" y1="23.00" x2="354.70" y2="23.00" stroke="#555" stroke-width="0.5" />
<text x="351.8" y="25.3" font-size="6.4" text-anchor="end" fill="#333" stroke="#333" stroke-width="0.15" >3</text>
<text transform="translate(338.6,40.0) rotate(-90)" font-size="6.6" text-anchor="middle" fill="#222" stroke="#222" stroke-width="0.15" >RPM</text>
<polyline points="362.49,55.45 364.85,53.47 368.80,53.08 372.74,52.49 375.69,50.52 377.66,42.64 379.64,49.53 381.61,47.56 384.56,48.55 385.55,39.68 387.52,35.74 389.49,36.72 391.46,30.81 392.45,25.88 394.02,33.77 395.40,31.80 397.37,28.84 398.75,32.78 400.33,35.74 402.30,31.80 404.27,33.77 405.85,36.72 407.23,34.75 409.20,38.69 411.17,37.71 413.14,41.65 415.11,43.62 417.08,39.68 419.05,37.71 421.02,41.65 422.99,43.62 424.37,39.68 425.95,36.72 427.53,41.65 428.91,40.66 430.88,45.59 432.85,48.55 434.82,46.58 436.79,49.53 438.76,48.55 440.73,46.58 442.70,49.53 445.66,51.50 447.63,54.46 449.60,52.49 451.57,53.47 453.54,54.46 457.48,53.47 461.42,52.49 465.37,53.08 469.31,54.46 473.25,55.45 476.21,54.46 479.16,55.45 483.10,55.45 486.65,55.05" stroke="#40cfc0" stroke-width="0.9" fill="none" stroke-linejoin="round" />
<polyline points="362.49,55.45 366.82,53.47 372.74,52.49 376.68,51.50 378.65,49.53 380.62,51.50 382.59,49.53 384.56,50.52 386.14,43.62 387.52,49.53 389.49,47.56 391.46,48.55 393.43,47.17 395.40,48.55 397.37,47.56 400.33,49.53 403.29,50.52 406.24,49.93 409.20,51.50 412.15,50.52 415.11,51.90 418.07,49.53 422.01,52.49 425.95,50.52 428.91,53.47 432.85,54.46 437.77,53.87 441.72,53.87 445.66,53.47 449.60,54.46 457.48,54.46 465.37,55.05 473.25,55.05 481.13,55.05 486.65,55.05" stroke="#ec5a50" stroke-width="0.9" fill="none" stroke-linejoin="round" />
<polygon points="424.40,33.20 428.40,33.20 426.40,36.60" fill="#111" />
<text x="457.6" y="28.0" font-size="6.7" text-anchor="start" fill="#222" stroke="#222" stroke-width="0.15" >H3K27ac</text>
<text x="457.6" y="35.1" font-size="6.7" text-anchor="start" fill="#222" stroke="#222" stroke-width="0.15" >(G, n=6)</text>
<text x="457.6" y="42.2" font-size="6.7" text-anchor="start" fill="#222" stroke="#222" stroke-width="0.15" >(A, n=2)</text>
<rect x="354.70" y="64.80" width="138.90" height="37.40" fill="#ebebeb" />
<line x1="366.93" y1="64.80" x2="366.93" y2="102.20" stroke="#f7f7f7" stroke-width="0.4" />
<line x1="379.59" y1="64.80" x2="379.59" y2="102.20" stroke="#f7f7f7" stroke-width="0.4" />
<line x1="392.25" y1="64.80" x2="392.25" y2="102.20" stroke="#f7f7f7" stroke-width="0.4" />
<line x1="404.91" y1="64.80" x2="404.91" y2="102.20" stroke="#f7f7f7" stroke-width="0.4" />
<line x1="417.57" y1="64.80" x2="417.57" y2="102.20" stroke="#f7f7f7" stroke-width="0.4" />
<line x1="430.23" y1="64.80" x2="430.23" y2="102.20" stroke="#f7f7f7" stroke-width="0.4" />
<line x1="442.89" y1="64.80" x2="442.89" y2="102.20" stroke="#f7f7f7" stroke-width="0.4" />
<line x1="455.55" y1="64.80" x2="455.55" y2="102.20" stroke="#f7f7f7" stroke-width="0.4" />
<line x1="468.21" y1="64.80" x2="468.21" y2="102.20" stroke="#f7f7f7" stroke-width="0.4" />
<line x1="480.87" y1="64.80" x2="480.87" y2="102.20" stroke="#f7f7f7" stroke-width="0.4" />
<line x1="354.70" y1="91.83" x2="493.60" y2="91.83" stroke="#f7f7f7" stroke-width="0.4" />
<line x1="354.70" y1="75.08" x2="493.60" y2="75.08" stroke="#f7f7f7" stroke-width="0.4" />
<line x1="360.60" y1="64.80" x2="360.60" y2="102.20" stroke="#ffffff" stroke-width="0.7" />
<line x1="360.60" y1="102.20" x2="360.60" y2="103.50" stroke="#555" stroke-width="0.5" />
<line x1="373.26" y1="64.80" x2="373.26" y2="102.20" stroke="#ffffff" stroke-width="0.7" />
<line x1="373.26" y1="102.20" x2="373.26" y2="103.50" stroke="#555" stroke-width="0.5" />
<line x1="385.92" y1="64.80" x2="385.92" y2="102.20" stroke="#ffffff" stroke-width="0.7" />
<line x1="385.92" y1="102.20" x2="385.92" y2="103.50" stroke="#555" stroke-width="0.5" />
<line x1="398.58" y1="64.80" x2="398.58" y2="102.20" stroke="#ffffff" stroke-width="0.7" />
<line x1="398.58" y1="102.20" x2="398.58" y2="103.50" stroke="#555" stroke-width="0.5" />
<line x1="411.24" y1="64.80" x2="411.24" y2="102.20" stroke="#ffffff" stroke-width="0.7" />
<line x1="411.24" y1="102.20" x2="411.24" y2="103.50" stroke="#555" stroke-width="0.5" />
<line x1="423.90" y1="64.80" x2="423.90" y2="102.20" stroke="#ffffff" stroke-width="0.7" />
<line x1="423.90" y1="102.20" x2="423.90" y2="103.50" stroke="#555" stroke-width="0.5" />
<line x1="436.56" y1="64.80" x2="436.56" y2="102.20" stroke="#ffffff" stroke-width="0.7" />
<line x1="436.56" y1="102.20" x2="436.56" y2="103.50" stroke="#555" stroke-width="0.5" />
<line x1="449.22" y1="64.80" x2="449.22" y2="102.20" stroke="#ffffff" stroke-width="0.7" />
<line x1="449.22" y1="102.20" x2="449.22" y2="103.50" stroke="#555" stroke-width="0.5" />
<line x1="461.88" y1="64.80" x2="461.88" y2="102.20" stroke="#ffffff" stroke-width="0.7" />
<line x1="461.88" y1="102.20" x2="461.88" y2="103.50" stroke="#555" stroke-width="0.5" />
<line x1="474.54" y1="64.80" x2="474.54" y2="102.20" stroke="#ffffff" stroke-width="0.7" />
<line x1="474.54" y1="102.20" x2="474.54" y2="103.50" stroke="#555" stroke-width="0.5" />
<line x1="487.20" y1="64.80" x2="487.20" y2="102.20" stroke="#ffffff" stroke-width="0.7" />
<line x1="487.20" y1="102.20" x2="487.20" y2="103.50" stroke="#555" stroke-width="0.5" />
<line x1="354.70" y1="100.20" x2="493.60" y2="100.20" stroke="#ffffff" stroke-width="0.7" />
<line x1="353.20" y1="100.20" x2="354.70" y2="100.20" stroke="#555" stroke-width="0.5" />
<text x="351.8" y="102.5" font-size="6.4" text-anchor="end" fill="#333" stroke="#333" stroke-width="0.15" >0</text>
<line x1="354.70" y1="83.45" x2="493.60" y2="83.45" stroke="#ffffff" stroke-width="0.7" />
<line x1="353.20" y1="83.45" x2="354.70" y2="83.45" stroke="#555" stroke-width="0.5" />
<text x="351.8" y="85.8" font-size="6.4" text-anchor="end" fill="#333" stroke="#333" stroke-width="0.15" >5</text>
<line x1="354.70" y1="66.70" x2="493.60" y2="66.70" stroke="#ffffff" stroke-width="0.7" />
<line x1="353.20" y1="66.70" x2="354.70" y2="66.70" stroke="#555" stroke-width="0.5" />
<text x="351.8" y="69.0" font-size="6.4" text-anchor="end" fill="#333" stroke="#333" stroke-width="0.15" >10</text>
<text transform="translate(338.6,84.6) rotate(-90)" font-size="6.6" text-anchor="middle" fill="#222" stroke="#222" stroke-width="0.15" >RPM</text>
<polyline points="362.49,99.05 365.84,94.52 369.78,93.53 372.74,90.58 374.71,92.55 376.68,89.59 378.65,91.56 380.62,95.50 382.59,87.62 384.56,92.55 386.53,79.74 389.49,73.82 390.87,77.77 392.45,69.49 394.42,76.78 396.39,70.87 398.36,75.80 399.93,71.85 401.91,79.74 404.27,81.71 406.64,81.71 409.20,87.62 412.15,93.53 415.11,97.08 420.04,98.07 425.95,97.47 429.89,97.87 433.83,98.46 439.75,98.46 445.66,98.46 449.60,99.05 457.48,99.05 465.37,99.05 473.25,99.05 481.13,99.05 486.65,99.45" stroke="#40cfc0" stroke-width="0.9" fill="none" stroke-linejoin="round" />
<polyline points="362.49,99.05 365.84,94.52 369.78,93.53 373.72,91.56 375.69,94.52 378.65,89.59 380.62,96.49 382.59,88.61 384.56,93.53 386.53,83.68 388.50,81.71 390.47,84.66 392.45,78.16 394.42,85.65 396.39,79.74 398.36,89.59 400.33,92.55 404.27,93.53 408.21,95.11 412.15,97.08 418.07,98.46 425.95,98.46 433.83,98.85 441.72,99.05 449.60,99.05 457.48,99.45 465.37,99.05 473.25,99.45 481.13,99.05 486.65,99.45" stroke="#ec5a50" stroke-width="0.9" fill="none" stroke-linejoin="round" />
<polygon points="424.40,91.00 428.40,91.00 426.40,94.40" fill="#111" />
<text x="425.5" y="89.5" font-size="6.6" text-anchor="middle" fill="#222" stroke="#222" stroke-width="0.15" >rs9344</text>
<text x="457.6" y="72.0" font-size="6.7" text-anchor="start" fill="#222" stroke="#222" stroke-width="0.15" >H3K4me3</text>
<text x="457.6" y="79.1" font-size="6.7" text-anchor="start" fill="#222" stroke="#222" stroke-width="0.15" >(G, n=6)</text>
<text x="457.6" y="86.2" font-size="6.7" text-anchor="start" fill="#222" stroke="#222" stroke-width="0.15" >(A, n=2)</text>
<rect x="354.70" y="107.30" width="138.90" height="38.70" fill="#ebebeb" />
<line x1="366.93" y1="107.30" x2="366.93" y2="146.00" stroke="#f7f7f7" stroke-width="0.4" />
<line x1="379.59" y1="107.30" x2="379.59" y2="146.00" stroke="#f7f7f7" stroke-width="0.4" />
<line x1="392.25" y1="107.30" x2="392.25" y2="146.00" stroke="#f7f7f7" stroke-width="0.4" />
<line x1="404.91" y1="107.30" x2="404.91" y2="146.00" stroke="#f7f7f7" stroke-width="0.4" />
<line x1="417.57" y1="107.30" x2="417.57" y2="146.00" stroke="#f7f7f7" stroke-width="0.4" />
<line x1="430.23" y1="107.30" x2="430.23" y2="146.00" stroke="#f7f7f7" stroke-width="0.4" />
<line x1="442.89" y1="107.30" x2="442.89" y2="146.00" stroke="#f7f7f7" stroke-width="0.4" />
<line x1="455.55" y1="107.30" x2="455.55" y2="146.00" stroke="#f7f7f7" stroke-width="0.4" />
<line x1="468.21" y1="107.30" x2="468.21" y2="146.00" stroke="#f7f7f7" stroke-width="0.4" />
<line x1="480.87" y1="107.30" x2="480.87" y2="146.00" stroke="#f7f7f7" stroke-width="0.4" />
<line x1="354.70" y1="135.32" x2="493.60" y2="135.32" stroke="#f7f7f7" stroke-width="0.4" />
<line x1="354.70" y1="118.56" x2="493.60" y2="118.56" stroke="#f7f7f7" stroke-width="0.4" />
<line x1="360.60" y1="107.30" x2="360.60" y2="146.00" stroke="#ffffff" stroke-width="0.7" />
<line x1="360.60" y1="146.00" x2="360.60" y2="147.30" stroke="#555" stroke-width="0.5" />
<line x1="373.26" y1="107.30" x2="373.26" y2="146.00" stroke="#ffffff" stroke-width="0.7" />
<line x1="373.26" y1="146.00" x2="373.26" y2="147.30" stroke="#555" stroke-width="0.5" />
<line x1="385.92" y1="107.30" x2="385.92" y2="146.00" stroke="#ffffff" stroke-width="0.7" />
<line x1="385.92" y1="146.00" x2="385.92" y2="147.30" stroke="#555" stroke-width="0.5" />
<line x1="398.58" y1="107.30" x2="398.58" y2="146.00" stroke="#ffffff" stroke-width="0.7" />
<line x1="398.58" y1="146.00" x2="398.58" y2="147.30" stroke="#555" stroke-width="0.5" />
<line x1="411.24" y1="107.30" x2="411.24" y2="146.00" stroke="#ffffff" stroke-width="0.7" />
<line x1="411.24" y1="146.00" x2="411.24" y2="147.30" stroke="#555" stroke-width="0.5" />
<line x1="423.90" y1="107.30" x2="423.90" y2="146.00" stroke="#ffffff" stroke-width="0.7" />
<line x1="423.90" y1="146.00" x2="423.90" y2="147.30" stroke="#555" stroke-width="0.5" />
<line x1="436.56" y1="107.30" x2="436.56" y2="146.00" stroke="#ffffff" stroke-width="0.7" />
<line x1="436.56" y1="146.00" x2="436.56" y2="147.30" stroke="#555" stroke-width="0.5" />
<line x1="449.22" y1="107.30" x2="449.22" y2="146.00" stroke="#ffffff" stroke-width="0.7" />
<line x1="449.22" y1="146.00" x2="449.22" y2="147.30" stroke="#555" stroke-width="0.5" />
<line x1="461.88" y1="107.30" x2="461.88" y2="146.00" stroke="#ffffff" stroke-width="0.7" />
<line x1="461.88" y1="146.00" x2="461.88" y2="147.30" stroke="#555" stroke-width="0.5" />
<line x1="474.54" y1="107.30" x2="474.54" y2="146.00" stroke="#ffffff" stroke-width="0.7" />
<line x1="474.54" y1="146.00" x2="474.54" y2="147.30" stroke="#555" stroke-width="0.5" />
<line x1="487.20" y1="107.30" x2="487.20" y2="146.00" stroke="#ffffff" stroke-width="0.7" />
<line x1="487.20" y1="146.00" x2="487.20" y2="147.30" stroke="#555" stroke-width="0.5" />
<line x1="354.70" y1="143.70" x2="493.60" y2="143.70" stroke="#ffffff" stroke-width="0.7" />
<line x1="353.20" y1="143.70" x2="354.70" y2="143.70" stroke="#555" stroke-width="0.5" />
<text x="352.0" y="146.0" font-size="6.4" text-anchor="end" fill="#333" stroke="#333" stroke-width="0.15" >0.0</text>
<line x1="354.70" y1="126.94" x2="493.60" y2="126.94" stroke="#ffffff" stroke-width="0.7" />
<line x1="353.20" y1="126.94" x2="354.70" y2="126.94" stroke="#555" stroke-width="0.5" />
<text x="352.0" y="129.2" font-size="6.4" text-anchor="end" fill="#333" stroke="#333" stroke-width="0.15" >0.4</text>
<line x1="354.70" y1="110.18" x2="493.60" y2="110.18" stroke="#ffffff" stroke-width="0.7" />
<line x1="353.20" y1="110.18" x2="354.70" y2="110.18" stroke="#555" stroke-width="0.5" />
<text x="352.0" y="112.5" font-size="6.4" text-anchor="end" fill="#333" stroke="#333" stroke-width="0.15" >0.8</text>
<text transform="translate(338.6,128.0) rotate(-90)" font-size="6.6" text-anchor="middle" fill="#222" stroke="#222" stroke-width="0.15" >RPM</text>
<polyline points="362.49,132.59 364.85,123.72 366.82,121.75 368.80,124.71 370.77,123.72 372.74,126.68 374.71,127.66 376.68,124.71 378.65,127.66 380.62,137.52 382.59,132.59 384.56,128.65 386.53,125.69 388.50,126.68 390.47,120.77 392.45,128.65 394.42,132.59 396.39,134.56 398.36,130.62 400.33,126.68 402.30,124.71 404.27,119.78 406.24,116.82 408.21,118.80 410.18,116.82 412.15,118.80 414.12,123.72 416.10,126.68 418.07,123.72 420.04,124.71 422.01,121.75 423.98,122.74 425.95,120.77 427.92,124.71 429.89,119.78 431.86,113.87 433.83,122.74 435.80,117.81 437.77,118.80 439.75,116.82 441.72,117.81 443.69,115.84 445.66,114.85 446.64,130.62 448.61,131.61 451.57,129.64 453.54,134.56 455.51,136.53 457.48,133.58 461.42,130.62 463.40,134.56 465.37,135.55 469.31,134.56 473.25,137.52 477.19,136.53 481.13,135.55 485.07,139.49 486.65,136.53" stroke="#40cfc0" stroke-width="0.9" fill="none" stroke-linejoin="round" />
<polyline points="362.49,134.56 364.85,128.65 366.82,129.64 368.80,126.68 369.78,117.81 371.75,120.77 373.72,118.80 376.68,115.84 378.65,121.75 379.64,131.61 381.61,126.68 382.59,123.72 384.56,129.64 385.55,124.71 387.52,122.74 389.49,126.68 391.46,134.56 393.43,135.55 395.40,130.62 397.37,133.58 399.34,137.52 401.31,126.68 403.29,112.88 405.26,116.82 407.23,119.78 409.20,113.87 411.17,112.88 414.12,117.81 416.10,127.66 418.07,130.62 420.04,124.71 422.01,126.68 422.99,133.58 423.98,134.56 425.95,126.68 427.92,121.75 429.89,126.68 431.86,130.62 433.83,125.69 435.80,129.64 437.77,124.71 439.75,132.59 441.72,123.72 443.69,128.65 445.66,123.72 446.64,138.50 448.61,139.49 450.59,134.56 453.54,138.50 457.48,136.53 461.42,140.47 465.37,137.52 469.31,139.49 473.25,138.50 477.19,137.52 481.13,136.53 485.07,141.46 486.65,136.53" stroke="#ec5a50" stroke-width="0.9" fill="none" stroke-linejoin="round" />
<polygon points="424.40,114.20 428.40,114.20 426.40,117.60" fill="#111" />
<text x="457.6" y="114.8" font-size="6.7" text-anchor="start" fill="#222" stroke="#222" stroke-width="0.15" >H3K4me1</text>
<text x="457.6" y="121.9" font-size="6.7" text-anchor="start" fill="#222" stroke="#222" stroke-width="0.15" >(G, n=6)</text>
<text x="457.6" y="129.0" font-size="6.7" text-anchor="start" fill="#222" stroke="#222" stroke-width="0.15" >(A, n=2)</text>
<rect x="354.70" y="152.50" width="138.90" height="37.30" fill="#ebebeb" />
<line x1="366.93" y1="152.50" x2="366.93" y2="189.80" stroke="#f7f7f7" stroke-width="0.4" />
<line x1="379.59" y1="152.50" x2="379.59" y2="189.80" stroke="#f7f7f7" stroke-width="0.4" />
<line x1="392.25" y1="152.50" x2="392.25" y2="189.80" stroke="#f7f7f7" stroke-width="0.4" />
<line x1="404.91" y1="152.50" x2="404.91" y2="189.80" stroke="#f7f7f7" stroke-width="0.4" />
<line x1="417.57" y1="152.50" x2="417.57" y2="189.80" stroke="#f7f7f7" stroke-width="0.4" />
<line x1="430.23" y1="152.50" x2="430.23" y2="189.80" stroke="#f7f7f7" stroke-width="0.4" />
<line x1="442.89" y1="152.50" x2="442.89" y2="189.80" stroke="#f7f7f7" stroke-width="0.4" />
<line x1="455.55" y1="152.50" x2="455.55" y2="189.80" stroke="#f7f7f7" stroke-width="0.4" />
<line x1="468.21" y1="152.50" x2="468.21" y2="189.80" stroke="#f7f7f7" stroke-width="0.4" />
<line x1="480.87" y1="152.50" x2="480.87" y2="189.80" stroke="#f7f7f7" stroke-width="0.4" />
<line x1="354.70" y1="180.73" x2="493.60" y2="180.73" stroke="#f7f7f7" stroke-width="0.4" />
<line x1="354.70" y1="167.38" x2="493.60" y2="167.38" stroke="#f7f7f7" stroke-width="0.4" />
<line x1="360.60" y1="152.50" x2="360.60" y2="189.80" stroke="#ffffff" stroke-width="0.7" />
<line x1="360.60" y1="189.80" x2="360.60" y2="191.10" stroke="#555" stroke-width="0.5" />
<line x1="373.26" y1="152.50" x2="373.26" y2="189.80" stroke="#ffffff" stroke-width="0.7" />
<line x1="373.26" y1="189.80" x2="373.26" y2="191.10" stroke="#555" stroke-width="0.5" />
<line x1="385.92" y1="152.50" x2="385.92" y2="189.80" stroke="#ffffff" stroke-width="0.7" />
<line x1="385.92" y1="189.80" x2="385.92" y2="191.10" stroke="#555" stroke-width="0.5" />
<line x1="398.58" y1="152.50" x2="398.58" y2="189.80" stroke="#ffffff" stroke-width="0.7" />
<line x1="398.58" y1="189.80" x2="398.58" y2="191.10" stroke="#555" stroke-width="0.5" />
<line x1="411.24" y1="152.50" x2="411.24" y2="189.80" stroke="#ffffff" stroke-width="0.7" />
<line x1="411.24" y1="189.80" x2="411.24" y2="191.10" stroke="#555" stroke-width="0.5" />
<line x1="423.90" y1="152.50" x2="423.90" y2="189.80" stroke="#ffffff" stroke-width="0.7" />
<line x1="423.90" y1="189.80" x2="423.90" y2="191.10" stroke="#555" stroke-width="0.5" />
<line x1="436.56" y1="152.50" x2="436.56" y2="189.80" stroke="#ffffff" stroke-width="0.7" />
<line x1="436.56" y1="189.80" x2="436.56" y2="191.10" stroke="#555" stroke-width="0.5" />
<line x1="449.22" y1="152.50" x2="449.22" y2="189.80" stroke="#ffffff" stroke-width="0.7" />
<line x1="449.22" y1="189.80" x2="449.22" y2="191.10" stroke="#555" stroke-width="0.5" />
<line x1="461.88" y1="152.50" x2="461.88" y2="189.80" stroke="#ffffff" stroke-width="0.7" />
<line x1="461.88" y1="189.80" x2="461.88" y2="191.10" stroke="#555" stroke-width="0.5" />
<line x1="474.54" y1="152.50" x2="474.54" y2="189.80" stroke="#ffffff" stroke-width="0.7" />
<line x1="474.54" y1="189.80" x2="474.54" y2="191.10" stroke="#555" stroke-width="0.5" />
<line x1="487.20" y1="152.50" x2="487.20" y2="189.80" stroke="#ffffff" stroke-width="0.7" />
<line x1="487.20" y1="189.80" x2="487.20" y2="191.10" stroke="#555" stroke-width="0.5" />
<line x1="354.70" y1="187.40" x2="493.60" y2="187.40" stroke="#ffffff" stroke-width="0.7" />
<line x1="353.20" y1="187.40" x2="354.70" y2="187.40" stroke="#555" stroke-width="0.5" />
<text x="351.8" y="189.7" font-size="6.4" text-anchor="end" fill="#333" stroke="#333" stroke-width="0.15" >0</text>
<line x1="354.70" y1="174.05" x2="493.60" y2="174.05" stroke="#ffffff" stroke-width="0.7" />
<line x1="353.20" y1="174.05" x2="354.70" y2="174.05" stroke="#555" stroke-width="0.5" />
<text x="351.8" y="176.4" font-size="6.4" text-anchor="end" fill="#333" stroke="#333" stroke-width="0.15" >2</text>
<line x1="354.70" y1="160.70" x2="493.60" y2="160.70" stroke="#ffffff" stroke-width="0.7" />
<line x1="353.20" y1="160.70" x2="354.70" y2="160.70" stroke="#555" stroke-width="0.5" />
<text x="351.8" y="163.0" font-size="6.4" text-anchor="end" fill="#333" stroke="#333" stroke-width="0.15" >4</text>
<text transform="translate(338.6,174.5) rotate(-90)" font-size="6.6" text-anchor="middle" fill="#222" stroke="#222" stroke-width="0.15" >RPM</text>
<polyline points="362.49,186.46 364.46,182.52 366.43,183.90 368.80,185.08 372.74,183.90 374.71,181.53 377.07,174.04 379.04,182.52 380.62,184.49 383.58,181.53 386.14,173.06 387.52,179.56 389.49,185.08 392.45,183.90 395.40,181.14 397.37,175.62 399.93,170.69 401.31,176.61 403.29,179.56 405.85,174.64 408.21,178.58 410.18,175.62 412.15,173.26 414.12,175.23 416.10,178.58 418.07,177.59 420.04,175.62 422.99,177.20 424.96,179.56 427.92,183.50 429.89,185.08 433.83,184.49 437.77,183.90 439.75,183.11 441.72,183.90 444.67,185.47 447.63,186.46 449.60,185.87 453.54,185.87 457.48,185.08 461.42,181.53 464.38,179.17 466.35,179.96 469.31,179.17 471.28,181.14 473.25,182.52 477.19,184.49 481.13,185.47 484.09,186.26 486.65,185.87" stroke="#40cfc0" stroke-width="0.9" fill="none" stroke-linejoin="round" />
<polyline points="362.49,186.46 364.46,181.53 366.43,183.50 368.80,185.08 372.74,183.50 374.71,179.56 377.07,169.71 379.04,181.53 380.62,184.49 383.58,180.55 386.14,164.78 387.52,177.59 389.49,185.08 392.45,183.50 395.40,179.56 397.37,169.71 399.93,157.88 401.31,171.68 403.29,181.53 405.85,178.58 408.21,179.56 410.18,174.64 412.15,173.65 414.12,174.64 416.10,176.61 418.07,176.61 420.04,175.62 422.99,176.61 424.96,178.58 427.92,182.52 429.89,184.49 433.83,184.49 437.77,183.50 439.75,182.52 441.72,183.50 444.67,185.47 447.63,186.46 449.60,185.47 453.54,185.87 457.48,185.47 461.42,182.52 464.38,179.56 466.35,180.55 469.31,179.56 471.28,181.53 473.25,182.52 477.19,184.49 481.13,185.47 484.09,186.46 486.65,185.87" stroke="#ec5a50" stroke-width="0.9" fill="none" stroke-linejoin="round" />
<polygon points="424.40,173.40 428.40,173.40 426.40,176.80" fill="#111" />
<text x="457.6" y="159.3" font-size="6.7" text-anchor="start" fill="#222" stroke="#222" stroke-width="0.15" >ATAC-seq</text>
<text x="457.6" y="166.4" font-size="6.7" text-anchor="start" fill="#222" stroke="#222" stroke-width="0.15" >(G, n=25)</text>
<text x="457.6" y="173.5" font-size="6.7" text-anchor="start" fill="#222" stroke="#222" stroke-width="0.15" >(A, n=3)</text>
<text x="353.2" y="198.2" font-size="6.3" text-anchor="start" fill="#222" stroke="#222" stroke-width="0.15" >-5kb</text>
<text x="481.0" y="198.2" font-size="6.3" text-anchor="start" fill="#222" stroke="#222" stroke-width="0.15" >5kb</text>
<rect x="385.90" y="192.60" width="76.20" height="18.00" fill="#e6f9fb" />
<line x1="385.90" y1="201.90" x2="462.10" y2="201.90" stroke="#1a1ae0" stroke-width="1.0" />
<polygon points="385.90,201.90 387.70,199.50 388.30,199.50 388.30,204.30 387.70,204.30" fill="#1a1ae0" />
<rect x="443.70" y="199.80" width="18.40" height="4.20" fill="#1a1ae0" />
<rect x="396.61" y="198.90" width="1.10" height="6.00" fill="#1a1ae0" />
<rect x="401.01" y="198.90" width="1.10" height="6.00" fill="#1a1ae0" />
<rect x="401.82" y="198.90" width="1.10" height="6.00" fill="#1a1ae0" />
<rect x="424.82" y="198.90" width="1.10" height="6.00" fill="#1a1ae0" />
<rect x="442.91" y="198.90" width="1.10" height="6.00" fill="#1a1ae0" />
<circle cx="390.40" cy="201.90" r="1.0" fill="#1a1ae0" />
<circle cx="393.05" cy="201.90" r="1.0" fill="#1a1ae0" />
<circle cx="395.70" cy="201.90" r="1.0" fill="#1a1ae0" />
<circle cx="398.35" cy="201.90" r="1.0" fill="#1a1ae0" />
<circle cx="401.00" cy="201.90" r="1.0" fill="#1a1ae0" />
<circle cx="403.65" cy="201.90" r="1.0" fill="#1a1ae0" />
<circle cx="406.30" cy="201.90" r="1.0" fill="#1a1ae0" />
<circle cx="408.95" cy="201.90" r="1.0" fill="#1a1ae0" />
<circle cx="411.60" cy="201.90" r="1.0" fill="#1a1ae0" />
<circle cx="414.25" cy="201.90" r="1.0" fill="#1a1ae0" />
<circle cx="416.90" cy="201.90" r="1.0" fill="#1a1ae0" />
<circle cx="419.55" cy="201.90" r="1.0" fill="#1a1ae0" />
<circle cx="422.20" cy="201.90" r="1.0" fill="#1a1ae0" />
<circle cx="424.85" cy="201.90" r="1.0" fill="#1a1ae0" />
<circle cx="427.50" cy="201.90" r="1.0" fill="#1a1ae0" />
<circle cx="430.15" cy="201.90" r="1.0" fill="#1a1ae0" />
<circle cx="432.80" cy="201.90" r="1.0" fill="#1a1ae0" />
<circle cx="435.45" cy="201.90" r="1.0" fill="#1a1ae0" />
<circle cx="438.10" cy="201.90" r="1.0" fill="#1a1ae0" />
<circle cx="440.75" cy="201.90" r="1.0" fill="#1a1ae0" />
<line x1="386.50" y1="195.20" x2="392.90" y2="195.20" stroke="#111" stroke-width="0.8" />
<polygon points="395.30,195.20 392.10,193.40 392.10,197.00" fill="#111" />
<text x="397.7" y="197.8" font-size="6.6" text-anchor="start" fill="#222" stroke="#222" stroke-width="0.15" font-style="italic">CCND1</text>
<line x1="349.70" y1="205.80" x2="349.70" y2="210.20" stroke="#c9a0e8" stroke-width="0.6" />
<line x1="352.30" y1="205.80" x2="352.30" y2="210.20" stroke="#c9a0e8" stroke-width="0.6" />
<line x1="355.00" y1="205.80" x2="355.00" y2="210.20" stroke="#c9a0e8" stroke-width="0.6" />
<line x1="362.80" y1="205.80" x2="362.80" y2="210.20" stroke="#e39be0" stroke-width="0.6" />
<line x1="366.80" y1="205.80" x2="366.80" y2="210.20" stroke="#e39be0" stroke-width="0.6" />
<line x1="369.40" y1="205.80" x2="369.40" y2="210.20" stroke="#e39be0" stroke-width="0.6" />
<line x1="372.00" y1="205.80" x2="372.00" y2="210.20" stroke="#e39be0" stroke-width="0.6" />
<line x1="374.70" y1="205.80" x2="374.70" y2="210.20" stroke="#c9a0e8" stroke-width="0.6" />
<line x1="377.30" y1="205.80" x2="377.30" y2="210.20" stroke="#c9a0e8" stroke-width="0.6" />
<line x1="394.40" y1="205.80" x2="394.40" y2="210.20" stroke="#c9a0e8" stroke-width="0.6" />
<line x1="418.00" y1="205.80" x2="418.00" y2="210.20" stroke="#d4a0e0" stroke-width="0.6" />
<line x1="420.70" y1="205.80" x2="420.70" y2="210.20" stroke="#d4a0e0" stroke-width="0.6" />
<line x1="425.90" y1="205.80" x2="425.90" y2="210.20" stroke="#e0b0d0" stroke-width="0.6" />
<line x1="437.70" y1="205.80" x2="437.70" y2="210.20" stroke="#a8b4ee" stroke-width="0.6" />
<line x1="440.40" y1="205.80" x2="440.40" y2="210.20" stroke="#a8b4ee" stroke-width="0.6" />
<line x1="443.00" y1="205.80" x2="443.00" y2="210.20" stroke="#a8b4ee" stroke-width="0.6" />
<text x="475.5" y="205.2" font-size="6.5" text-anchor="start" fill="#222" stroke="#222" stroke-width="0.15" >Allele</text>
<text x="475.5" y="211.6" font-size="6.5" text-anchor="start" fill="#222" stroke="#222" stroke-width="0.15" >G</text>
<text x="475.5" y="217.6" font-size="6.5" text-anchor="start" fill="#222" stroke="#222" stroke-width="0.15" >A</text>
<line x1="483.00" y1="209.50" x2="490.00" y2="209.50" stroke="#40cfc0" stroke-width="0.9" />
<line x1="483.00" y1="215.50" x2="490.00" y2="215.50" stroke="#ec5a50" stroke-width="0.9" />
<text x="508.9" y="13.7" font-size="14" text-anchor="start" fill="#000" >E</text>
<text x="609.8" y="16.9" font-size="6.9" text-anchor="middle" fill="#222" stroke="#222" stroke-width="0.15" >KMS12PE</text>
<rect x="537.50" y="20.00" width="139.00" height="38.60" fill="#ebebeb" />
<line x1="550.55" y1="20.00" x2="550.55" y2="58.60" stroke="#f7f7f7" stroke-width="0.4" />
<line x1="563.65" y1="20.00" x2="563.65" y2="58.60" stroke="#f7f7f7" stroke-width="0.4" />
<line x1="576.75" y1="20.00" x2="576.75" y2="58.60" stroke="#f7f7f7" stroke-width="0.4" />
<line x1="589.85" y1="20.00" x2="589.85" y2="58.60" stroke="#f7f7f7" stroke-width="0.4" />
<line x1="602.95" y1="20.00" x2="602.95" y2="58.60" stroke="#f7f7f7" stroke-width="0.4" />
<line x1="616.05" y1="20.00" x2="616.05" y2="58.60" stroke="#f7f7f7" stroke-width="0.4" />
<line x1="629.15" y1="20.00" x2="629.15" y2="58.60" stroke="#f7f7f7" stroke-width="0.4" />
<line x1="642.25" y1="20.00" x2="642.25" y2="58.60" stroke="#f7f7f7" stroke-width="0.4" />
<line x1="655.35" y1="20.00" x2="655.35" y2="58.60" stroke="#f7f7f7" stroke-width="0.4" />
<line x1="668.45" y1="20.00" x2="668.45" y2="58.60" stroke="#f7f7f7" stroke-width="0.4" />
<line x1="537.50" y1="48.50" x2="676.50" y2="48.50" stroke="#f7f7f7" stroke-width="0.4" />
<line x1="537.50" y1="32.10" x2="676.50" y2="32.10" stroke="#f7f7f7" stroke-width="0.4" />
<line x1="544.00" y1="20.00" x2="544.00" y2="58.60" stroke="#ffffff" stroke-width="0.7" />
<line x1="544.00" y1="58.60" x2="544.00" y2="59.90" stroke="#555" stroke-width="0.5" />
<line x1="557.10" y1="20.00" x2="557.10" y2="58.60" stroke="#ffffff" stroke-width="0.7" />
<line x1="557.10" y1="58.60" x2="557.10" y2="59.90" stroke="#555" stroke-width="0.5" />
<line x1="570.20" y1="20.00" x2="570.20" y2="58.60" stroke="#ffffff" stroke-width="0.7" />
<line x1="570.20" y1="58.60" x2="570.20" y2="59.90" stroke="#555" stroke-width="0.5" />
<line x1="583.30" y1="20.00" x2="583.30" y2="58.60" stroke="#ffffff" stroke-width="0.7" />
<line x1="583.30" y1="58.60" x2="583.30" y2="59.90" stroke="#555" stroke-width="0.5" />
<line x1="596.40" y1="20.00" x2="596.40" y2="58.60" stroke="#ffffff" stroke-width="0.7" />
<line x1="596.40" y1="58.60" x2="596.40" y2="59.90" stroke="#555" stroke-width="0.5" />
<line x1="609.50" y1="20.00" x2="609.50" y2="58.60" stroke="#ffffff" stroke-width="0.7" />
<line x1="609.50" y1="58.60" x2="609.50" y2="59.90" stroke="#555" stroke-width="0.5" />
<line x1="622.60" y1="20.00" x2="622.60" y2="58.60" stroke="#ffffff" stroke-width="0.7" />
<line x1="622.60" y1="58.60" x2="622.60" y2="59.90" stroke="#555" stroke-width="0.5" />
<line x1="635.70" y1="20.00" x2="635.70" y2="58.60" stroke="#ffffff" stroke-width="0.7" />
<line x1="635.70" y1="58.60" x2="635.70" y2="59.90" stroke="#555" stroke-width="0.5" />
<line x1="648.80" y1="20.00" x2="648.80" y2="58.60" stroke="#ffffff" stroke-width="0.7" />
<line x1="648.80" y1="58.60" x2="648.80" y2="59.90" stroke="#555" stroke-width="0.5" />
<line x1="661.90" y1="20.00" x2="661.90" y2="58.60" stroke="#ffffff" stroke-width="0.7" />
<line x1="661.90" y1="58.60" x2="661.90" y2="59.90" stroke="#555" stroke-width="0.5" />
<line x1="675.00" y1="20.00" x2="675.00" y2="58.60" stroke="#ffffff" stroke-width="0.7" />
<line x1="675.00" y1="58.60" x2="675.00" y2="59.90" stroke="#555" stroke-width="0.5" />
<line x1="537.50" y1="56.70" x2="676.50" y2="56.70" stroke="#ffffff" stroke-width="0.7" />
<line x1="536.00" y1="56.70" x2="537.50" y2="56.70" stroke="#555" stroke-width="0.5" />
<text x="534.8" y="59.0" font-size="6.4" text-anchor="end" fill="#333" stroke="#333" stroke-width="0.15" >0</text>
<line x1="537.50" y1="40.30" x2="676.50" y2="40.30" stroke="#ffffff" stroke-width="0.7" />
<line x1="536.00" y1="40.30" x2="537.50" y2="40.30" stroke="#555" stroke-width="0.5" />
<text x="534.8" y="42.6" font-size="6.4" text-anchor="end" fill="#333" stroke="#333" stroke-width="0.15" >4</text>
<line x1="537.50" y1="23.90" x2="676.50" y2="23.90" stroke="#ffffff" stroke-width="0.7" />
<line x1="536.00" y1="23.90" x2="537.50" y2="23.90" stroke="#555" stroke-width="0.5" />
<text x="534.8" y="26.2" font-size="6.4" text-anchor="end" fill="#333" stroke="#333" stroke-width="0.15" >8</text>
<text transform="translate(522.4,39.2) rotate(-90)" font-size="6.5" text-anchor="middle" fill="#222" stroke="#222" stroke-width="0.15" >RPM</text>
<line x1="536.00" y1="48.50" x2="537.50" y2="48.50" stroke="#333" stroke-width="0.7" />
<line x1="537.50" y1="48.50" x2="676.50" y2="48.50" stroke="#ffffff" stroke-width="0.7" />
<line x1="536.00" y1="32.10" x2="537.50" y2="32.10" stroke="#333" stroke-width="0.7" />
<line x1="537.50" y1="32.10" x2="676.50" y2="32.10" stroke="#ffffff" stroke-width="0.7" />
<polyline points="545.58,56.53 551.93,55.68 556.17,54.41 559.34,50.81 561.46,44.46 562.52,42.34 564.64,45.52 566.75,41.29 568.87,34.93 570.99,39.17 572.04,30.70 573.10,26.47 575.22,27.53 576.28,26.04 578.40,30.70 580.51,31.76 582.63,29.64 584.75,32.82 586.86,28.58 588.98,30.70 591.10,29.64 592.58,33.88 594.27,40.23 596.39,45.52 598.51,48.69 600.62,49.75 602.74,47.64 605.91,48.69 608.03,45.52 610.15,42.34 612.27,45.52 614.38,49.75 616.50,51.87 618.62,49.75 621.79,50.81 623.91,52.93 628.14,51.87 632.38,53.99 636.61,54.41 640.84,53.99 645.08,52.29 649.31,55.04 653.54,55.68 662.01,56.10 670.48,56.53" stroke="#40cfc0" stroke-width="0.9" fill="none" stroke-linejoin="round" />
<polyline points="545.58,56.53 551.93,56.10 556.17,55.04 559.34,51.87 561.46,47.64 563.58,45.52 565.69,44.46 567.81,41.29 569.93,43.40 572.04,39.17 573.10,36.63 575.22,38.11 577.34,37.48 579.45,41.29 581.15,42.34 582.63,40.23 585.80,39.17 588.98,38.11 591.10,39.17 593.21,43.40 595.33,47.64 598.51,50.81 602.74,51.45 606.97,50.81 610.15,47.64 612.27,50.81 615.44,52.93 619.67,52.93 623.91,53.99 628.14,54.41 632.38,55.04 640.84,55.04 645.08,52.93 649.31,55.68 657.78,56.10 670.48,56.53" stroke="#ec5a50" stroke-width="0.9" fill="none" stroke-linejoin="round" />
<polygon points="607.60,36.00 611.60,36.00 609.60,39.40" fill="#111" />
<text x="640.6" y="27.9" font-size="6.7" text-anchor="start" fill="#222" stroke="#222" stroke-width="0.15" >H3K27ac</text>
<text x="640.6" y="35.0" font-size="6.7" text-anchor="start" fill="#222" stroke="#222" stroke-width="0.15" >KMS12PE</text>
<text x="640.6" y="42.2" font-size="6.7" text-anchor="start" fill="#222" stroke="#222" stroke-width="0.15" >KI (G, n=2)</text>
<text x="640.6" y="49.4" font-size="6.7" text-anchor="start" fill="#222" stroke="#222" stroke-width="0.15" >WT (A, n=2)</text>
<text x="536.3" y="65.6" font-size="6.6" text-anchor="start" fill="#222" stroke="#222" stroke-width="0.15" >-5kb</text>
<text x="663.8" y="65.6" font-size="6.6" text-anchor="start" fill="#222" stroke="#222" stroke-width="0.15" >5kb</text>
<rect x="570.00" y="60.30" width="75.80" height="18.40" fill="#e6f9fb" />
<line x1="570.00" y1="69.90" x2="645.80" y2="69.90" stroke="#1a1ae0" stroke-width="1.0" />
<polygon points="570.00,69.90 571.80,67.50 572.40,67.50 572.40,72.30 571.80,72.30" fill="#1a1ae0" />
<rect x="627.20" y="67.80" width="18.60" height="4.20" fill="#1a1ae0" />
<rect x="580.60" y="66.90" width="1.10" height="6.00" fill="#1a1ae0" />
<rect x="584.94" y="66.90" width="1.10" height="6.00" fill="#1a1ae0" />
<rect x="585.74" y="66.90" width="1.10" height="6.00" fill="#1a1ae0" />
<rect x="608.51" y="66.90" width="1.10" height="6.00" fill="#1a1ae0" />
<rect x="626.41" y="66.90" width="1.10" height="6.00" fill="#1a1ae0" />
<circle cx="574.50" cy="69.90" r="1.0" fill="#1a1ae0" />
<circle cx="577.15" cy="69.90" r="1.0" fill="#1a1ae0" />
<circle cx="579.80" cy="69.90" r="1.0" fill="#1a1ae0" />
<circle cx="582.45" cy="69.90" r="1.0" fill="#1a1ae0" />
<circle cx="585.10" cy="69.90" r="1.0" fill="#1a1ae0" />
<circle cx="587.75" cy="69.90" r="1.0" fill="#1a1ae0" />
<circle cx="590.40" cy="69.90" r="1.0" fill="#1a1ae0" />
<circle cx="593.05" cy="69.90" r="1.0" fill="#1a1ae0" />
<circle cx="595.70" cy="69.90" r="1.0" fill="#1a1ae0" />
<circle cx="598.35" cy="69.90" r="1.0" fill="#1a1ae0" />
<circle cx="601.00" cy="69.90" r="1.0" fill="#1a1ae0" />
<circle cx="603.65" cy="69.90" r="1.0" fill="#1a1ae0" />
<circle cx="606.30" cy="69.90" r="1.0" fill="#1a1ae0" />
<circle cx="608.95" cy="69.90" r="1.0" fill="#1a1ae0" />
<circle cx="611.60" cy="69.90" r="1.0" fill="#1a1ae0" />
<circle cx="614.25" cy="69.90" r="1.0" fill="#1a1ae0" />
<circle cx="616.90" cy="69.90" r="1.0" fill="#1a1ae0" />
<circle cx="619.55" cy="69.90" r="1.0" fill="#1a1ae0" />
<circle cx="622.20" cy="69.90" r="1.0" fill="#1a1ae0" />
<circle cx="624.85" cy="69.90" r="1.0" fill="#1a1ae0" />
<line x1="570.60" y1="63.20" x2="577.00" y2="63.20" stroke="#111" stroke-width="0.8" />
<polygon points="579.40,63.20 576.20,61.40 576.20,65.00" fill="#111" />
<text x="581.8" y="65.8" font-size="6.6" text-anchor="start" fill="#222" stroke="#222" stroke-width="0.15" font-style="italic">CCND1</text>
<line x1="532.50" y1="74.30" x2="532.50" y2="78.90" stroke="#c9a0e8" stroke-width="0.6" />
<line x1="535.00" y1="74.30" x2="535.00" y2="78.90" stroke="#c9a0e8" stroke-width="0.6" />
<line x1="537.50" y1="74.30" x2="537.50" y2="78.90" stroke="#c9a0e8" stroke-width="0.6" />
<line x1="545.50" y1="74.30" x2="545.50" y2="78.90" stroke="#e39be0" stroke-width="0.6" />
<line x1="548.00" y1="74.30" x2="548.00" y2="78.90" stroke="#e39be0" stroke-width="0.6" />
<line x1="550.50" y1="74.30" x2="550.50" y2="78.90" stroke="#e39be0" stroke-width="0.6" />
<line x1="553.00" y1="74.30" x2="553.00" y2="78.90" stroke="#c9a0e8" stroke-width="0.6" />
<line x1="556.00" y1="74.30" x2="556.00" y2="78.90" stroke="#c9a0e8" stroke-width="0.6" />
<line x1="559.00" y1="74.30" x2="559.00" y2="78.90" stroke="#c9a0e8" stroke-width="0.6" />
<line x1="578.00" y1="74.30" x2="578.00" y2="78.90" stroke="#c9a0e8" stroke-width="0.6" />
<line x1="601.00" y1="74.30" x2="601.00" y2="78.90" stroke="#d4a0e0" stroke-width="0.6" />
<line x1="604.00" y1="74.30" x2="604.00" y2="78.90" stroke="#d4a0e0" stroke-width="0.6" />
<line x1="608.50" y1="74.30" x2="608.50" y2="78.90" stroke="#e0b0d0" stroke-width="0.6" />
<line x1="621.00" y1="74.30" x2="621.00" y2="78.90" stroke="#a8b4ee" stroke-width="0.6" />
<line x1="624.00" y1="74.30" x2="624.00" y2="78.90" stroke="#a8b4ee" stroke-width="0.6" />
<line x1="627.00" y1="74.30" x2="627.00" y2="78.90" stroke="#a8b4ee" stroke-width="0.6" />
<text x="659.3" y="73.8" font-size="6.5" text-anchor="start" fill="#222" stroke="#222" stroke-width="0.15" >Allele</text>
<text x="659.3" y="79.8" font-size="6.5" text-anchor="start" fill="#222" stroke="#222" stroke-width="0.15" >G</text>
<text x="659.3" y="86.0" font-size="6.5" text-anchor="start" fill="#222" stroke="#222" stroke-width="0.15" >A</text>
<line x1="666.50" y1="77.80" x2="673.50" y2="77.80" stroke="#40cfc0" stroke-width="0.9" />
<line x1="666.50" y1="84.00" x2="673.50" y2="84.00" stroke="#ec5a50" stroke-width="0.9" />
<text x="509.6" y="99.6" font-size="14" text-anchor="start" fill="#000" >F</text>
<rect x="537.40" y="104.00" width="25.70" height="84.00" fill="#ebebeb" />
<rect x="565.20" y="104.00" width="28.50" height="84.00" fill="#ebebeb" />
<line x1="537.40" y1="186.40" x2="563.10" y2="186.40" stroke="#fff" stroke-width="0.6" />
<line x1="565.20" y1="186.40" x2="593.70" y2="186.40" stroke="#fff" stroke-width="0.6" />
<line x1="536.00" y1="186.40" x2="537.40" y2="186.40" stroke="#444" stroke-width="0.4" />
<line x1="537.40" y1="166.43" x2="563.10" y2="166.43" stroke="#fff" stroke-width="0.6" />
<line x1="565.20" y1="166.43" x2="593.70" y2="166.43" stroke="#fff" stroke-width="0.6" />
<line x1="536.00" y1="166.43" x2="537.40" y2="166.43" stroke="#444" stroke-width="0.4" />
<line x1="537.40" y1="146.45" x2="563.10" y2="146.45" stroke="#fff" stroke-width="0.6" />
<line x1="565.20" y1="146.45" x2="593.70" y2="146.45" stroke="#fff" stroke-width="0.6" />
<line x1="536.00" y1="146.45" x2="537.40" y2="146.45" stroke="#444" stroke-width="0.4" />
<line x1="537.40" y1="126.47" x2="563.10" y2="126.47" stroke="#fff" stroke-width="0.6" />
<line x1="565.20" y1="126.47" x2="593.70" y2="126.47" stroke="#fff" stroke-width="0.6" />
<line x1="536.00" y1="126.47" x2="537.40" y2="126.47" stroke="#444" stroke-width="0.4" />
<line x1="537.40" y1="106.50" x2="563.10" y2="106.50" stroke="#fff" stroke-width="0.6" />
<line x1="565.20" y1="106.50" x2="593.70" y2="106.50" stroke="#fff" stroke-width="0.6" />
<line x1="536.00" y1="106.50" x2="537.40" y2="106.50" stroke="#444" stroke-width="0.4" />
<text x="580.3" y="101.4" font-size="5.2" text-anchor="middle" fill="#222" stroke="#222" stroke-width="0.15" font-weight="bold">H3K27ac</text>
<text x="537.2" y="188.2" font-size="5.0" text-anchor="end" fill="#222" stroke="#222" stroke-width="0.15" font-weight="bold">0.0</text>
<text x="537.2" y="168.2" font-size="5.0" text-anchor="end" fill="#222" stroke="#222" stroke-width="0.15" font-weight="bold">2.5</text>
<text x="537.2" y="148.2" font-size="5.0" text-anchor="end" fill="#222" stroke="#222" stroke-width="0.15" font-weight="bold">5.0</text>
<text x="537.2" y="128.3" font-size="5.0" text-anchor="end" fill="#222" stroke="#222" stroke-width="0.15" font-weight="bold">7.5</text>
<text x="537.2" y="108.3" font-size="5.0" text-anchor="end" fill="#222" stroke="#222" stroke-width="0.15" font-weight="bold">10.0</text>
<text transform="translate(525.2,151.3) rotate(-90)" font-size="4.7" text-anchor="middle" fill="#222" stroke="#222" stroke-width="0.15" font-weight="bold">Reads per 10M</text>
<rect x="539.30" y="146.45" width="9.50" height="39.95" fill="#ec6a66" stroke="#333" stroke-width="0.6"/>
<rect x="550.80" y="146.45" width="10.30" height="39.95" fill="#ec6a66" stroke="#333" stroke-width="0.6"/>
<rect x="569.30" y="106.50" width="9.70" height="79.90" fill="#5ed0c5" stroke="#333" stroke-width="0.6"/>
<rect x="581.60" y="106.50" width="9.70" height="79.90" fill="#5ed0c5" stroke="#333" stroke-width="0.6"/>
<text transform="translate(547.0,194.6) rotate(-45)" font-size="5.2" text-anchor="end" fill="#222" stroke="#222" stroke-width="0.15" font-weight="bold">KMS12PE WT (AA)</text>
<text transform="translate(559.0,194.6) rotate(-45)" font-size="5.2" text-anchor="end" fill="#222" stroke="#222" stroke-width="0.15" font-weight="bold">KMS12PE WT (AA)</text>
<text transform="translate(577.2,194.6) rotate(-45)" font-size="5.2" text-anchor="end" fill="#222" stroke="#222" stroke-width="0.15" font-weight="bold">KMS12PE KIA (GG)</text>
<text transform="translate(589.5,194.6) rotate(-45)" font-size="5.2" text-anchor="end" fill="#222" stroke="#222" stroke-width="0.15" font-weight="bold">KMS12PE KIB (GG)</text>
<text x="601.5" y="99.6" font-size="14" text-anchor="start" fill="#000" >G</text>
<line x1="630.80" y1="106.50" x2="630.80" y2="186.10" stroke="#222" stroke-width="0.9" />
<line x1="630.80" y1="186.10" x2="683.00" y2="186.10" stroke="#222" stroke-width="0.9" />
<line x1="628.80" y1="186.10" x2="630.80" y2="186.10" stroke="#222" stroke-width="0.7" />
<text x="626.2" y="188.1" font-size="5.4" text-anchor="end" fill="#222" stroke="#222" stroke-width="0.15" font-weight="bold">0.0</text>
<line x1="628.80" y1="166.42" x2="630.80" y2="166.42" stroke="#222" stroke-width="0.7" />
<text x="626.2" y="168.4" font-size="5.4" text-anchor="end" fill="#222" stroke="#222" stroke-width="0.15" font-weight="bold">0.5</text>
<line x1="628.80" y1="146.75" x2="630.80" y2="146.75" stroke="#222" stroke-width="0.7" />
<text x="626.2" y="148.8" font-size="5.4" text-anchor="end" fill="#222" stroke="#222" stroke-width="0.15" font-weight="bold">1.0</text>
<line x1="628.80" y1="127.07" x2="630.80" y2="127.07" stroke="#222" stroke-width="0.7" />
<text x="626.2" y="129.1" font-size="5.4" text-anchor="end" fill="#222" stroke="#222" stroke-width="0.15" font-weight="bold">1.5</text>
<line x1="628.80" y1="107.40" x2="630.80" y2="107.40" stroke="#222" stroke-width="0.7" />
<text x="626.2" y="109.4" font-size="5.4" text-anchor="end" fill="#222" stroke="#222" stroke-width="0.15" font-weight="bold">2.0</text>
<line x1="640.80" y1="186.10" x2="640.80" y2="189.00" stroke="#222" stroke-width="0.7" />
<line x1="656.60" y1="186.10" x2="656.60" y2="189.00" stroke="#222" stroke-width="0.7" />
<line x1="672.50" y1="186.10" x2="672.50" y2="189.00" stroke="#222" stroke-width="0.7" />
<rect x="635.80" y="146.75" width="10.30" height="39.35" fill="#f07878" />
<rect x="651.20" y="120.39" width="10.90" height="65.71" fill="#6ed3c8" />
<rect x="667.00" y="116.06" width="11.00" height="70.04" fill="#6ed3c8" />
<line x1="640.80" y1="141.50" x2="640.80" y2="150.00" stroke="#222" stroke-width="0.6" />
<line x1="639.60" y1="141.50" x2="642.00" y2="141.50" stroke="#222" stroke-width="0.6" />
<line x1="656.60" y1="116.50" x2="656.60" y2="122.50" stroke="#222" stroke-width="0.6" />
<line x1="655.40" y1="116.50" x2="657.80" y2="116.50" stroke="#222" stroke-width="0.6" />
<line x1="672.50" y1="111.50" x2="672.50" y2="118.50" stroke="#222" stroke-width="0.6" />
<line x1="671.30" y1="111.50" x2="673.70" y2="111.50" stroke="#222" stroke-width="0.6" />
<circle cx="640.70" cy="142.60" r="1.25" fill="#111" />
<circle cx="638.30" cy="149.20" r="1.25" fill="#111" />
<circle cx="643.30" cy="149.00" r="1.25" fill="#111" />
<circle cx="653.90" cy="121.70" r="1.25" fill="#111" />
<circle cx="656.40" cy="117.50" r="1.25" fill="#111" />
<circle cx="658.50" cy="121.00" r="1.25" fill="#111" />
<circle cx="669.80" cy="117.80" r="1.25" fill="#111" />
<circle cx="672.60" cy="112.60" r="1.25" fill="#111" />
<circle cx="674.70" cy="116.80" r="1.25" fill="#111" />
<line x1="637.20" y1="111.90" x2="653.90" y2="111.90" stroke="#9a9a9a" stroke-width="1.0" />
<text x="645.9" y="111.2" font-size="6.5" text-anchor="middle" fill="#222" stroke="#222" stroke-width="0.15" font-weight="bold">*</text>
<line x1="637.20" y1="102.30" x2="669.80" y2="102.30" stroke="#333" stroke-width="0.8" />
<text x="654.3" y="102.0" font-size="6.5" text-anchor="middle" fill="#222" stroke="#222" stroke-width="0.15" font-weight="bold">**</text>
<text transform="translate(613.5,152.3) rotate(-90)" font-size="5.5" text-anchor="middle" fill="#222" stroke="#222" stroke-width="0.15" font-weight="bold"><tspan font-style="italic">CCND1</tspan> expression</text>
<text transform="translate(643.8,195.2) rotate(-45)" font-size="5.2" text-anchor="end" fill="#222" stroke="#222" stroke-width="0.15" font-weight="bold">KMS12PE WT (AA)</text>
<text transform="translate(659.6,195.2) rotate(-45)" font-size="5.2" text-anchor="end" fill="#222" stroke="#222" stroke-width="0.15" font-weight="bold">KMS12PE KIA (GG)</text>
<text transform="translate(675.5,195.2) rotate(-45)" font-size="5.2" text-anchor="end" fill="#222" stroke="#222" stroke-width="0.15" font-weight="bold">KMS12PE KIB (GG)</text>
<text x="510.6" y="254.6" font-size="14" text-anchor="start" fill="#000" >H</text>
<rect x="638.30" y="281.80" width="9.60" height="73.70" fill="#f3d9ae" />
<text x="641.3" y="270.5" font-size="10.5" text-anchor="middle" fill="#222" stroke="#222" stroke-width="0.15" >rs9344</text>
<line x1="641.80" y1="271.80" x2="641.80" y2="279.00" stroke="#222" stroke-width="0.7" />
<polygon points="640.20,277.00 643.40,277.00 641.80,280.80" fill="#222" />
<text x="536.2" y="293.1" font-size="10.0" text-anchor="start" fill="#222" stroke="#222" stroke-width="0.15" >Ref</text>
<text x="536.2" y="303.8" font-size="10.0" text-anchor="start" fill="#222" stroke="#222" stroke-width="0.15" >Alt</text>
<text x="563.0" y="293.4" font-size="11.2" text-anchor="start" fill="#222" stroke="#222" stroke-width="0.15" textLength="121.7" lengthAdjust="spacingAndGlyphs">AGTGTGACCC<tspan fill="#40c8c0">G</tspan>GTAAG</text>
<text transform="translate(639.31,303.61) scale(1.052,1)" font-size="11.06" fill="#e8505a" font-weight="bold">A</text>
<text x="653.3" y="329.1" font-size="10.5" text-anchor="start" fill="#222" stroke="#222" stroke-width="0.15" >PAX5</text>
<text transform="translate(543.4,334.5) rotate(-90)" font-size="7.8" text-anchor="middle" fill="#222" stroke="#222" stroke-width="0.15" >Bits</text>
<text x="556.6" y="327.9" font-size="7.3" text-anchor="end" fill="#222" stroke="#222" stroke-width="0.15" >0.9</text>
<line x1="561.20" y1="325.30" x2="562.60" y2="325.30" stroke="#999" stroke-width="0.5" />
<text x="556.6" y="334.8" font-size="7.3" text-anchor="end" fill="#222" stroke="#222" stroke-width="0.15" >0.6</text>
<line x1="561.20" y1="332.20" x2="562.60" y2="332.20" stroke="#999" stroke-width="0.5" />
<text x="556.6" y="341.6" font-size="7.3" text-anchor="end" fill="#222" stroke="#222" stroke-width="0.15" >0.3</text>
<line x1="561.20" y1="339.00" x2="562.60" y2="339.00" stroke="#999" stroke-width="0.5" />
<text x="556.6" y="348.5" font-size="7.3" text-anchor="end" fill="#222" stroke="#222" stroke-width="0.15" >0.0</text>
<line x1="561.20" y1="345.90" x2="562.60" y2="345.90" stroke="#999" stroke-width="0.5" />
<line x1="562.60" y1="321.60" x2="562.60" y2="347.20" stroke="#999" stroke-width="0.5" />
<rect x="564.00" y="342.60" width="5.60" height="1.40" fill="#f0b030" opacity="0.55"/>
<rect x="564.00" y="344.10" width="5.60" height="1.30" fill="#3070c0" opacity="0.45"/>
<rect x="564.00" y="345.50" width="5.60" height="1.20" fill="#4caf50" opacity="0.35"/>
<rect x="564.00" y="346.80" width="5.60" height="0.90" fill="#e04040" opacity="0.3"/>
<rect x="571.30" y="342.60" width="5.80" height="1.40" fill="#4caf50" opacity="0.55"/>
<rect x="571.30" y="344.10" width="5.80" height="1.30" fill="#f0b030" opacity="0.45"/>
<rect x="571.30" y="345.50" width="5.80" height="1.20" fill="#e04040" opacity="0.35"/>
<rect x="571.30" y="346.80" width="5.80" height="0.90" fill="#3070c0" opacity="0.3"/>
<rect x="578.10" y="342.60" width="6.40" height="1.40" fill="#e04040" opacity="0.55"/>
<rect x="578.10" y="344.10" width="6.40" height="1.30" fill="#4caf50" opacity="0.45"/>
<rect x="578.10" y="345.50" width="6.40" height="1.20" fill="#3070c0" opacity="0.35"/>
<rect x="578.10" y="346.80" width="6.40" height="0.90" fill="#f0b030" opacity="0.3"/>
<rect x="585.50" y="342.60" width="5.80" height="1.40" fill="#3070c0" opacity="0.55"/>
<rect x="585.50" y="344.10" width="5.80" height="1.30" fill="#e04040" opacity="0.45"/>
<rect x="585.50" y="345.50" width="5.80" height="1.20" fill="#f0b030" opacity="0.35"/>
<rect x="585.50" y="346.80" width="5.80" height="0.90" fill="#4caf50" opacity="0.3"/>
<rect x="592.30" y="342.60" width="5.60" height="1.40" fill="#f0b030" opacity="0.55"/>
<rect x="592.30" y="344.10" width="5.60" height="1.30" fill="#3070c0" opacity="0.45"/>
<rect x="592.30" y="345.50" width="5.60" height="1.20" fill="#4caf50" opacity="0.35"/>
<rect x="592.30" y="346.80" width="5.60" height="0.90" fill="#e04040" opacity="0.3"/>
<rect x="600.20" y="342.60" width="6.20" height="1.40" fill="#4caf50" opacity="0.55"/>
<rect x="600.20" y="344.10" width="6.20" height="1.30" fill="#f0b030" opacity="0.45"/>
<rect x="600.20" y="345.50" width="6.20" height="1.20" fill="#e04040" opacity="0.35"/>
<rect x="600.20" y="346.80" width="6.20" height="0.90" fill="#3070c0" opacity="0.3"/>
<rect x="608.10" y="342.60" width="5.50" height="1.40" fill="#e04040" opacity="0.55"/>
<rect x="608.10" y="344.10" width="5.50" height="1.30" fill="#4caf50" opacity="0.45"/>
<rect x="608.10" y="345.50" width="5.50" height="1.20" fill="#3070c0" opacity="0.35"/>
<rect x="608.10" y="346.80" width="5.50" height="0.90" fill="#f0b030" opacity="0.3"/>
<rect x="615.30" y="342.60" width="6.20" height="1.40" fill="#3070c0" opacity="0.55"/>
<rect x="615.30" y="344.10" width="6.20" height="1.30" fill="#e04040" opacity="0.45"/>
<rect x="615.30" y="345.50" width="6.20" height="1.20" fill="#f0b030" opacity="0.35"/>
<rect x="615.30" y="346.80" width="6.20" height="0.90" fill="#4caf50" opacity="0.3"/>
<rect x="622.50" y="342.60" width="6.20" height="1.40" fill="#f0b030" opacity="0.55"/>
<rect x="622.50" y="344.10" width="6.20" height="1.30" fill="#3070c0" opacity="0.45"/>
<rect x="622.50" y="345.50" width="6.20" height="1.20" fill="#4caf50" opacity="0.35"/>
<rect x="622.50" y="346.80" width="6.20" height="0.90" fill="#e04040" opacity="0.3"/>
<rect x="629.70" y="342.60" width="6.90" height="1.40" fill="#4caf50" opacity="0.55"/>
<rect x="629.70" y="344.10" width="6.90" height="1.30" fill="#f0b030" opacity="0.45"/>
<rect x="629.70" y="345.50" width="6.90" height="1.20" fill="#e04040" opacity="0.35"/>
<rect x="629.70" y="346.80" width="6.90" height="0.90" fill="#3070c0" opacity="0.3"/>
<line x1="562.60" y1="347.90" x2="637.50" y2="347.90" stroke="#bbb" stroke-width="0.5" />
<text transform="translate(563.48,342.61) scale(0.692,1)" font-size="14.41" fill="#52b84c">A</text>
<text transform="translate(570.28,341.71) scale(0.329,1)" font-size="31.68" fill="#f0b030">G</text>
<text transform="translate(577.00,342.42) scale(0.571,1)" font-size="20.51" fill="#3a6fc4">C</text>
<text transform="translate(584.48,342.41) scale(0.488,1)" font-size="21.36" fill="#f0b030">G</text>
<text transform="translate(591.54,342.62) scale(0.613,1)" font-size="19.07" fill="#e0485a">T</text>
<text transform="translate(599.15,341.72) scale(0.360,1)" font-size="30.69" fill="#f0b030">G</text>
<text transform="translate(607.58,342.61) scale(0.854,1)" font-size="11.50" fill="#52b84c">A</text>
<text transform="translate(614.22,341.72) scale(0.371,1)" font-size="30.69" fill="#3a6fc4">C</text>
<text transform="translate(621.42,342.46) scale(0.719,1)" font-size="15.84" fill="#3a6fc4">C</text>
<text transform="translate(628.59,342.50) scale(1.084,1)" font-size="11.17" fill="#f0b030">G</text>
<text x="567.5" y="355.4" font-size="8.0" text-anchor="middle" fill="#222" stroke="#222" stroke-width="0.15" >1</text>
<text x="574.0" y="355.4" font-size="8.0" text-anchor="middle" fill="#222" stroke="#222" stroke-width="0.15" >2</text>
<text x="581.0" y="355.4" font-size="8.0" text-anchor="middle" fill="#222" stroke="#222" stroke-width="0.15" >3</text>
<text x="587.4" y="355.4" font-size="8.0" text-anchor="middle" fill="#222" stroke="#222" stroke-width="0.15" >4</text>
<text x="594.4" y="355.4" font-size="8.0" text-anchor="middle" fill="#222" stroke="#222" stroke-width="0.15" >5</text>
<text x="603.0" y="355.4" font-size="8.0" text-anchor="middle" fill="#222" stroke="#222" stroke-width="0.15" >6</text>
<text x="610.0" y="355.4" font-size="8.0" text-anchor="middle" fill="#222" stroke="#222" stroke-width="0.15" >7</text>
<text x="617.0" y="355.4" font-size="8.0" text-anchor="middle" fill="#222" stroke="#222" stroke-width="0.15" >8</text>
<text x="624.6" y="355.4" font-size="8.0" text-anchor="middle" fill="#222" stroke="#222" stroke-width="0.15" >9</text>
<text x="631.7" y="355.4" font-size="8.0" text-anchor="middle" fill="#222" stroke="#222" stroke-width="0.15" >10</text>
<line x1="641.90" y1="335.00" x2="641.90" y2="340.00" stroke="#222" stroke-width="1.1" />
<polygon points="639.70,338.80 644.10,338.80 641.90,343.40" fill="#222" />
</svg>
</body></html>
